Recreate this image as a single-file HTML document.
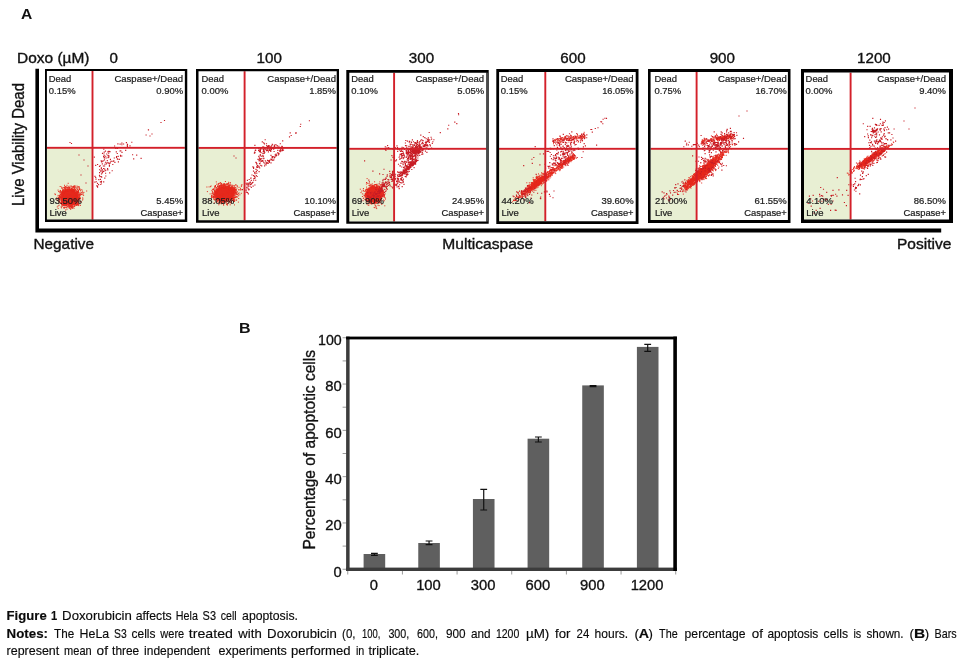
<!DOCTYPE html>
<html lang="en"><head><meta charset="utf-8"><title>Figure 1</title>
<style>html,body{margin:0;padding:0;background:#fff}body{width:960px;height:664px;position:relative;overflow:hidden}svg text{white-space:pre}</style></head>
<body>
<svg width="960" height="664" viewBox="0 0 960 664" style="position:absolute;left:0;top:0" shape-rendering="geometricPrecision">
<path d="M35.4 68.8H39.0V228.4H941.2V232.6H35.4Z" fill="#000"/>
<defs>
<clipPath id="c0"><rect x="46.90" y="71.00" width="137.95" height="148.60"/></clipPath>
<clipPath id="c1"><rect x="198.50" y="71.20" width="138.20" height="149.10"/></clipPath>
<clipPath id="c2"><rect x="349.30" y="72.70" width="137.10" height="148.80"/></clipPath>
<clipPath id="c3"><rect x="499.10" y="72.00" width="136.60" height="149.20"/></clipPath>
<clipPath id="c4"><rect x="650.60" y="72.00" width="137.30" height="148.00"/></clipPath>
<clipPath id="c5"><rect x="804.00" y="72.60" width="145.00" height="146.90"/></clipPath>
</defs>
<rect x="46.90" y="147.80" width="45.60" height="71.80" fill="#e8efd3"/>
<g clip-path="url(#c0)" fill="none" stroke-linecap="square" stroke-width="1">
<ellipse cx="69.8" cy="197.4" rx="8.0" ry="7.6" fill="#e6291d" stroke="none"/>
<path stroke="#e6291d" d="M62.6 200.9h0M62.5 190.3h0M67.0 204.4h0M61.1 196.1h0M63.5 200.8h0M75.3 189.1h0M61.6 187.1h0M76.7 199.9h0M63.1 202.7h0M61.3 194.8h0M73.4 190.0h0M64.2 204.0h0M75.8 193.2h0M75.2 192.2h0M78.4 198.7h0M77.7 186.9h0M80.2 198.9h0M58.1 195.4h0M73.5 203.5h0M62.5 196.0h0M74.5 186.4h0M74.5 191.5h0M81.6 192.7h0M63.2 191.2h0M65.4 191.4h0M76.1 193.6h0M73.1 203.9h0M66.0 203.8h0M61.3 203.2h0M76.2 193.2h0M74.7 203.5h0M59.9 195.8h0M61.8 200.8h0M76.2 204.0h0M61.7 193.0h0M61.4 201.8h0M77.5 197.6h0M62.7 194.9h0M63.1 194.8h0M59.7 198.7h0M67.0 189.4h0M60.2 193.8h0M71.7 188.9h0M78.1 190.2h0M71.8 207.3h0M77.9 196.9h0M81.3 202.1h0M72.5 186.8h0M77.0 199.2h0M61.4 201.6h0M75.5 204.8h0M78.9 201.7h0M64.7 191.9h0M77.1 201.5h0M77.6 200.7h0M60.5 194.3h0M61.6 197.6h0M65.1 186.6h0M65.3 203.9h0M76.2 200.3h0M76.9 201.4h0M68.9 207.8h0M70.2 208.0h0M67.9 189.2h0M77.7 199.5h0M69.0 189.9h0M61.6 197.2h0M72.5 190.2h0M62.0 193.0h0M76.3 202.2h0M71.9 190.9h0M69.1 186.2h0M79.8 196.1h0M74.6 187.7h0M72.4 207.0h0M70.9 206.1h0M66.5 204.6h0M77.0 197.5h0M76.3 202.0h0M67.6 206.8h0M62.3 204.7h0M75.7 192.4h0M63.3 190.8h0M72.2 206.0h0M81.8 189.7h0M61.7 193.8h0M77.8 195.1h0M62.2 203.3h0M73.7 190.2h0M76.2 195.0h0M65.4 191.8h0M77.1 199.2h0M70.9 206.6h0M64.9 189.3h0M71.1 204.2h0M66.8 207.1h0M64.5 188.8h0M72.5 208.2h0M77.0 192.3h0M68.2 183.3h0M73.8 206.2h0M64.8 203.4h0M63.1 204.0h0M63.1 201.4h0M69.6 188.6h0M77.0 197.6h0M80.1 194.7h0M73.1 191.1h0M72.1 203.9h0M64.3 207.6h0M79.3 189.3h0M69.7 189.5h0M74.9 204.4h0M59.1 205.2h0M61.9 198.6h0M74.9 189.7h0M69.3 204.5h0M66.0 206.9h0M79.3 187.0h0M79.1 197.7h0M62.7 200.9h0M62.4 202.1h0M63.8 190.4h0M60.1 196.2h0M73.6 187.3h0M80.8 193.5h0M62.9 201.9h0M68.4 188.8h0M70.4 190.3h0M69.0 190.3h0M78.7 186.7h0M68.9 189.9h0M74.0 208.3h0M59.0 197.9h0M72.2 188.2h0M60.1 197.3h0M75.1 205.6h0M65.9 189.5h0M73.5 203.7h0M62.0 193.3h0M80.5 205.3h0M65.1 202.8h0M61.9 188.3h0M60.7 196.7h0M76.5 204.6h0M75.0 192.2h0M76.3 194.8h0M69.9 206.3h0M76.8 200.0h0M78.4 200.0h0M78.1 197.7h0M66.1 203.3h0M67.0 189.9h0M69.4 187.5h0M70.4 206.3h0M63.7 187.6h0M61.7 198.9h0M67.1 189.7h0M63.4 199.9h0M78.1 201.6h0M77.5 203.3h0M64.6 203.1h0M73.6 189.6h0M77.7 200.7h0M78.7 192.4h0M74.3 191.3h0M64.5 191.7h0M63.0 200.1h0M70.7 186.1h0M62.1 197.8h0M65.1 203.7h0M69.1 207.2h0M76.4 200.9h0M67.3 190.6h0M63.3 203.3h0M62.7 196.0h0M74.4 203.9h0M66.1 191.7h0M67.4 189.8h0M76.7 196.4h0M78.6 203.7h0M77.4 196.7h0M63.7 201.7h0M64.0 201.2h0M63.4 194.3h0M68.3 189.1h0M65.3 189.0h0M58.2 198.1h0M73.8 203.5h0M63.2 195.7h0M61.0 202.7h0M64.1 201.7h0M78.7 205.6h0M71.3 204.6h0M74.9 202.6h0M71.5 207.8h0M73.1 190.5h0M76.7 197.5h0M77.4 193.9h0M77.4 200.1h0M76.0 193.4h0M75.0 203.4h0M80.4 198.1h0M70.6 204.5h0M76.1 193.3h0M74.3 204.9h0M64.0 192.9h0M65.3 189.8h0M71.7 189.8h0M62.9 196.1h0M61.6 200.6h0M61.5 195.4h0M78.0 197.7h0M65.6 190.6h0M65.7 188.7h0M63.9 207.5h0M65.3 204.3h0M62.5 196.3h0M58.1 197.0h0M65.5 191.4h0M64.8 192.0h0M76.5 199.0h0M65.7 191.3h0M71.3 188.4h0M73.1 190.9h0M63.5 190.0h0M61.3 192.1h0M77.9 204.8h0M77.2 201.8h0M76.9 199.6h0M67.9 189.5h0M60.1 199.7h0M69.5 208.0h0M74.1 204.4h0M74.5 203.2h0M64.1 202.1h0M76.9 195.0h0M80.6 201.5h0M67.5 190.0h0M77.8 196.3h0M61.7 201.1h0M62.5 192.2h0M73.4 189.6h0M77.7 199.4h0M73.1 189.8h0M74.4 191.4h0M66.0 189.1h0M62.5 195.0h0M72.0 203.9h0M69.6 204.2h0M76.4 201.3h0M61.8 193.2h0M82.6 200.0h0M76.7 195.1h0M74.4 187.8h0M61.7 194.5h0M59.7 200.0h0M77.7 204.5h0M63.0 189.5h0M82.8 194.7h0M77.4 192.3h0M62.2 187.9h0M70.1 187.7h0M63.7 193.6h0M79.4 199.5h0M71.6 206.8h0M75.8 191.0h0M77.9 202.8h0M75.1 203.9h0M65.9 205.5h0M78.8 204.9h0M78.4 200.4h0M61.1 206.9h0M79.6 197.3h0M72.9 203.8h0M74.5 190.5h0M73.0 204.5h0M73.3 189.9h0M64.5 202.0h0M77.9 200.5h0M69.8 205.0h0M62.6 193.0h0M74.5 188.8h0M61.7 203.4h0M58.7 202.0h0M73.0 188.9h0M73.1 190.1h0M79.5 194.9h0M77.1 196.1h0M73.0 189.5h0M60.4 195.0h0M67.0 209.2h0M67.7 204.2h0M63.3 199.9h0M76.6 195.7h0M63.6 192.1h0M58.8 197.5h0M71.6 189.3h0M71.7 189.6h0M74.3 190.9h0M61.3 201.4h0M76.3 194.0h0M54.9 193.9h0M63.6 205.4h0M61.9 193.6h0M62.0 196.0h0M77.8 196.4h0M75.4 186.1h0M61.5 207.8h0M63.4 201.2h0M55.4 194.6h0M61.9 196.3h0M63.9 192.6h0M77.3 202.6h0M78.3 200.3h0M60.3 192.2h0M77.5 194.0h0M66.2 205.5h0M61.1 191.2h0M59.3 197.7h0M66.6 205.2h0M62.2 198.1h0M75.5 202.8h0M62.1 200.1h0M62.0 204.6h0M72.6 207.1h0M68.9 204.4h0M73.5 204.6h0M76.0 193.6h0M76.1 191.9h0M76.9 203.4h0M73.6 191.3h0M75.6 202.1h0M72.2 206.2h0M69.7 189.7h0M69.2 189.7h0M67.5 190.3h0M67.1 205.5h0M65.8 203.9h0M62.9 195.3h0M70.6 189.7h0M77.0 197.1h0M62.8 190.5h0M77.1 198.6h0M75.4 189.7h0M73.5 203.7h0M73.2 191.5h0M64.3 203.1h0M78.4 191.9h0M59.1 201.2h0M74.4 190.6h0M65.8 190.8h0M79.1 195.8h0M77.5 189.1h0M64.8 204.5h0M76.3 202.7h0M61.8 200.4h0M76.7 197.0h0M76.3 202.0h0M77.4 193.3h0M73.3 203.3h0M65.8 203.2h0M66.4 190.5h0M69.0 187.5h0M62.4 195.2h0M77.2 203.5h0M75.7 202.1h0M66.9 190.5h0M61.1 197.3h0M73.1 204.3h0M71.7 205.9h0M57.6 200.4h0M59.2 195.6h0M62.9 194.8h0M75.0 192.3h0M72.3 189.4h0M67.4 204.0h0M64.1 208.4h0M78.5 197.8h0M58.7 191.5h0M65.2 202.9h0M62.0 201.0h0M62.9 192.5h0M68.7 186.9h0M73.0 189.6h0M66.5 203.4h0M68.0 190.6h0M71.5 186.2h0M59.7 196.0h0M69.1 188.2h0M65.6 205.3h0M75.2 201.6h0M62.8 202.1h0M61.7 202.3h0M65.7 210.0h0M74.5 204.2h0M69.9 189.8h0M60.8 198.2h0M62.0 193.3h0M72.0 205.6h0M65.0 202.9h0M79.0 187.4h0M78.7 204.6h0M79.3 197.9h0M73.9 202.8h0M64.7 205.2h0M67.9 189.1h0M70.5 204.6h0M82.9 199.0h0M66.2 205.1h0M74.0 202.8h0M72.2 207.9h0M75.0 192.9h0M65.3 186.6h0M59.7 202.8h0M62.1 191.5h0M74.0 191.4h0M65.2 207.4h0M76.9 197.4h0M58.1 190.1h0M68.9 206.3h0M63.0 198.5h0M73.5 204.1h0M74.1 189.7h0M63.8 202.7h0M58.2 205.9h0M62.2 198.4h0M64.2 191.3h0M75.7 193.4h0M60.9 198.8h0M61.8 196.8h0M66.4 191.5h0M70.7 190.4h0M76.8 200.9h0M77.7 197.3h0M82.7 197.9h0M75.0 191.9h0M68.7 204.6h0M60.2 200.1h0M61.5 200.3h0M72.1 187.6h0M69.4 206.3h0M77.7 199.4h0M73.5 186.5h0M82.5 191.1h0M61.3 198.2h0M68.6 206.0h0M60.6 191.2h0M64.0 205.6h0M73.1 203.9h0M62.6 195.1h0M74.8 206.0h0M65.7 204.3h0M70.4 205.7h0M60.8 197.3h0M80.1 198.3h0M62.2 197.9h0M70.7 204.2h0M63.6 193.4h0M64.1 207.2h0M77.4 197.3h0M71.5 188.6h0M74.1 191.5h0M74.6 188.9h0M75.7 193.6h0M73.6 191.0h0M73.2 191.0h0M77.2 196.0h0M69.7 205.2h0M60.4 197.8h0M63.9 201.9h0M77.3 194.7h0M65.1 191.0h0M73.7 191.2h0M64.8 203.7h0M65.7 191.1h0M77.5 199.4h0M71.3 205.9h0M62.8 191.9h0M74.5 206.2h0M62.3 199.5h0M62.7 204.0h0M59.6 200.9h0M62.1 205.9h0M77.4 200.1h0M63.0 199.6h0M75.2 193.2h0M78.5 194.9h0M64.2 201.7h0M61.7 204.6h0M62.6 193.9h0M80.6 195.2h0M72.5 206.0h0M62.0 199.8h0M64.9 192.0h0M63.6 204.4h0M63.6 205.1h0M63.1 201.3h0M62.9 188.9h0M76.4 194.9h0M73.2 205.0h0M65.3 189.7h0M61.4 197.3h0M68.6 205.2h0M71.8 189.8h0M77.2 192.2h0M69.4 189.8h0M64.6 190.6h0M63.4 192.8h0M64.6 187.5h0M62.5 194.9h0M77.6 199.3h0M71.3 204.5h0M71.9 205.0h0M77.1 198.8h0M71.1 205.6h0M77.6 197.2h0M76.8 196.3h0M79.0 194.5h0M78.4 198.1h0M64.1 204.3h0M74.0 203.3h0M56.9 199.6h0M76.3 193.6h0M61.9 198.5h0M79.1 198.6h0M67.2 187.8h0M72.9 190.1h0M73.5 191.1h0M63.5 191.4h0M75.7 204.4h0M70.7 209.4h0M71.7 190.0h0M65.1 192.4h0M77.5 196.3h0M70.4 206.9h0M72.8 204.3h0M75.8 201.8h0M77.2 191.6h0M78.2 197.5h0M62.3 194.8h0M63.4 193.3h0M73.6 190.8h0M68.8 189.5h0M60.4 190.4h0M64.1 190.1h0M69.0 190.1h0M76.8 193.3h0M66.3 190.2h0M61.8 200.9h0M74.2 206.3h0M76.4 194.5h0M77.0 186.1h0M77.1 191.3h0M66.3 203.6h0M71.2 188.9h0M76.2 202.1h0M60.0 195.1h0M61.8 202.4h0M65.6 187.4h0M67.6 206.1h0M67.0 185.3h0M69.6 190.5h0M68.7 204.3h0M74.6 191.6h0M78.2 198.1h0M77.4 205.1h0M74.7 202.9h0M69.9 204.7h0M65.6 190.7h0M77.4 189.8h0M74.6 203.2h0M76.5 195.1h0M72.4 203.8h0M61.0 192.5h0M80.2 198.2h0M59.4 196.7h0M56.5 198.0h0M71.4 207.7h0M74.0 203.9h0M77.7 204.6h0M62.2 202.0h0M65.3 190.5h0M78.8 200.3h0M78.3 195.7h0M74.3 191.4h0M72.7 189.1h0M78.0 201.4h0M76.1 200.4h0M66.2 190.9h0M77.1 195.5h0M60.6 203.1h0M66.0 191.4h0M62.3 205.1h0M70.7 189.7h0M66.7 187.1h0M72.2 204.0h0M74.9 190.6h0M77.4 203.7h0M69.2 204.6h0M72.1 190.3h0M72.3 190.6h0M63.0 196.0h0M76.6 198.7h0M62.8 191.6h0M70.9 189.8h0M67.5 187.3h0M77.8 193.9h0M68.1 190.6h0M78.8 193.2h0M79.2 196.3h0M76.3 200.3h0M79.0 203.3h0M73.2 203.6h0M77.0 191.8h0M59.2 199.1h0M63.1 198.8h0M73.6 207.1h0M76.0 202.1h0M73.1 203.4h0M62.8 201.1h0M77.1 197.9h0M62.6 191.9h0M74.4 191.2h0M71.1 206.3h0M75.3 192.9h0M70.1 206.6h0M74.2 185.6h0M68.8 190.6h0M74.4 190.8h0M76.4 194.8h0M78.1 199.9h0M65.8 203.5h0M71.5 189.3h0M73.3 187.8h0M75.5 193.5h0M66.5 205.1h0M62.9 193.4h0M62.1 201.6h0M76.5 203.8h0M61.9 196.3h0M79.8 188.8h0M67.3 188.2h0M76.5 205.4h0M70.3 189.2h0M63.5 204.5h0M60.6 197.3h0M78.5 191.4h0M59.8 196.8h0M64.5 192.0h0M68.3 190.7h0M62.4 192.1h0M68.5 190.7h0M68.6 205.1h0M60.2 186.5h0M66.0 203.4h0M59.1 201.5h0M59.5 198.3h0M66.4 187.2h0M74.7 204.1h0M68.8 187.4h0M74.3 191.6h0M64.3 205.7h0M76.0 193.0h0M63.8 204.0h0M63.6 204.3h0M65.9 204.0h0M77.0 200.1h0M78.6 192.1h0M60.6 194.5h0M78.1 202.4h0M69.7 189.3h0M74.8 192.5h0M60.1 191.0h0M64.5 187.8h0M62.1 206.2h0M83.6 195.3h0M65.6 202.8h0M62.7 200.1h0M77.8 194.6h0M77.5 197.6h0M77.5 197.7h0M63.5 194.6h0M60.6 203.0h0M79.3 194.8h0M76.1 193.3h0M71.7 190.0h0M66.8 203.7h0M74.4 204.2h0M76.3 194.5h0M74.1 203.0h0M61.4 193.4h0M63.2 204.1h0M83.9 192.4h0M72.4 190.9h0M61.5 199.6h0M61.2 203.2h0M69.8 204.9h0M77.0 201.6h0M64.3 205.3h0M77.1 196.1h0M77.6 202.7h0M62.0 199.1h0M79.3 195.2h0M62.9 195.1h0M81.6 194.5h0M63.0 205.0h0M66.3 207.7h0M70.2 208.4h0M65.9 188.8h0M61.8 201.9h0M63.0 193.3h0M73.3 204.4h0M77.8 203.1h0M68.8 205.8h0M75.7 187.3h0M75.3 201.7h0M83.0 193.6h0M64.0 204.2h0M63.2 193.5h0M65.9 190.6h0M59.7 196.7h0M64.5 185.3h0M79.4 196.9h0M77.0 194.4h0M59.4 192.1h0M63.8 194.1h0M68.3 201.5h0M73.4 202.2h0M72.1 195.8h0M80.8 192.1h0M76.2 190.1h0M80.7 194.4h0M71.3 195.0h0M67.9 201.4h0M74.1 194.4h0M67.9 203.0h0M77.2 192.3h0M79.2 188.4h0M76.0 190.5h0M79.7 189.8h0M78.5 190.3h0M76.1 196.1h0M67.8 199.0h0M69.1 200.1h0M68.8 197.0h0M72.9 198.4h0M66.9 199.3h0M70.1 195.7h0M68.1 198.1h0M71.6 192.0h0M72.3 192.5h0M75.4 199.6h0M67.2 198.9h0M72.4 198.2h0M67.7 194.0h0M64.1 201.7h0M75.2 196.5h0M70.4 198.7h0M68.4 201.8h0M71.3 194.5h0M75.6 198.0h0M66.4 196.4h0M65.6 197.1h0M72.7 196.3h0M71.9 196.5h0M78.5 190.6h0M62.9 195.9h0M73.0 193.4h0M71.7 197.2h0M73.0 191.0h0M67.5 199.1h0M73.2 198.1h0M67.2 193.6h0M76.7 188.2h0M67.8 199.8h0M69.9 203.9h0M74.4 195.6h0M72.9 201.1h0M74.5 192.2h0M77.1 187.8h0M69.7 198.2h0M72.0 193.3h0M82.8 192.4h0M67.9 199.6h0M68.6 197.0h0M77.9 192.1h0M72.0 196.1h0M67.7 202.0h0M70.1 200.6h0M69.5 196.4h0M80.7 190.4h0M68.4 196.9h0M78.1 196.7h0M75.3 192.5h0M65.6 198.4h0M72.2 196.4h0M70.6 200.2h0M66.5 197.7h0M75.8 194.5h0M71.6 198.7h0M67.0 203.6h0M86.7 191.0h0M75.6 198.6h0M74.4 197.7h0M71.7 196.6h0M73.1 190.4h0M73.5 199.4h0M57.3 206.9h0M77.9 192.7h0M75.3 197.3h0M71.9 190.8h0M67.1 198.4h0M72.7 194.2h0M74.0 198.9h0M58.2 208.4h0M78.3 193.2h0M72.7 195.6h0M74.8 194.6h0M69.6 199.6h0M68.0 198.5h0M69.1 194.7h0M75.7 193.2h0M66.2 199.6h0M66.9 203.2h0M77.7 197.2h0M70.3 198.9h0M66.3 197.5h0M72.5 196.6h0M77.1 191.6h0M79.6 193.2h0M67.6 198.4h0M69.7 201.9h0M70.6 199.1h0M77.1 191.7h0M70.3 197.9h0M66.8 196.0h0M67.8 199.6h0M75.7 198.0h0M63.4 203.1h0M67.8 201.8h0M76.4 193.2h0M79.9 189.4h0M68.4 195.5h0M69.1 198.1h0M77.7 195.4h0M70.2 195.2h0"/>
<path stroke-width="1.15" stroke="#c81c24" d="M106.3 163.8h0M101.5 181.4h0M101.4 167.8h0M101.4 182.9h0M101.3 168.8h0M99.5 175.3h0M101.2 160.9h0M104.6 157.8h0M103.8 166.0h0M108.8 157.1h0M103.3 166.0h0M99.6 169.7h0M109.3 151.6h0M94.9 182.1h0M109.4 166.1h0M108.9 151.4h0M104.5 159.9h0M103.7 181.9h0M105.7 156.2h0M106.7 154.0h0M103.7 171.3h0M99.5 166.3h0M108.0 155.6h0M105.8 176.0h0M96.8 185.9h0M98.6 184.6h0M104.9 164.2h0M101.2 176.5h0M104.8 178.1h0M104.0 154.0h0M103.8 149.1h0M101.7 177.1h0M108.7 153.2h0M95.7 177.5h0M100.8 184.5h0M102.3 163.9h0M108.9 155.8h0M105.1 170.7h0M104.1 157.4h0M108.0 151.7h0M99.9 176.6h0M95.0 176.4h0M103.2 160.9h0M100.5 179.3h0M105.5 151.1h0M104.7 169.1h0M97.4 186.0h0M102.5 153.4h0M101.5 174.0h0M107.3 160.6h0M101.7 161.9h0M100.4 181.8h0M104.2 152.1h0M106.2 158.0h0M98.8 179.6h0M103.6 156.3h0M97.5 183.3h0M105.8 170.2h0M99.6 172.6h0M101.0 170.6h0M97.6 187.1h0M104.3 155.7h0M100.3 165.7h0M96.3 181.7h0M104.3 157.9h0M110.4 159.3h0M105.5 162.2h0M102.0 161.4h0M107.9 151.9h0M102.6 172.1h0M103.6 168.5h0M108.0 155.4h0M102.2 172.9h0M104.6 166.0h0M96.0 179.1h0M110.3 162.9h0M111.4 161.2h0M120.0 151.0h0M109.7 172.9h0M113.8 160.8h0M113.0 161.3h0M112.2 170.7h0M116.6 156.6h0M118.4 161.9h0M107.0 162.7h0M114.3 158.0h0M117.5 159.1h0M119.4 159.2h0M105.6 173.2h0M95.7 165.4h0M107.6 168.6h0M103.1 171.3h0M110.8 161.2h0M112.8 164.5h0M109.4 165.0h0M97.6 164.5h0M107.8 169.9h0M102.5 169.8h0M117.3 158.7h0M94.3 157.1h0M100.9 171.3h0M117.2 148.2h0M108.2 162.9h0M122.0 152.3h0M108.1 157.6h0M118.2 156.3h0M116.3 151.8h0M109.2 163.4h0M115.7 148.5h0M114.9 162.3h0M117.9 143.8h0M120.1 144.1h0M127.3 145.2h0M127.5 144.4h0M130.0 145.8h0M121.9 144.7h0M126.4 142.6h0M114.6 146.0h0M123.6 144.0h0M121.9 143.1h0M117.5 148.5h0M132.6 154.7h0M119.1 159.4h0M121.8 156.0h0M120.8 150.8h0M125.7 150.3h0M110.1 151.7h0M133.7 158.8h0M141.1 158.4h0M136.7 155.1h0M120.6 156.1h0M116.5 157.3h0M120.5 155.2h0M117.3 153.5h0M148.4 129.7h0M127.4 146.3h0M148.5 129.8h0M146.1 135.0h0M131.8 142.2h0M164.5 120.5h0M161.0 122.5h0M152.0 134.0h0M150.0 136.0h0M70.0 142.5h0M71.5 143.5h0M79.0 155.0h0M84.0 160.0h0M88.0 166.0h0M86.0 183.0h0M81.0 175.0h0"/>
</g>
<rect x="46.90" y="146.85" width="137.95" height="1.9" fill="#d3202a"/>
<rect x="91.55" y="71.00" width="1.9" height="148.60" fill="#d3202a"/>
<path fill-rule="evenodd" fill="#000" d="M45.0 69.0H187.25V222.0H45.0ZM46.90 71.00V219.60H184.85V71.00Z"/>
<rect x="198.50" y="147.90" width="46.10" height="72.40" fill="#e8efd3"/>
<g clip-path="url(#c1)" fill="none" stroke-linecap="square" stroke-width="1">
<ellipse cx="224.5" cy="193.6" rx="9.0" ry="6.4" fill="#e6291d" stroke="none"/>
<path stroke="#e6291d" d="M225.4 186.6h0M229.5 186.0h0M220.4 201.1h0M230.2 198.0h0M231.5 191.2h0M234.1 199.3h0M226.9 200.7h0M231.4 189.5h0M219.8 187.1h0M238.4 202.1h0M215.0 196.2h0M218.2 197.2h0M241.1 189.7h0M236.3 190.7h0M217.3 189.8h0M224.2 202.5h0M209.1 186.9h0M232.7 191.7h0M213.0 197.3h0M215.6 192.9h0M233.2 190.5h0M231.1 197.4h0M216.4 192.5h0M220.8 202.7h0M237.4 186.1h0M235.4 195.0h0M215.7 192.1h0M217.6 187.0h0M218.5 189.8h0M234.7 192.4h0M231.3 198.3h0M214.5 194.3h0M219.2 187.7h0M232.1 195.1h0M235.0 197.5h0M217.7 198.1h0M236.3 194.3h0M230.0 189.5h0M224.4 184.1h0M214.0 194.6h0M217.9 200.3h0M231.4 197.7h0M215.6 192.1h0M223.1 187.7h0M218.6 199.6h0M223.8 200.7h0M221.0 199.5h0M232.6 191.2h0M221.5 185.6h0M221.4 186.3h0M220.0 183.3h0M218.2 197.5h0M225.5 188.1h0M225.5 188.1h0M233.7 199.5h0M227.7 198.7h0M221.8 185.9h0M212.4 193.7h0M221.6 187.8h0M220.3 185.7h0M218.9 197.7h0M221.3 199.7h0M217.6 198.6h0M217.5 198.8h0M211.9 190.4h0M232.9 196.3h0M217.6 196.3h0M216.4 193.9h0M232.2 192.7h0M216.1 193.0h0M232.9 187.1h0M232.9 194.3h0M231.9 196.2h0M216.8 194.6h0M232.5 194.3h0M234.3 190.9h0M220.1 187.7h0M232.2 197.3h0M222.5 187.1h0M221.6 183.6h0M230.8 190.1h0M215.6 192.3h0M218.3 198.3h0M229.8 185.8h0M226.7 200.4h0M218.1 184.4h0M233.1 189.0h0M216.7 184.2h0M232.4 200.5h0M216.8 202.0h0M227.8 200.3h0M216.8 191.3h0M223.7 183.9h0M214.2 194.1h0M233.2 189.4h0M220.0 199.4h0M232.9 188.1h0M231.9 189.3h0M237.1 191.5h0M223.8 186.8h0M216.7 192.8h0M218.0 197.8h0M211.1 186.0h0M234.6 201.0h0M218.7 199.6h0M217.2 191.1h0M230.5 188.8h0M224.1 199.9h0M216.6 192.4h0M232.6 192.1h0M236.7 194.2h0M220.8 201.3h0M225.9 187.5h0M220.0 199.1h0M220.0 200.3h0M221.0 186.9h0M232.4 197.7h0M232.8 185.4h0M223.3 201.0h0M217.7 200.9h0M231.9 198.6h0M218.7 184.9h0M230.6 202.1h0M220.4 198.5h0M217.7 201.7h0M220.8 201.6h0M225.9 201.2h0M236.8 193.4h0M233.0 191.2h0M224.5 200.2h0M224.7 187.1h0M232.0 191.1h0M220.7 182.8h0M228.2 201.5h0M226.9 186.2h0M232.2 196.9h0M211.5 195.4h0M218.6 186.1h0M218.6 190.0h0M227.8 187.0h0M234.2 194.2h0M219.6 189.0h0M227.2 200.9h0M225.5 200.7h0M232.2 194.8h0M215.0 194.7h0M222.6 184.9h0M216.4 192.7h0M217.6 186.1h0M220.1 201.9h0M228.3 187.9h0M217.2 190.9h0M228.9 188.8h0M227.7 188.7h0M218.8 199.3h0M217.0 197.5h0M227.8 187.0h0M238.6 193.7h0M219.9 203.4h0M234.2 197.5h0M229.4 188.9h0M232.7 193.1h0M233.1 198.7h0M233.7 195.3h0M230.5 189.1h0M214.0 192.6h0M218.3 197.9h0M222.5 188.3h0M226.8 200.2h0M220.4 199.0h0M220.4 187.4h0M215.9 195.9h0M214.2 190.3h0M230.6 187.7h0M236.6 200.0h0M230.2 189.5h0M217.5 190.7h0M213.7 194.1h0M233.2 196.1h0M221.6 186.0h0M225.0 199.7h0M219.4 189.2h0M219.7 186.6h0M215.4 185.5h0M236.0 192.9h0M229.9 200.5h0M221.7 202.5h0M215.2 195.2h0M226.6 184.3h0M231.3 198.2h0M213.6 194.1h0M231.6 189.1h0M232.3 191.5h0M217.2 189.6h0M233.6 198.7h0M210.1 193.9h0M222.9 188.0h0M222.3 202.0h0M223.5 202.2h0M229.5 201.6h0M223.6 186.1h0M217.5 200.3h0M230.8 198.6h0M226.8 204.7h0M232.7 194.8h0M211.8 197.6h0M230.5 199.4h0M216.1 189.7h0M233.5 191.5h0M215.2 195.2h0M222.4 199.6h0M226.7 183.8h0M232.5 194.3h0M219.1 189.6h0M225.9 202.9h0M214.7 190.6h0M220.7 188.6h0M206.9 187.0h0M231.9 188.8h0M222.0 187.7h0M236.4 196.4h0M226.2 187.7h0M225.7 187.9h0M216.1 193.5h0M233.9 185.8h0M231.1 190.5h0M218.7 198.4h0M227.1 201.7h0M221.9 200.2h0M226.0 201.3h0M215.5 195.2h0M215.9 194.0h0M225.1 199.4h0M234.3 195.9h0M227.5 203.9h0M218.2 199.8h0M223.8 201.9h0M218.8 198.8h0M228.9 187.7h0M237.0 197.2h0M226.5 202.2h0M237.0 188.0h0M224.7 187.5h0M216.7 196.0h0M217.8 190.3h0M216.6 191.8h0M215.3 191.7h0M219.8 203.7h0M235.2 191.2h0M215.0 196.7h0M216.0 194.8h0M229.4 198.8h0M231.5 190.7h0M232.9 192.7h0M234.7 190.6h0M227.7 186.9h0M222.1 199.7h0M223.8 188.0h0M222.6 187.7h0M214.8 199.6h0M218.9 188.5h0M209.6 200.1h0M231.9 185.1h0M228.2 186.6h0M233.1 189.2h0M222.9 188.0h0M235.0 194.1h0M228.4 183.5h0M222.6 188.2h0M215.9 199.2h0M231.6 189.5h0M231.7 186.1h0M220.7 188.7h0M224.1 199.3h0M215.0 192.6h0M214.3 202.8h0M217.7 196.8h0M213.7 196.4h0M229.0 201.0h0M238.7 198.5h0M229.2 186.3h0M234.6 193.8h0M225.5 186.2h0M233.1 190.1h0M230.8 197.8h0M232.8 192.9h0M231.6 202.9h0M216.3 181.9h0M223.9 203.2h0M214.2 189.0h0M233.4 190.4h0M227.1 198.7h0M224.3 188.2h0M219.1 188.6h0M232.9 190.2h0M234.0 200.5h0M224.1 185.4h0M220.3 185.5h0M222.4 199.1h0M224.5 187.1h0M223.6 199.1h0M232.1 191.5h0M213.5 197.0h0M222.5 187.2h0M224.6 185.2h0M220.1 188.2h0M217.6 197.3h0M229.0 198.6h0M215.9 193.8h0M228.3 198.4h0M237.2 186.1h0M217.8 190.8h0M227.4 188.4h0M218.2 199.0h0M219.3 187.9h0M225.6 201.5h0M217.7 188.9h0M233.9 187.8h0M227.0 200.1h0M219.2 186.5h0M231.8 189.0h0M234.4 201.4h0M227.2 199.5h0M216.4 201.6h0M227.6 186.5h0M221.8 199.8h0M221.7 184.0h0M231.2 197.9h0M211.4 196.5h0M216.6 199.0h0M221.9 187.2h0M217.7 190.7h0M239.9 194.8h0M223.0 188.2h0M230.8 188.6h0M226.7 187.2h0M230.9 198.8h0M226.3 188.2h0M233.1 192.4h0M231.8 188.8h0M229.8 188.2h0M231.2 189.4h0M233.7 193.9h0M233.6 191.9h0M225.3 187.9h0M233.6 190.0h0M229.6 198.9h0M230.0 184.6h0M223.8 200.7h0M222.1 200.1h0M224.9 200.8h0M224.5 185.2h0M227.3 200.8h0M227.6 199.9h0M223.4 199.3h0M230.7 185.2h0M214.5 191.3h0M219.4 202.6h0M225.5 186.5h0M225.2 200.2h0M212.6 192.1h0M231.8 187.5h0M216.9 191.3h0M222.2 201.5h0M217.3 196.7h0M217.7 197.1h0M216.9 190.1h0M217.5 186.5h0M229.4 199.1h0M225.8 186.4h0M215.4 186.5h0M228.7 187.8h0M226.2 188.0h0M223.5 184.9h0M234.7 191.1h0M232.2 187.7h0M226.5 186.4h0M226.6 188.1h0M233.5 197.0h0M223.6 199.6h0M218.7 200.4h0M234.3 197.3h0M232.1 187.6h0M220.3 199.6h0M229.6 188.5h0M232.2 188.8h0M232.4 198.7h0M225.2 188.1h0M229.5 187.7h0M235.0 188.7h0M228.4 188.2h0M235.1 192.6h0M215.1 191.7h0M231.9 198.4h0M216.5 199.8h0M233.5 192.0h0M219.3 198.9h0M219.3 202.7h0M216.5 191.8h0M217.3 188.9h0M224.0 184.7h0M216.0 195.5h0M222.5 185.2h0M228.3 188.4h0M221.1 198.8h0M231.9 191.8h0M230.1 199.6h0M232.3 197.7h0M220.3 182.8h0M216.1 192.7h0M221.6 199.4h0M224.0 186.6h0M216.1 193.0h0M226.2 187.2h0M215.4 196.0h0M227.9 199.5h0M218.8 204.8h0M214.7 199.9h0M233.3 194.6h0M234.3 189.8h0M218.8 188.8h0M223.9 187.6h0M230.3 189.5h0M214.9 187.3h0M241.3 193.3h0M213.7 196.3h0M214.0 198.9h0M232.2 199.3h0M234.9 191.0h0M225.8 184.6h0M229.8 202.1h0M215.4 193.6h0M227.4 199.2h0M237.5 194.7h0M230.6 198.8h0M229.6 187.4h0M229.2 187.5h0M234.0 193.0h0M216.6 192.6h0M215.4 190.8h0M229.1 188.8h0M215.2 191.0h0M218.7 198.0h0M232.2 196.6h0M222.4 187.7h0M219.6 198.1h0M235.6 189.5h0M215.8 197.4h0M222.1 200.2h0M227.6 183.8h0M238.6 195.8h0M227.4 199.7h0M228.5 187.4h0M235.2 192.3h0M223.6 184.3h0M231.5 190.2h0M215.4 193.3h0M231.1 200.9h0M225.8 201.0h0M231.2 198.3h0M214.5 186.9h0M227.7 199.7h0M221.6 185.0h0M233.8 198.8h0M234.0 188.8h0M232.3 186.5h0M227.5 205.0h0M222.7 188.0h0M234.3 197.8h0M213.2 189.6h0M237.2 192.2h0M218.1 189.8h0M218.9 186.7h0M225.0 185.0h0M218.5 197.2h0M233.4 195.9h0M225.4 181.5h0M215.2 200.0h0M232.6 191.9h0M226.3 199.0h0M220.8 184.6h0M219.7 187.4h0M213.9 197.6h0M230.9 187.3h0M213.4 189.3h0M221.3 200.0h0M223.6 201.0h0M219.1 189.0h0M214.1 188.9h0M222.5 198.8h0M234.7 189.2h0M221.1 199.1h0M220.1 199.3h0M229.3 189.3h0M224.5 200.9h0M218.5 198.7h0M220.6 199.2h0M220.3 199.5h0M220.0 189.0h0M221.5 187.6h0M212.8 189.4h0M232.3 194.3h0M231.7 200.3h0M236.0 193.0h0M222.2 203.3h0M211.6 197.3h0M222.4 187.9h0M233.8 191.6h0M216.5 198.2h0M227.3 199.4h0M220.3 199.4h0M212.3 191.9h0M210.5 186.7h0M211.9 193.8h0M216.7 197.4h0M214.6 197.8h0M223.7 205.0h0M235.3 197.0h0M217.2 191.7h0M219.4 199.3h0M218.8 187.6h0M224.7 187.8h0M220.2 200.5h0M223.7 185.7h0M221.3 200.6h0M228.6 182.3h0M216.6 193.7h0M219.3 198.8h0M231.1 197.7h0M223.6 201.4h0M232.2 190.0h0M229.1 188.2h0M231.6 189.3h0M230.9 188.4h0M224.4 201.2h0M215.3 185.6h0M234.2 189.1h0M223.1 200.0h0M232.6 196.1h0M234.3 191.1h0M232.7 189.8h0M219.6 200.4h0M223.1 187.0h0M230.5 197.4h0M220.4 198.6h0M227.0 185.2h0M232.7 198.7h0M219.5 188.4h0M225.1 188.1h0M233.8 198.1h0M231.2 201.7h0M226.0 187.8h0M219.5 200.9h0M232.8 188.1h0M230.0 189.7h0M214.3 193.0h0M217.7 186.1h0M230.9 200.0h0M220.1 186.6h0M233.4 192.4h0M228.8 199.0h0M223.8 201.0h0M227.6 199.2h0M219.9 198.2h0M223.8 201.4h0M217.3 199.0h0M220.3 199.5h0M216.4 193.2h0M217.9 189.7h0M219.5 185.7h0M219.4 198.1h0M231.6 197.4h0M215.9 193.5h0M219.1 183.4h0M221.4 200.4h0M216.9 197.6h0M233.9 198.9h0M224.4 200.0h0M223.5 187.0h0M228.9 198.3h0M235.9 197.6h0M222.4 186.8h0M233.4 197.5h0M226.5 187.6h0M223.4 186.6h0M223.5 204.8h0M230.1 189.8h0M215.8 192.8h0M221.5 185.8h0M228.6 184.8h0M213.6 199.0h0M216.6 191.8h0M216.8 188.1h0M216.1 192.8h0M235.2 190.1h0M236.0 185.2h0M217.9 198.3h0M228.5 188.0h0M219.8 186.9h0M221.5 188.5h0M229.9 188.4h0M215.5 198.1h0M213.1 197.1h0M223.4 199.7h0M228.9 186.7h0M223.1 199.8h0M228.9 188.3h0M223.0 202.1h0M233.1 191.5h0M229.6 188.7h0M233.8 200.8h0M234.3 188.7h0M230.9 197.0h0M216.7 196.8h0M221.8 199.6h0M232.4 189.7h0M219.0 198.4h0M218.4 183.6h0M218.4 202.1h0M229.2 185.8h0M228.8 198.3h0M231.7 190.3h0M233.9 189.0h0M207.4 191.6h0M229.3 188.8h0M232.0 189.9h0M235.5 187.7h0M233.7 190.6h0M222.6 185.7h0M215.8 189.0h0M231.8 190.3h0M232.5 190.5h0M223.8 199.8h0M215.9 192.4h0M219.9 201.1h0M221.6 187.6h0M225.8 200.4h0M224.9 201.3h0M231.6 186.9h0M213.4 196.1h0M215.3 193.8h0M223.4 187.6h0M219.5 187.6h0M231.4 196.2h0M218.2 197.3h0M221.9 188.1h0M223.5 199.2h0M230.4 187.9h0M223.3 201.0h0M233.2 193.5h0M214.4 195.9h0M231.8 189.6h0M222.8 188.0h0M233.2 189.9h0M233.6 194.7h0M216.4 192.8h0M228.4 185.6h0M217.4 190.7h0M220.1 185.8h0M226.4 199.4h0M221.9 201.9h0M215.7 191.7h0M237.8 194.3h0M233.8 201.2h0M225.5 188.1h0M227.5 184.8h0M220.8 199.0h0M230.2 197.7h0M233.6 190.2h0M221.6 184.0h0M218.4 188.0h0M220.1 200.6h0M227.0 188.0h0M228.0 188.0h0M226.4 199.6h0M224.0 187.7h0M224.7 186.2h0M230.1 198.2h0M223.7 186.0h0M233.1 193.4h0M232.4 192.6h0M228.8 188.0h0M231.5 188.6h0M231.9 199.8h0M234.7 185.8h0M217.6 189.6h0M217.0 195.5h0M237.2 196.8h0M221.6 203.8h0M225.0 200.8h0M223.8 187.4h0M216.3 195.8h0M216.5 189.9h0M219.2 197.8h0M232.8 195.1h0M234.6 191.9h0M235.0 197.7h0M214.8 196.0h0M214.6 191.9h0M232.5 196.5h0M229.5 189.4h0M222.0 199.4h0M216.2 187.9h0M215.8 197.0h0M225.1 187.6h0M228.5 187.7h0M232.0 190.9h0M215.4 195.8h0M226.4 187.5h0M236.2 200.2h0M230.4 198.2h0M226.9 199.3h0M222.1 201.1h0M233.0 195.8h0M229.9 186.4h0M221.7 198.8h0M213.4 196.4h0M222.4 188.3h0M232.6 195.9h0M213.1 196.9h0M213.8 197.0h0M229.9 183.0h0M224.9 188.0h0M231.1 197.2h0M227.9 188.0h0M230.5 202.8h0M217.7 189.3h0M229.1 185.1h0M231.3 189.1h0M217.2 196.9h0M232.8 191.8h0M227.1 203.9h0M216.6 196.7h0M224.6 188.0h0M217.2 195.9h0M223.3 187.0h0M217.0 190.6h0M224.5 183.9h0M216.2 187.5h0M234.6 193.2h0M225.8 186.1h0M214.8 197.3h0M221.9 198.9h0M234.5 204.9h0M215.3 186.3h0M226.7 204.1h0M215.0 195.4h0M216.9 189.5h0M234.7 195.3h0M213.1 194.0h0M221.3 186.8h0M217.1 189.2h0M215.2 191.3h0M216.0 194.6h0M216.5 197.5h0M228.4 198.5h0M233.5 191.7h0M217.6 199.1h0M232.9 197.5h0M212.7 191.9h0M219.0 189.2h0M229.3 188.5h0M214.9 193.5h0M225.5 185.9h0M232.6 193.9h0M217.2 191.4h0M218.6 197.8h0M233.1 191.3h0M234.1 187.3h0M233.5 190.7h0M224.1 185.7h0M217.0 190.7h0M218.2 199.9h0M235.0 196.5h0M222.1 188.4h0M218.8 189.3h0M227.4 188.1h0M233.3 195.5h0M230.5 182.8h0M221.5 200.2h0M222.9 199.8h0M224.0 199.8h0M232.2 190.6h0M233.9 190.3h0M217.5 198.5h0M234.8 199.9h0M232.8 193.0h0M229.9 185.2h0M215.3 196.9h0M233.1 192.9h0M235.7 193.1h0M228.6 186.4h0M222.4 200.4h0M217.8 199.0h0M213.3 189.2h0M227.8 183.9h0M223.8 199.2h0M232.4 190.5h0M224.7 200.0h0M215.7 193.1h0M217.0 196.2h0M235.0 189.3h0M235.6 192.9h0M219.3 189.5h0M233.5 200.7h0M233.9 194.9h0M232.1 191.9h0M230.2 204.8h0M228.9 202.9h0M232.4 193.1h0M224.2 187.5h0M225.1 184.1h0M219.7 186.0h0M230.6 187.6h0M221.0 188.8h0M231.5 191.1h0M219.8 199.7h0M230.2 190.1h0M231.3 192.9h0M218.9 199.4h0M226.3 194.1h0M234.2 189.5h0M227.7 191.4h0M231.6 191.4h0M232.6 189.4h0M226.9 194.2h0M222.8 194.7h0M230.0 188.9h0M226.6 191.5h0M227.4 190.5h0M235.3 191.3h0M232.7 191.7h0M221.1 197.3h0M235.5 190.0h0M231.0 193.7h0M228.8 192.5h0M234.3 193.0h0M238.9 189.6h0M236.5 189.3h0M220.3 193.4h0M225.5 194.6h0M219.6 198.8h0M233.7 191.3h0M234.5 190.4h0M234.5 187.1h0M218.6 195.6h0M228.3 186.9h0M231.6 187.3h0M225.0 193.6h0M220.2 200.9h0M222.5 194.0h0M215.9 198.3h0M231.9 189.6h0M220.1 198.0h0M218.7 195.2h0M231.5 189.9h0M224.5 191.6h0M227.2 189.5h0M233.1 187.6h0M222.6 199.0h0M232.9 188.5h0M212.6 195.9h0M222.6 197.3h0M220.5 194.7h0M227.9 195.8h0M230.1 192.5h0M222.6 194.9h0M236.0 190.8h0M218.7 197.0h0M231.8 191.4h0M239.0 187.3h0M242.0 184.8h0M230.0 190.0h0M230.1 191.5h0M226.2 190.7h0M232.0 192.0h0M230.9 195.5h0M225.5 188.8h0M236.1 192.5h0M220.4 194.8h0M217.8 192.5h0M225.4 188.0h0M217.7 198.5h0M241.4 186.4h0M220.9 196.1h0M222.5 191.9h0M234.3 191.1h0M227.8 194.1h0M220.4 197.0h0M224.3 191.0h0M216.6 199.6h0M221.5 196.5h0M219.2 194.2h0M224.2 187.1h0M226.0 193.5h0M227.1 191.8h0M233.1 190.7h0M224.4 193.7h0M222.2 191.0h0M244.4 187.3h0M234.2 188.7h0M240.6 189.9h0M232.1 190.0h0M244.7 183.2h0M239.0 192.9h0M229.7 187.8h0M216.6 196.8h0M225.5 192.9h0M221.8 196.2h0M241.4 185.2h0M223.6 197.0h0M233.0 191.5h0M230.4 192.4h0M229.3 191.4h0M223.2 195.9h0M227.9 193.2h0M216.5 194.8h0M221.6 197.6h0M238.9 190.0h0M224.2 194.0h0M230.6 190.7h0M246.2 183.5h0M232.9 189.3h0M228.1 193.0h0M216.3 196.7h0M230.9 194.3h0M220.6 195.3h0M224.4 196.8h0M227.6 198.8h0M231.7 190.0h0M224.7 195.9h0M222.0 194.2h0M227.1 193.3h0M240.5 188.3h0M229.4 194.3h0M232.8 192.7h0M235.8 184.7h0"/>
<path stroke-width="1.15" stroke="#c81c24" d="M263.5 156.0h0M264.2 153.5h0M262.1 161.2h0M253.7 180.1h0M256.6 167.0h0M250.3 182.4h0M252.0 175.0h0M259.5 163.6h0M248.1 185.5h0M250.1 184.5h0M255.9 162.3h0M260.8 160.0h0M248.4 193.8h0M251.1 178.0h0M259.4 160.0h0M247.0 183.0h0M251.1 184.4h0M257.4 165.6h0M248.3 188.8h0M259.1 166.8h0M258.8 156.4h0M258.7 166.0h0M252.9 166.9h0M256.3 171.6h0M248.8 190.0h0M246.7 187.9h0M257.2 170.4h0M260.4 158.8h0M265.3 160.7h0M248.3 184.6h0M246.5 190.0h0M250.0 184.0h0M246.7 192.1h0M263.2 161.1h0M244.3 188.7h0M247.6 192.6h0M250.7 178.2h0M256.8 163.5h0M248.4 186.7h0M247.0 187.8h0M242.4 189.6h0M248.5 183.2h0M254.6 172.8h0M254.9 172.4h0M254.5 176.3h0M262.2 160.5h0M262.5 160.6h0M253.6 168.4h0M263.9 162.6h0M263.2 151.8h0M256.3 175.5h0M259.3 157.7h0M253.5 171.1h0M261.4 156.2h0M250.0 186.1h0M254.9 185.0h0M259.1 171.6h0M258.0 159.3h0M250.7 184.1h0M260.2 155.7h0M260.3 163.0h0M263.9 158.4h0M253.6 175.6h0M259.7 158.6h0M255.2 173.7h0M251.3 180.4h0M255.7 180.2h0M256.9 167.2h0M261.0 161.4h0M259.2 160.9h0M246.5 184.7h0M256.8 173.2h0M253.6 167.4h0M257.7 167.3h0M261.8 158.6h0M246.3 192.2h0M260.6 165.2h0M261.7 165.8h0M247.4 180.4h0M251.8 183.4h0M249.1 189.3h0M261.2 152.7h0M246.0 190.2h0M262.5 155.7h0M253.1 186.1h0M252.5 182.6h0M253.0 182.2h0M256.0 169.4h0M247.0 187.0h0M253.5 171.1h0M253.9 178.5h0M251.3 187.3h0M259.7 168.0h0M256.8 164.1h0M247.7 184.1h0M260.3 154.6h0M250.2 182.1h0M254.8 178.4h0M260.2 159.9h0M246.9 187.3h0M249.3 183.0h0M249.2 179.5h0M255.1 177.1h0M263.7 158.7h0M257.1 176.5h0M259.0 160.0h0M263.1 156.7h0M257.0 166.7h0M256.4 162.8h0M262.9 153.6h0M263.7 142.9h0M263.3 151.9h0M280.3 143.7h0M266.5 143.7h0M260.4 151.9h0M259.1 150.2h0M266.7 150.0h0M265.4 147.9h0M264.3 148.8h0M269.6 150.3h0M281.3 147.2h0M274.1 151.5h0M268.6 146.6h0M255.0 152.6h0M279.4 147.7h0M264.3 151.2h0M270.5 150.6h0M268.3 150.1h0M271.5 149.7h0M275.4 147.9h0M278.9 146.2h0M263.4 147.0h0M278.4 147.8h0M267.5 150.5h0M258.6 150.5h0M254.7 152.0h0M267.6 148.9h0M254.4 153.1h0M270.8 151.4h0M282.7 140.9h0M274.6 145.8h0M265.8 149.6h0M277.8 147.2h0M273.8 147.0h0M273.4 148.7h0M281.9 146.4h0M271.0 155.3h0M260.4 150.6h0M282.3 149.4h0M260.1 149.3h0M260.4 150.4h0M260.6 147.7h0M274.0 148.1h0M261.2 148.8h0M259.4 151.6h0M255.6 150.0h0M274.2 147.4h0M254.9 145.3h0M272.5 148.1h0M262.9 146.9h0M263.8 150.0h0M255.7 150.5h0M260.4 150.2h0M264.2 151.1h0M260.2 151.0h0M269.2 147.1h0M275.9 144.6h0M277.2 145.5h0M255.3 150.3h0M274.6 146.0h0M266.1 164.9h0M268.2 163.4h0M280.5 150.2h0M280.9 150.8h0M282.2 150.6h0M267.5 160.3h0M272.4 156.6h0M273.8 159.8h0M282.2 148.9h0M278.2 153.3h0M264.6 165.8h0M281.1 147.9h0M282.8 148.4h0M269.3 162.3h0M267.5 162.7h0M271.0 162.9h0M271.0 159.6h0M274.2 157.9h0M280.9 148.6h0M271.3 159.6h0M283.5 150.1h0M276.6 155.3h0M273.8 156.5h0M281.3 148.3h0M279.6 150.9h0M272.5 157.6h0M271.8 157.0h0M274.9 157.2h0M282.4 146.8h0M271.0 159.0h0M280.3 149.8h0M268.3 161.1h0M280.2 151.7h0M278.5 153.6h0M266.8 163.5h0M275.9 155.5h0M265.0 163.9h0M275.2 154.9h0M268.9 160.6h0M271.1 159.9h0M272.8 160.5h0M277.8 152.6h0M269.4 160.8h0M278.4 155.0h0M265.9 162.0h0M269.5 161.7h0M272.0 159.3h0M279.1 153.9h0M266.5 162.9h0M271.9 159.6h0M275.9 156.1h0M274.3 157.3h0M282.4 150.4h0M276.1 154.1h0M269.6 160.2h0M268.1 146.6h0M262.3 141.9h0M267.2 146.4h0M274.9 147.9h0M269.7 149.4h0M264.5 143.9h0M266.6 150.7h0M271.9 145.6h0M263.2 149.3h0M272.3 144.3h0M274.3 145.1h0M270.9 146.5h0M266.7 145.5h0M270.7 148.5h0M271.1 146.3h0M264.7 152.3h0M274.7 146.5h0M263.5 150.7h0M268.5 147.1h0M271.3 147.9h0M268.4 151.9h0M260.6 148.6h0M264.2 147.2h0M267.3 147.7h0M258.6 148.7h0M277.1 146.0h0M271.5 148.6h0M269.2 145.8h0M270.5 147.7h0M273.7 149.1h0M265.2 139.7h0M273.9 148.2h0M268.7 145.5h0M277.8 150.3h0M268.4 146.1h0M270.3 150.4h0M270.0 149.4h0M269.0 147.9h0M263.0 147.3h0M268.2 146.8h0M296.0 132.6h0M291.2 135.5h0M295.9 133.4h0M300.7 124.2h0M300.3 126.5h0M309.4 120.7h0M289.5 136.9h0M290.2 132.8h0M234.0 156.0h0M236.0 158.0h0"/>
</g>
<rect x="198.50" y="146.95" width="138.20" height="1.9" fill="#d3202a"/>
<rect x="243.65" y="71.20" width="1.9" height="149.10" fill="#d3202a"/>
<path fill-rule="evenodd" fill="#000" d="M196.0 69.0H339.0V222.8H196.0ZM198.50 71.20V220.30H336.70V71.20Z"/>
<rect x="349.30" y="148.80" width="44.80" height="72.70" fill="#e8efd3"/>
<g clip-path="url(#c2)" fill="none" stroke-linecap="square" stroke-width="1">
<ellipse cx="374.2" cy="194.4" rx="7.2" ry="7.0" fill="#e6291d" stroke="none"/>
<path stroke="#e6291d" d="M369.9 188.3h0M362.4 193.9h0M366.2 189.5h0M371.8 187.3h0M378.0 202.0h0M367.8 189.6h0M378.4 199.7h0M373.0 187.7h0M374.8 207.7h0M366.6 197.8h0M375.3 201.3h0M367.5 192.6h0M370.7 203.1h0M369.0 185.5h0M368.3 189.1h0M366.6 200.7h0M379.0 198.6h0M380.6 200.7h0M369.1 198.5h0M369.1 199.1h0M384.3 196.8h0M375.9 200.9h0M368.2 198.7h0M381.1 193.8h0M368.8 197.8h0M366.8 196.4h0M365.8 193.9h0M374.4 187.6h0M383.5 193.7h0M372.6 188.1h0M381.0 188.7h0M368.1 191.9h0M367.3 189.5h0M366.3 192.2h0M368.8 205.3h0M367.4 196.8h0M380.6 184.7h0M381.2 198.8h0M379.3 190.3h0M382.1 190.8h0M380.6 191.8h0M370.9 200.5h0M366.0 195.6h0M380.4 196.5h0M373.2 187.8h0M380.7 188.8h0M365.9 190.8h0M367.8 193.6h0M368.6 188.9h0M361.8 191.1h0M376.2 207.8h0M380.5 193.5h0M382.3 193.2h0M380.7 198.7h0M363.5 190.9h0M374.8 202.2h0M375.5 202.2h0M370.7 200.4h0M372.2 185.8h0M371.2 200.9h0M370.1 203.7h0M380.9 198.4h0M376.8 200.1h0M369.4 198.5h0M384.0 196.4h0M380.1 185.8h0M381.4 195.1h0M378.3 188.2h0M367.7 193.9h0M381.4 190.0h0M381.2 185.3h0M373.5 186.9h0M380.0 191.0h0M380.0 188.4h0M367.7 192.8h0M365.2 197.7h0M367.3 190.7h0M378.0 201.7h0M373.2 203.4h0M379.3 186.5h0M363.4 188.5h0M384.2 197.3h0M378.1 199.3h0M381.6 191.5h0M365.3 196.5h0M366.4 192.3h0M366.9 189.5h0M376.0 206.3h0M367.8 191.5h0M374.2 207.4h0M375.8 202.0h0M363.3 190.2h0M379.0 190.2h0M374.8 187.9h0M373.8 200.6h0M377.5 189.0h0M378.2 188.7h0M374.9 200.7h0M381.0 188.7h0M386.1 190.4h0M383.7 191.0h0M377.4 186.4h0M367.2 192.8h0M379.1 201.8h0M369.9 189.7h0M370.0 199.5h0M379.7 186.8h0M377.1 187.9h0M372.0 201.6h0M376.2 188.0h0M378.6 189.9h0M379.7 198.1h0M381.2 197.4h0M371.8 204.1h0M369.8 185.5h0M380.1 197.0h0M373.2 186.2h0M378.0 205.2h0M366.5 182.5h0M380.1 191.1h0M385.5 199.0h0M365.5 190.8h0M367.5 189.8h0M365.5 194.4h0M367.9 195.7h0M379.1 201.9h0M365.2 199.8h0M366.6 187.1h0M377.5 187.7h0M379.3 188.2h0M380.3 191.1h0M368.0 193.4h0M369.0 183.5h0M374.6 181.8h0M370.3 187.7h0M367.7 191.2h0M367.0 193.9h0M371.9 201.4h0M366.6 194.7h0M380.9 197.6h0M367.9 194.8h0M382.1 191.7h0M381.0 189.1h0M375.5 188.0h0M375.5 187.3h0M363.6 198.1h0M371.7 186.3h0M369.7 189.8h0M381.1 200.0h0M380.5 194.7h0M368.9 201.8h0M374.2 188.2h0M376.7 188.3h0M380.6 196.0h0M381.9 194.7h0M371.9 200.8h0M382.4 191.6h0M378.6 188.4h0M372.0 201.6h0M382.3 195.9h0M370.8 200.5h0M377.4 199.9h0M377.1 185.6h0M369.2 199.3h0M366.2 195.7h0M377.4 188.8h0M381.1 194.9h0M380.4 199.2h0M368.1 200.0h0M375.8 200.9h0M376.3 201.2h0M368.4 190.8h0M382.6 193.8h0M380.6 197.4h0M380.6 193.7h0M368.5 189.2h0M372.3 185.4h0M372.5 201.8h0M384.2 194.4h0M368.2 199.5h0M380.2 192.3h0M378.1 200.0h0M366.0 194.6h0M366.9 188.9h0M381.0 193.0h0M380.7 195.7h0M375.7 201.4h0M372.8 188.0h0M381.9 191.3h0M384.0 195.6h0M365.9 189.8h0M368.9 199.7h0M377.7 187.4h0M378.2 188.2h0M368.1 195.6h0M382.0 191.7h0M376.7 203.3h0M380.8 194.1h0M381.5 190.0h0M380.2 196.1h0M368.9 198.0h0M371.6 201.3h0M380.4 193.3h0M381.3 194.1h0M369.1 201.4h0M373.6 202.2h0M367.8 196.4h0M372.3 183.9h0M381.1 196.3h0M372.0 188.5h0M381.5 197.9h0M381.6 197.9h0M373.5 203.6h0M372.5 186.4h0M369.9 198.9h0M368.1 205.0h0M382.1 195.7h0M383.6 200.0h0M383.4 193.8h0M367.2 195.6h0M376.6 200.3h0M375.9 184.6h0M364.0 195.7h0M366.2 197.8h0M380.0 201.1h0M380.3 187.7h0M380.4 197.8h0M380.6 197.1h0M379.2 189.3h0M367.4 183.2h0M382.0 192.5h0M379.8 197.1h0M379.5 199.5h0M368.9 189.7h0M379.9 198.4h0M380.6 196.1h0M367.2 202.2h0M383.0 193.7h0M370.6 185.2h0M382.7 195.6h0M378.3 199.6h0M379.9 191.4h0M370.4 189.0h0M372.8 187.4h0M367.1 191.5h0M367.0 194.9h0M376.9 200.5h0M366.7 193.3h0M374.2 201.3h0M366.9 198.3h0M370.9 186.4h0M381.5 191.7h0M376.0 201.9h0M378.7 189.9h0M376.8 188.1h0M373.2 186.8h0M366.3 192.5h0M377.2 188.3h0M368.3 196.8h0M380.3 190.0h0M381.1 198.5h0M374.6 188.2h0M368.8 198.2h0M370.9 184.3h0M381.9 187.3h0M370.7 200.3h0M380.4 194.0h0M380.2 200.6h0M367.2 189.0h0M376.3 184.7h0M380.1 197.2h0M371.5 188.5h0M379.9 189.9h0M366.6 194.5h0M382.0 192.8h0M368.7 189.1h0M380.2 198.5h0M381.2 195.2h0M371.3 203.4h0M366.7 195.8h0M382.7 195.0h0M381.8 191.0h0M365.8 199.2h0M376.5 186.6h0M380.0 192.0h0M380.8 191.9h0M376.9 184.8h0M371.8 187.8h0M371.5 186.9h0M378.3 200.7h0M364.7 191.3h0M380.2 200.0h0M370.2 202.1h0M367.5 194.6h0M381.8 195.7h0M376.7 202.1h0M366.4 199.5h0M369.8 200.4h0M368.9 190.7h0M378.7 189.4h0M368.7 198.4h0M374.7 200.9h0M366.4 184.0h0M374.9 187.0h0M370.1 199.7h0M371.3 188.1h0M376.8 201.6h0M366.8 194.2h0M377.8 186.3h0M369.0 187.7h0M368.7 191.3h0M367.4 195.6h0M379.1 199.9h0M374.3 202.6h0M368.0 196.6h0M380.9 198.3h0M367.2 192.0h0M380.5 191.8h0M368.4 192.0h0M378.6 189.6h0M385.2 197.9h0M380.9 195.1h0M365.4 196.0h0M380.3 192.3h0M367.3 190.8h0M369.5 189.1h0M379.1 205.6h0M375.3 201.9h0M380.4 199.0h0M375.3 200.8h0M372.2 187.2h0M373.7 200.9h0M374.8 187.3h0M378.7 199.3h0M376.7 208.6h0M381.9 197.7h0M375.3 188.2h0M371.2 187.5h0M377.0 202.6h0M367.0 195.7h0M376.0 201.5h0M366.2 191.7h0M381.6 187.3h0M374.6 187.2h0M367.9 192.6h0M380.3 199.7h0M369.5 202.8h0M376.4 185.8h0M368.6 200.1h0M384.2 194.6h0M373.1 185.5h0M371.4 200.3h0M368.3 196.8h0M374.2 188.1h0M370.2 199.3h0M381.7 191.7h0M384.8 205.8h0M363.3 198.5h0M370.2 200.1h0M377.9 188.7h0M368.7 200.4h0M372.1 187.8h0M367.4 196.8h0M374.6 186.8h0M376.6 200.5h0M367.2 190.7h0M365.0 199.5h0M379.1 187.9h0M377.4 188.3h0M378.7 199.6h0M370.2 187.4h0M377.1 188.8h0M377.0 200.9h0M382.1 194.4h0M370.6 200.6h0M378.9 188.5h0M378.2 186.2h0M381.2 190.6h0M370.4 202.1h0M379.5 189.8h0M383.1 196.4h0M368.0 194.9h0M377.0 200.6h0M379.3 190.6h0M373.3 187.7h0M366.7 193.4h0M364.9 195.8h0M372.0 186.1h0M373.7 188.1h0M375.1 205.1h0M380.5 197.5h0M370.9 203.0h0M372.1 187.5h0M380.3 189.9h0M374.8 201.0h0M376.1 187.0h0M377.0 188.6h0M380.2 196.2h0M367.7 200.4h0M371.9 188.5h0M379.4 189.6h0M366.0 194.1h0M369.1 200.1h0M377.0 184.2h0M383.9 195.0h0M368.2 197.9h0M375.8 188.2h0M374.2 203.2h0M367.5 198.2h0M381.1 199.6h0M365.4 194.2h0M368.0 198.8h0M381.1 198.4h0M379.6 190.2h0M365.9 193.4h0M383.7 193.7h0M371.3 188.6h0M374.7 203.0h0M378.6 202.9h0M381.5 195.8h0M369.4 185.1h0M379.2 200.9h0M367.4 190.4h0M369.5 189.5h0M381.6 193.5h0M369.7 188.2h0M373.9 201.6h0M374.2 186.3h0M374.4 202.8h0M367.5 196.1h0M375.2 202.3h0M370.1 202.9h0M380.6 194.2h0M379.9 190.9h0M380.1 188.9h0M377.2 188.9h0M369.3 189.2h0M372.6 203.4h0M374.0 187.8h0M374.1 187.7h0M379.3 190.5h0M379.0 187.1h0M367.9 200.4h0M378.5 199.9h0M381.7 195.2h0M367.9 191.8h0M379.8 186.6h0M380.9 189.9h0M381.8 204.2h0M362.4 196.5h0M366.7 195.0h0M378.5 199.4h0M381.7 203.9h0M374.4 184.7h0M381.0 193.7h0M382.6 190.5h0M375.6 184.6h0M365.2 195.8h0M380.1 188.6h0M370.5 188.4h0M366.7 194.3h0M370.0 200.8h0M365.9 197.9h0M383.6 191.9h0M377.4 200.5h0M365.8 193.5h0M374.1 187.4h0M382.6 196.5h0M370.8 200.8h0M360.3 189.2h0M382.2 194.7h0M368.1 201.5h0M373.5 187.6h0M373.2 203.4h0M379.8 187.0h0M380.0 191.6h0M366.8 198.8h0M380.7 191.3h0M370.6 187.4h0M374.0 201.7h0M373.1 200.7h0M384.3 200.8h0M374.8 186.1h0M379.3 201.9h0M378.7 187.0h0M373.2 186.8h0M383.5 190.9h0M368.8 190.9h0M371.7 201.4h0M376.7 201.3h0M368.6 191.2h0M375.8 202.7h0M369.2 188.8h0M380.6 189.6h0M374.4 186.0h0M378.3 188.7h0M381.0 193.5h0M376.8 188.3h0M367.7 200.4h0M369.9 200.5h0M374.1 201.6h0M382.2 186.7h0M381.5 184.3h0M368.3 197.7h0M375.2 203.1h0M382.2 192.9h0M369.0 189.6h0M368.7 190.3h0M377.8 189.0h0M379.8 202.8h0M367.0 204.2h0M375.8 187.4h0M383.4 192.3h0M369.0 202.2h0M381.9 187.0h0M367.3 196.7h0M370.4 201.7h0M368.5 199.4h0M380.2 191.1h0M380.0 202.7h0M381.9 186.1h0M367.8 192.5h0M380.3 197.5h0M380.4 194.7h0M371.5 188.4h0M371.1 200.0h0M369.9 199.5h0M380.5 196.9h0M378.7 199.4h0M371.9 203.7h0M368.1 191.3h0M367.5 196.1h0M366.1 196.2h0M367.4 195.5h0M384.4 195.6h0M364.1 194.1h0M378.2 202.3h0M381.8 192.1h0M381.0 197.7h0M366.4 200.0h0M370.4 201.5h0M380.0 198.0h0M381.9 192.2h0M373.0 185.8h0M381.8 191.3h0M361.0 192.6h0M379.7 202.5h0M380.1 188.2h0M364.7 195.4h0M372.1 187.6h0M366.4 194.1h0M371.9 201.9h0M370.5 188.5h0M369.1 198.5h0M376.2 188.0h0M373.3 201.9h0M380.0 197.0h0M368.4 197.6h0M383.1 192.4h0M382.3 189.6h0M371.2 185.0h0M383.2 192.4h0M367.1 178.6h0M372.9 187.0h0M375.8 201.4h0M370.7 188.2h0M381.0 195.5h0M381.7 196.6h0M379.6 189.0h0M367.8 197.0h0M378.3 200.0h0M370.3 188.3h0M374.1 185.2h0M370.0 186.3h0M369.5 198.6h0M375.6 205.8h0M375.6 200.8h0M370.1 200.8h0M372.9 201.7h0M367.3 194.8h0M381.3 195.9h0M365.7 194.1h0M379.8 181.9h0M376.0 203.2h0M375.3 184.6h0M381.6 197.4h0M370.1 200.5h0M376.7 185.7h0M369.5 189.0h0M378.7 186.0h0M368.4 198.3h0M377.6 201.6h0M366.4 194.0h0M371.9 203.4h0M369.5 198.9h0M366.3 198.8h0M385.2 193.9h0M373.4 202.7h0M380.1 197.9h0M378.0 201.1h0M374.7 203.9h0M370.7 199.6h0M379.9 191.8h0M376.6 187.7h0M373.6 201.3h0"/>
<path stroke-width="1.15" stroke="#c81c24" d="M368.1 198.4h0M370.4 192.6h0M375.6 193.6h0M373.9 193.1h0M380.9 188.3h0M371.9 192.2h0M382.2 186.5h0M386.0 185.8h0M378.5 196.3h0M372.3 198.9h0M369.0 196.2h0M380.6 191.9h0M379.3 192.6h0M384.4 184.9h0M374.0 196.9h0M367.8 196.3h0M392.6 187.9h0M380.1 191.6h0M375.1 191.8h0M370.9 193.9h0M369.8 197.3h0M378.5 189.8h0M376.4 190.0h0M378.8 191.2h0M376.8 193.6h0M384.8 189.3h0M373.4 195.4h0M379.9 192.8h0M382.2 188.1h0M370.8 198.0h0M371.0 197.5h0M394.1 186.8h0M367.6 196.1h0M379.0 191.2h0M381.3 191.3h0M379.5 193.1h0M369.2 200.2h0M367.9 195.8h0M363.0 200.7h0M379.0 191.0h0M367.8 192.6h0M379.1 189.0h0M375.2 194.7h0M377.1 194.0h0M387.4 189.2h0M371.1 196.2h0M374.8 192.1h0M380.4 190.2h0M379.1 193.5h0M388.6 185.2h0M383.5 194.9h0M386.6 188.6h0M372.9 195.7h0M373.0 194.2h0M366.7 198.0h0M366.4 201.3h0M379.7 190.6h0M377.4 193.2h0M375.9 194.4h0M376.5 194.5h0M372.4 195.7h0M386.0 186.1h0M373.4 197.4h0M379.1 192.3h0M377.7 191.6h0M374.5 195.7h0M378.8 193.7h0M382.1 196.0h0M379.1 195.5h0M380.4 196.9h0M382.0 188.4h0M385.7 186.9h0M382.2 188.3h0M379.3 192.2h0M383.1 184.3h0M366.9 201.1h0M380.9 189.6h0M375.8 189.3h0M374.2 193.0h0M382.5 190.7h0M377.4 195.8h0M374.1 196.6h0M376.2 194.7h0M376.9 196.7h0M376.7 198.4h0M380.9 188.9h0M375.9 197.1h0M384.4 186.0h0M378.7 193.7h0M391.8 186.7h0M382.2 182.8h0M387.3 186.5h0M393.2 178.6h0M381.6 189.7h0M391.6 174.6h0M395.2 179.3h0M381.4 187.1h0M394.1 180.4h0M387.7 183.1h0M386.8 184.4h0M385.5 179.3h0M387.3 174.9h0M386.0 177.8h0M381.2 188.7h0M379.5 187.6h0M392.5 174.0h0M383.4 185.1h0M391.4 179.2h0M393.9 176.8h0M391.7 178.7h0M391.5 176.8h0M389.9 176.1h0M388.3 182.7h0M391.9 174.2h0M392.8 172.8h0M385.1 183.1h0M387.1 184.1h0M385.9 181.9h0M382.9 180.8h0M380.8 188.9h0M386.3 187.4h0M391.2 179.3h0M391.8 175.7h0M393.7 171.2h0M382.2 190.5h0M392.8 180.5h0M385.5 182.2h0M383.3 182.8h0M384.5 183.7h0M391.4 177.5h0M379.2 183.8h0M390.1 173.6h0M393.9 176.4h0M384.6 192.4h0M383.7 185.6h0M397.8 174.7h0M382.3 184.9h0M391.2 177.0h0M382.6 190.9h0M382.5 186.0h0M392.1 174.8h0M389.7 171.4h0M384.1 179.3h0M389.5 182.3h0M382.8 184.3h0M390.2 175.2h0M393.4 174.5h0M388.0 179.5h0M388.9 183.2h0M381.6 190.2h0M391.2 177.5h0M394.4 175.4h0M383.6 184.2h0M387.1 176.4h0M382.9 189.2h0M390.2 185.9h0M384.7 184.1h0M391.0 177.2h0M393.6 177.4h0M390.3 177.3h0M395.6 174.2h0M392.6 171.4h0M386.1 178.3h0M382.6 185.8h0M382.9 180.1h0M388.8 179.8h0M386.7 184.4h0M383.3 186.7h0M388.2 185.5h0M386.3 182.6h0M393.0 175.5h0M385.7 191.5h0M391.9 181.3h0M383.4 184.8h0M384.5 186.6h0M392.5 172.1h0M389.7 184.4h0M393.3 178.2h0M392.4 179.5h0M388.0 181.3h0M418.9 153.4h0M404.7 173.9h0M408.2 161.7h0M407.2 168.5h0M409.9 167.1h0M401.5 177.0h0M400.6 175.0h0M405.2 173.3h0M412.0 161.0h0M402.2 186.6h0M401.6 174.8h0M399.2 172.7h0M401.3 175.2h0M412.3 154.9h0M418.7 153.6h0M403.3 179.1h0M411.0 166.7h0M414.1 152.4h0M402.6 173.0h0M406.3 174.4h0M407.5 166.6h0M411.1 164.5h0M397.8 181.9h0M412.5 161.1h0M398.1 179.7h0M411.8 169.5h0M405.0 167.9h0M416.0 158.8h0M404.6 173.2h0M412.9 160.8h0M407.9 169.2h0M411.5 159.2h0M403.7 171.1h0M406.1 176.4h0M398.1 176.4h0M397.7 183.3h0M417.0 148.5h0M399.3 182.1h0M398.9 180.8h0M408.9 166.2h0M411.5 162.7h0M412.9 155.4h0M414.3 159.2h0M400.4 178.9h0M415.9 153.8h0M400.0 176.5h0M397.3 179.0h0M416.0 150.0h0M414.7 154.8h0M408.7 168.5h0M405.1 171.2h0M414.4 153.0h0M404.7 161.3h0M406.9 175.4h0M418.0 160.4h0M417.6 148.9h0M406.3 170.0h0M398.1 172.3h0M409.2 171.4h0M400.5 173.5h0M415.2 158.4h0M410.2 165.7h0M405.2 176.5h0M409.9 163.4h0M411.3 161.8h0M396.8 184.8h0M409.5 166.8h0M407.3 167.8h0M403.6 171.8h0M406.3 166.2h0M406.7 171.4h0M421.9 154.4h0M418.1 150.3h0M412.2 160.5h0M415.6 152.0h0M415.8 157.1h0M405.4 163.7h0M405.6 165.5h0M411.3 153.5h0M394.0 184.8h0M408.6 169.5h0M410.2 159.5h0M408.5 166.9h0M401.4 175.3h0M403.1 182.5h0M395.3 176.1h0M401.9 175.5h0M415.0 161.7h0M402.2 177.3h0M404.8 166.2h0M403.2 172.1h0M396.1 184.6h0M417.7 149.9h0M420.5 151.1h0M406.1 176.9h0M407.0 172.8h0M410.2 161.8h0M401.3 178.6h0M410.3 155.6h0M411.7 158.5h0M408.1 164.4h0M398.1 178.4h0M406.3 170.4h0M412.4 156.3h0M414.8 155.3h0M397.1 180.6h0M414.5 156.1h0M409.5 164.7h0M413.3 161.2h0M406.2 161.9h0M405.2 173.7h0M405.1 168.8h0M394.7 180.0h0M405.9 165.9h0M407.0 174.1h0M396.9 185.0h0M410.0 155.8h0M407.9 159.7h0M412.3 157.2h0M414.1 167.6h0M405.0 163.7h0M413.0 164.4h0M405.4 163.6h0M416.2 147.8h0M401.5 179.8h0M405.0 169.6h0M413.4 159.3h0M400.5 173.4h0M405.5 164.9h0M402.5 175.1h0M397.1 186.8h0M416.1 151.6h0M411.1 163.5h0M404.9 172.7h0M402.7 180.6h0M409.1 169.3h0M395.4 178.2h0M414.7 154.8h0M405.6 170.0h0M409.7 164.6h0M409.3 167.5h0M396.2 184.0h0M407.2 166.0h0M400.1 174.8h0M401.1 180.1h0M399.2 174.3h0M403.6 172.7h0M415.4 155.5h0M412.6 157.1h0M419.2 152.8h0M399.9 175.3h0M397.7 171.7h0M411.3 155.4h0M404.0 184.3h0M398.5 179.1h0M404.1 167.9h0M416.4 154.8h0M411.1 164.0h0M399.2 176.4h0M410.7 162.8h0M414.4 164.2h0M418.6 152.1h0M402.6 175.2h0M414.8 151.5h0M417.3 150.3h0M401.1 171.8h0M403.2 181.6h0M408.6 157.6h0M416.6 151.7h0M407.3 168.8h0M415.5 146.8h0M408.3 160.5h0M403.3 169.7h0M404.5 171.6h0M420.7 152.2h0M410.5 158.9h0M399.9 172.1h0M393.1 180.8h0M418.7 150.1h0M396.1 185.5h0M404.6 171.0h0M416.0 150.1h0M415.8 159.2h0M403.0 180.0h0M415.8 162.1h0M404.6 173.9h0M413.8 162.0h0M405.4 172.4h0M393.4 177.2h0M398.6 186.4h0M415.9 149.0h0M417.8 158.0h0M404.7 161.7h0M401.8 167.0h0M412.5 154.9h0M419.1 149.3h0M401.8 183.0h0M398.2 178.8h0M419.7 155.3h0M419.0 151.0h0M416.3 159.7h0M410.9 157.9h0M418.6 153.7h0M398.3 179.0h0M407.9 174.4h0M408.2 172.0h0M420.3 151.1h0M411.0 164.7h0M403.5 172.0h0M394.1 183.8h0M414.4 151.9h0M413.4 156.6h0M396.6 181.6h0M418.0 155.8h0M406.1 162.4h0M418.1 152.0h0M405.0 172.8h0M400.7 182.6h0M399.6 176.1h0M397.3 178.1h0M399.2 188.6h0M409.5 162.0h0M402.7 161.6h0M419.6 149.9h0M415.8 149.7h0M414.7 150.1h0M397.7 175.6h0M402.9 174.1h0M404.9 161.4h0M403.6 167.3h0M404.6 170.8h0M395.7 184.9h0M398.9 187.0h0M410.1 156.0h0M400.3 175.8h0M407.1 165.5h0M407.1 166.2h0M416.2 151.1h0M410.1 164.8h0M412.4 159.1h0M416.2 156.8h0M402.8 173.9h0M416.1 152.8h0M408.5 162.9h0M402.5 175.2h0M411.4 158.6h0M405.5 171.8h0M415.6 157.3h0M418.3 151.4h0M416.1 153.3h0M409.6 162.5h0M412.6 159.7h0M408.4 166.5h0M399.6 184.7h0M419.7 152.4h0M415.9 147.4h0M393.9 175.9h0M417.2 152.9h0M412.3 163.6h0M409.9 166.6h0M410.0 166.1h0M406.9 169.8h0M406.0 170.5h0M405.0 170.6h0M416.8 160.3h0M408.0 168.3h0M409.8 165.3h0M414.8 160.1h0M402.3 173.4h0M410.8 164.9h0M414.8 162.9h0M416.4 161.4h0M407.6 167.3h0M406.8 167.8h0M403.6 172.0h0M415.8 160.9h0M408.9 166.7h0M409.9 166.2h0M408.5 167.4h0M406.1 169.4h0M410.2 166.3h0M401.6 172.3h0M415.5 160.1h0M417.2 160.7h0M414.3 161.9h0M409.9 167.0h0M410.0 167.3h0M415.2 162.7h0M404.2 170.5h0M404.7 170.1h0M415.5 162.6h0M403.8 173.3h0M415.2 161.4h0M412.8 165.4h0M412.2 164.5h0M408.2 167.1h0M410.8 165.4h0M406.8 168.1h0M411.9 165.7h0M408.4 168.5h0M412.2 164.2h0M412.6 164.3h0M406.9 169.3h0M416.3 160.8h0M409.7 166.8h0M410.5 166.1h0M409.2 168.4h0M409.8 166.9h0M410.7 165.7h0M411.4 165.1h0M401.5 172.9h0M415.0 161.8h0M410.1 166.6h0M414.5 162.7h0M405.0 169.9h0M406.3 169.1h0M407.1 168.1h0M406.7 168.6h0M408.2 169.6h0M412.2 161.9h0M412.8 162.5h0M412.7 165.1h0M416.8 160.2h0M409.7 166.6h0M412.0 163.3h0M406.3 172.3h0M412.6 165.9h0M406.5 166.9h0M413.3 164.1h0M404.5 172.2h0M413.5 162.8h0M416.6 160.3h0M410.1 167.6h0M409.9 164.5h0M408.3 167.3h0M404.2 170.4h0M402.1 173.6h0M411.5 162.5h0M410.2 166.6h0M405.8 169.3h0M414.3 163.5h0M409.5 165.9h0M410.8 164.7h0M403.4 173.0h0M411.0 165.8h0M412.1 163.5h0M412.8 163.5h0M408.4 167.1h0M411.1 165.5h0M403.5 172.0h0M405.0 171.0h0M409.7 165.9h0M406.3 169.2h0M405.6 169.2h0M410.8 167.3h0M409.3 165.5h0M413.5 164.7h0M410.9 164.7h0M414.1 163.7h0M406.4 170.5h0M409.9 167.2h0M410.0 166.8h0M415.6 164.1h0M411.1 164.9h0M413.9 162.3h0M406.8 169.5h0M411.9 164.1h0M405.2 170.5h0M412.8 164.8h0M409.6 166.3h0M415.4 161.4h0M409.3 165.3h0M414.2 162.4h0M414.3 162.7h0M413.2 165.5h0M409.7 168.1h0M409.1 167.6h0M414.2 162.8h0M412.0 163.3h0M407.1 168.4h0M414.1 163.1h0M405.9 169.9h0M413.2 162.7h0M403.2 170.7h0M408.0 167.9h0M410.5 165.9h0M403.6 170.3h0M403.4 172.3h0M416.0 160.8h0M402.9 171.7h0M410.7 162.4h0M409.8 168.0h0M411.0 165.0h0M408.4 168.3h0M404.9 170.1h0M412.9 163.7h0M414.7 161.7h0M402.4 172.3h0M412.1 162.0h0M404.7 172.8h0M411.5 165.5h0M407.5 167.8h0M407.3 171.5h0M408.1 168.2h0M415.5 163.6h0M409.4 166.9h0M414.3 162.1h0M409.3 167.7h0M408.0 167.8h0M402.7 173.4h0M419.8 146.7h0M421.8 150.8h0M412.5 147.2h0M421.2 146.8h0M426.0 141.2h0M419.9 144.7h0M414.1 147.8h0M412.1 147.8h0M415.4 148.4h0M418.5 149.6h0M412.7 150.0h0M414.0 152.1h0M412.4 149.5h0M414.8 152.4h0M410.0 148.4h0M414.9 148.1h0M414.2 152.9h0M411.9 144.5h0M414.6 145.4h0M413.4 148.4h0M412.4 149.3h0M416.1 150.3h0M428.3 139.7h0M416.4 151.7h0M426.2 145.3h0M418.4 153.0h0M419.1 150.4h0M413.1 146.4h0M422.4 142.4h0M412.4 150.9h0M413.6 151.8h0M417.3 147.2h0M416.3 152.7h0M425.1 146.9h0M413.0 155.1h0M419.8 151.5h0M418.8 145.0h0M408.5 150.6h0M422.3 143.7h0M423.3 140.7h0M420.1 146.0h0M411.1 152.4h0M414.9 148.3h0M406.1 151.0h0M413.9 149.2h0M415.8 154.7h0M415.5 149.4h0M417.2 151.7h0M421.1 148.7h0M410.1 152.2h0M417.3 149.7h0M414.2 149.9h0M412.1 149.6h0M418.2 145.8h0M413.0 149.8h0M419.2 148.0h0M411.0 150.0h0M410.4 148.6h0M429.9 144.6h0M420.1 145.4h0M423.1 149.3h0M423.9 146.4h0M415.5 156.0h0M421.8 147.9h0M419.2 147.9h0M413.1 145.0h0M428.8 149.3h0M420.2 148.2h0M418.0 149.7h0M416.3 148.1h0M417.9 142.4h0M423.2 143.4h0M420.4 147.9h0M426.8 147.7h0M409.7 149.1h0M415.8 143.7h0M419.9 146.1h0M414.4 151.9h0M411.7 148.7h0M418.1 150.0h0M415.7 147.7h0M417.5 146.6h0M409.4 154.9h0M420.7 149.3h0M418.2 148.7h0M407.4 149.1h0M409.4 155.7h0M415.4 152.9h0M418.5 145.8h0M415.5 146.4h0M415.3 149.9h0M419.6 145.1h0M410.9 154.7h0M412.6 152.5h0M408.6 149.9h0M408.3 154.7h0M422.9 154.0h0M426.0 143.5h0M406.9 152.8h0M418.6 148.2h0M416.4 145.3h0M417.8 153.2h0M413.8 148.6h0M410.4 149.7h0M423.1 145.8h0M414.0 148.5h0M420.0 144.6h0M412.7 149.4h0M406.2 157.3h0M414.0 151.9h0M418.1 150.4h0M417.4 155.1h0M419.2 146.1h0M415.7 142.5h0M408.9 146.3h0M418.3 153.8h0M416.6 143.8h0M409.9 153.0h0M419.6 146.0h0M424.1 144.9h0M427.5 144.8h0M423.3 136.6h0M421.4 147.9h0M424.7 145.6h0M419.1 147.8h0M418.5 148.9h0M422.5 140.2h0M412.9 145.9h0M414.4 150.3h0M418.2 148.5h0M420.9 147.2h0M415.1 148.7h0M411.2 149.8h0M416.8 149.2h0M410.7 154.8h0M414.5 144.7h0M416.8 149.8h0M416.7 146.9h0M412.8 150.9h0M417.9 148.4h0M416.5 151.9h0M408.1 152.8h0M406.6 147.9h0M418.7 149.6h0M416.0 149.9h0M417.4 151.2h0M414.6 150.9h0M416.3 143.6h0M421.6 143.7h0M410.5 149.6h0M409.3 141.3h0M412.5 157.8h0M410.9 147.8h0M404.5 149.3h0M407.1 155.9h0M416.4 145.2h0M407.2 159.9h0M409.7 157.0h0M410.9 153.1h0M408.4 156.9h0M402.5 148.6h0M414.6 142.8h0M403.1 164.6h0M401.0 163.0h0M398.5 164.2h0M391.1 160.0h0M401.8 161.3h0M417.4 144.6h0M395.8 160.8h0M404.1 162.4h0M401.8 156.1h0M405.4 143.0h0M408.2 148.2h0M400.0 165.8h0M410.3 150.8h0M402.1 147.3h0M408.4 158.3h0M401.0 163.3h0M403.2 158.6h0M407.4 141.1h0M410.2 144.1h0M391.9 155.6h0M406.7 145.8h0M396.5 159.8h0M410.8 156.9h0M409.6 141.3h0M413.9 149.5h0M413.0 146.6h0M405.5 145.6h0M404.5 156.1h0M401.3 154.8h0M410.8 153.7h0M403.0 163.2h0M411.7 155.0h0M402.4 151.3h0M413.5 141.7h0M399.7 156.0h0M407.0 150.7h0M401.9 157.3h0M404.0 157.6h0M400.5 151.3h0M394.6 160.9h0M403.4 157.7h0M416.6 147.0h0M411.5 142.6h0M397.5 147.6h0M411.8 153.5h0M406.7 162.0h0M407.4 152.6h0M408.7 159.0h0M405.8 140.5h0M401.2 158.4h0M402.9 151.2h0M404.1 155.1h0M400.3 165.9h0M411.6 151.2h0M406.9 151.4h0M399.9 158.9h0M414.3 144.7h0M408.6 153.4h0M426.9 146.0h0M424.8 137.6h0M420.8 135.1h0M421.1 147.8h0M425.4 142.5h0M417.3 141.3h0M432.3 143.4h0M419.6 142.7h0M431.6 139.1h0M428.7 140.8h0M428.7 141.1h0M417.3 142.2h0M417.1 143.0h0M421.3 139.7h0M428.3 137.8h0M429.4 142.5h0M427.9 139.6h0M427.7 139.3h0M429.7 139.8h0M424.9 137.5h0M425.4 151.1h0M421.8 143.7h0M427.9 140.8h0M420.7 140.7h0M424.7 145.8h0M427.9 145.8h0M433.9 139.7h0M431.6 148.1h0M426.7 142.4h0M425.8 142.6h0M419.1 143.7h0M431.1 137.2h0M430.4 145.8h0M429.1 142.1h0M419.8 141.5h0M432.9 141.7h0M425.2 145.1h0M429.2 132.5h0M427.5 141.5h0M428.2 139.4h0M458.5 113.5h0M447.8 128.8h0M458.6 114.7h0M454.8 122.1h0M440.3 132.6h0M448.7 125.2h0M456.8 123.6h0M369.4 181.9h0M383.0 174.5h0M376.0 187.5h0M384.0 169.2h0M364.6 160.9h0M368.8 180.1h0M379.6 173.9h0M372.9 171.1h0M409.4 149.5h0M412.4 151.9h0M411.3 142.1h0M422.7 149.4h0M419.0 147.1h0M420.0 148.7h0M421.1 149.6h0M413.5 153.5h0M399.5 149.9h0M412.4 139.9h0M407.6 158.4h0M417.9 151.1h0M403.5 155.2h0M411.0 146.5h0M406.3 157.1h0M417.8 151.0h0M401.2 149.8h0M423.2 149.1h0M410.2 151.5h0M427.0 145.5h0M408.3 162.4h0M410.9 148.3h0M409.0 152.5h0M412.6 147.5h0M418.7 150.7h0M417.0 153.1h0M403.3 152.9h0M418.1 156.0h0M406.4 153.4h0M401.3 153.6h0M407.5 152.3h0M412.5 149.6h0M418.8 153.0h0M419.7 145.0h0M415.7 150.6h0M401.3 151.1h0M399.1 157.2h0M422.3 152.6h0M418.3 148.6h0M410.8 150.5h0M416.1 151.4h0M403.7 154.0h0M426.9 152.4h0M406.5 152.3h0M413.4 148.4h0M417.0 148.1h0M407.1 154.4h0M410.2 158.2h0M402.0 153.6h0M413.0 152.2h0M399.9 159.3h0M422.9 149.6h0M416.4 148.7h0M415.1 142.9h0M392.9 148.9h0M412.5 150.5h0M416.5 147.9h0M426.1 144.1h0M420.3 151.4h0M403.6 147.9h0M422.7 148.5h0M415.9 146.2h0M406.2 150.2h0M400.1 154.3h0M408.6 151.7h0M408.4 154.8h0M415.5 146.3h0M420.2 151.8h0M417.5 140.6h0M426.2 138.7h0M415.4 151.4h0M403.2 153.3h0M412.9 158.7h0M402.8 155.6h0M411.7 151.7h0M419.8 149.3h0M419.4 152.2h0M419.5 150.5h0M409.4 155.7h0M397.9 149.4h0M406.2 152.9h0M423.3 146.6h0M413.4 153.2h0M410.4 144.9h0M410.9 149.4h0M415.9 156.9h0M411.0 148.0h0M414.3 153.2h0M415.2 155.9h0M412.4 154.0h0M422.9 150.6h0M417.8 149.6h0M409.3 142.1h0M413.9 153.5h0M418.5 150.8h0M397.7 151.3h0M409.1 146.5h0M411.9 156.3h0M411.7 151.4h0M416.6 143.7h0M413.9 151.0h0M407.4 153.1h0M416.1 149.4h0M412.4 154.7h0M414.7 153.5h0M393.0 157.4h0M420.4 149.3h0M416.2 151.5h0M425.1 144.6h0M401.8 155.0h0M385.3 149.3h0M387.0 147.2h0M395.2 147.5h0M388.7 147.5h0M385.9 150.4h0M387.6 145.5h0M397.0 145.9h0M385.3 146.8h0"/>
</g>
<rect x="349.30" y="147.85" width="137.10" height="1.9" fill="#d3202a"/>
<rect x="393.15" y="72.70" width="1.9" height="148.80" fill="#d3202a"/>
<path fill-rule="evenodd" fill="#000" d="M346.3 70.0H488.7V223.8H346.3ZM349.30 72.70V221.50H486.40V72.70Z"/>
<rect x="499.10" y="148.80" width="46.20" height="72.40" fill="#e8efd3"/>
<g clip-path="url(#c3)" fill="none" stroke-linecap="square" stroke-width="1">
<path stroke="#e6291d" d="M553.3 170.2h0M531.2 187.0h0M541.7 177.9h0M552.6 169.6h0M530.4 188.1h0M531.8 184.7h0M528.7 192.9h0M545.5 176.7h0M536.9 185.1h0M535.6 186.5h0M515.7 200.3h0M536.7 182.0h0M536.2 183.4h0M527.3 188.6h0M537.4 183.4h0M524.3 190.0h0M544.9 172.4h0M546.1 177.1h0M538.2 181.2h0M519.9 197.3h0M538.3 182.0h0M521.4 192.3h0M532.4 188.2h0M527.5 189.4h0M539.2 180.0h0M550.0 174.7h0M529.9 188.9h0M560.2 167.8h0M537.8 180.5h0M544.4 180.3h0M539.7 182.4h0M536.1 181.2h0M541.6 180.8h0M548.1 176.1h0M536.6 183.3h0M539.6 182.2h0M526.0 192.3h0M527.4 189.9h0M535.9 185.4h0M532.0 184.8h0M522.5 192.6h0M540.4 181.0h0M521.4 196.2h0M530.9 186.7h0M543.5 176.3h0M529.4 190.0h0M525.4 191.7h0M550.9 173.6h0M520.7 196.7h0M541.5 181.0h0M529.4 189.1h0M537.9 182.5h0M533.5 184.8h0M544.2 178.9h0M544.2 177.9h0M532.2 185.6h0M546.5 174.7h0M528.4 189.3h0M544.7 179.5h0M531.8 186.6h0M546.1 178.2h0M544.5 180.1h0M533.2 189.4h0M536.5 183.8h0M538.0 182.2h0M548.8 179.8h0M536.4 183.5h0M535.7 182.2h0M515.1 200.4h0M537.3 184.3h0M541.3 179.8h0M538.8 184.8h0M532.4 186.2h0M546.2 173.4h0M538.1 182.7h0M557.0 168.2h0M523.1 191.2h0M532.7 190.0h0M538.0 181.4h0M535.6 182.5h0M546.7 176.4h0M528.3 185.7h0M553.6 172.6h0M540.6 183.3h0M531.2 185.6h0M536.1 186.5h0M541.9 179.3h0M539.2 182.4h0M534.0 182.8h0M537.8 181.0h0M533.7 185.6h0M529.4 188.3h0M529.1 192.4h0M532.7 187.0h0M553.0 170.0h0M539.0 182.5h0M540.8 181.7h0M536.4 181.7h0M545.4 179.3h0M530.6 192.0h0M531.8 188.1h0M531.9 189.3h0M537.5 179.6h0M555.7 173.6h0M538.9 181.3h0M548.4 174.6h0M526.6 191.4h0M521.0 197.3h0M548.5 178.0h0M533.6 183.8h0M530.6 189.8h0M542.1 179.1h0M542.5 180.4h0M533.7 186.8h0M550.3 170.0h0M533.0 187.9h0M550.8 170.0h0M544.1 176.9h0M530.8 187.3h0M538.9 181.2h0M535.4 185.5h0M532.0 186.2h0M541.7 175.9h0M539.4 182.9h0M538.8 179.9h0M534.1 186.9h0M527.9 188.7h0M524.4 191.2h0M542.7 179.3h0M541.2 182.7h0M534.0 187.9h0M546.3 174.9h0M540.9 180.8h0M528.5 188.3h0M522.2 193.6h0M532.5 188.7h0M545.2 176.0h0M531.9 189.1h0M532.4 187.8h0M536.7 185.8h0M514.8 200.2h0M540.3 179.4h0M536.9 182.6h0M534.3 186.0h0M537.4 184.2h0M541.2 180.7h0M525.7 192.8h0M547.9 179.7h0M534.7 186.7h0M547.4 178.6h0M544.1 176.9h0M547.5 177.2h0M531.1 187.4h0M538.0 181.2h0M524.8 192.0h0M532.4 185.9h0M542.0 180.0h0M539.7 181.8h0M553.5 172.7h0M527.0 189.9h0M543.2 179.5h0M534.8 188.0h0M549.3 173.6h0M556.8 168.5h0M539.0 180.3h0M551.9 173.8h0M526.1 189.5h0M533.2 183.7h0M552.3 171.4h0M537.8 181.2h0M531.0 186.0h0M554.2 169.6h0M528.3 190.7h0M534.5 187.1h0M557.7 170.2h0M545.0 177.2h0M541.2 182.8h0M531.3 186.9h0M540.9 179.8h0M522.0 194.1h0M537.6 181.5h0M544.1 177.1h0M549.1 173.1h0M536.6 182.6h0M534.2 184.1h0M513.7 200.5h0M540.7 179.4h0M533.7 187.2h0M543.0 179.9h0M547.2 174.5h0M536.7 185.3h0M530.5 188.8h0M521.5 194.6h0M541.8 179.2h0M545.8 176.7h0M531.7 187.2h0M538.1 183.7h0M516.5 196.4h0M529.2 187.6h0M539.2 181.6h0M536.3 184.0h0M545.0 176.1h0M546.5 177.3h0M543.3 179.7h0M533.5 186.0h0M538.1 187.0h0M534.1 190.4h0M522.4 196.0h0M534.7 185.3h0M531.3 187.9h0M532.2 188.7h0M524.2 191.5h0M521.8 193.0h0M550.7 175.3h0M530.1 187.9h0M529.3 186.7h0M542.9 177.1h0M530.5 188.3h0M535.6 181.1h0M538.4 183.2h0M536.4 185.1h0M536.0 185.8h0M535.0 185.5h0M525.3 191.4h0M534.7 187.4h0M550.9 175.3h0M541.2 182.5h0M531.1 185.2h0M530.1 188.7h0M529.7 189.8h0M540.4 179.9h0M531.1 186.4h0M542.9 177.5h0M547.2 177.7h0M532.2 187.2h0M531.4 190.1h0M525.6 191.9h0M536.4 182.5h0M539.7 182.4h0M536.7 184.4h0M526.5 189.7h0M530.3 192.1h0M552.1 173.9h0M533.7 188.2h0M532.9 185.5h0M538.3 182.8h0M535.2 183.3h0M539.6 181.1h0M528.5 191.2h0M540.0 183.4h0M539.1 184.1h0M532.0 189.1h0M532.2 184.7h0M532.9 187.8h0M536.1 181.8h0M539.2 183.8h0M526.9 188.0h0M556.8 168.2h0M533.2 184.6h0M534.2 183.4h0M543.6 179.9h0M525.5 193.8h0M533.3 187.8h0M543.8 179.4h0M531.0 188.4h0M535.0 183.8h0M531.5 186.2h0M532.2 185.7h0M536.7 187.0h0M526.8 189.7h0M535.1 183.6h0M535.7 187.2h0M528.9 189.9h0M538.9 181.0h0M531.3 188.2h0M541.2 183.5h0M540.3 181.3h0M538.5 182.1h0M538.2 183.0h0M519.6 191.2h0M531.9 189.0h0M531.5 188.9h0M549.9 178.1h0M537.1 183.8h0M524.7 194.6h0M547.3 176.6h0M515.5 197.6h0M540.1 182.3h0M529.1 187.7h0M523.7 193.6h0M547.4 177.4h0M513.5 200.6h0M543.2 177.7h0M538.5 184.7h0M536.1 183.8h0M527.7 191.2h0M543.4 180.3h0M544.9 178.8h0M539.7 183.2h0M540.4 183.0h0M530.1 189.0h0M539.0 181.4h0M532.6 186.1h0M536.1 186.8h0M545.8 175.6h0M541.7 182.5h0M539.0 179.2h0M532.2 188.2h0M540.7 180.4h0M536.1 182.0h0M538.9 179.1h0M535.2 182.7h0M539.3 182.3h0M543.9 178.4h0M544.4 176.7h0M528.2 190.1h0M551.1 175.1h0M548.5 175.7h0M532.6 187.4h0M546.8 178.1h0M536.9 180.3h0M537.4 184.0h0M550.0 175.6h0M540.1 179.5h0M539.2 180.1h0M536.5 182.9h0M524.7 194.1h0M535.8 183.4h0M548.5 176.3h0M524.6 195.6h0M524.5 192.1h0M535.1 183.8h0M519.7 197.5h0M531.9 188.5h0M543.3 179.5h0M542.5 180.6h0M552.3 175.2h0M531.1 184.5h0M527.5 191.8h0M530.9 186.7h0M541.5 181.1h0M550.2 172.8h0M544.6 179.2h0M528.4 192.0h0M539.7 183.0h0M541.7 179.9h0M549.9 172.0h0M532.2 187.0h0M516.5 196.0h0M543.7 180.8h0M554.1 172.9h0M541.5 179.3h0M539.1 182.9h0M542.8 180.3h0M545.7 179.8h0M536.1 185.3h0M529.6 188.9h0M537.5 181.3h0M532.2 186.2h0M529.2 188.5h0M548.6 176.3h0M531.0 187.7h0M532.4 183.1h0M536.4 186.7h0M538.0 181.9h0M535.9 181.0h0M517.8 196.8h0M539.0 181.2h0M536.6 186.0h0M533.8 185.0h0M536.5 183.6h0M536.7 184.8h0M543.1 178.2h0M545.1 177.1h0M534.8 187.2h0M531.5 186.9h0M536.0 185.6h0M533.7 185.8h0M548.6 173.5h0M538.1 185.3h0M547.2 177.5h0M514.8 198.8h0M528.1 190.4h0M532.8 183.0h0M539.4 178.5h0M532.4 186.9h0M529.2 189.4h0M535.4 184.4h0M534.9 185.2h0M538.0 183.4h0M545.2 175.3h0M542.1 180.8h0M533.2 189.5h0M545.4 181.6h0M534.1 187.2h0M531.7 190.3h0M548.5 176.4h0M533.8 185.8h0M538.0 181.5h0M539.1 180.8h0M542.7 179.6h0M528.3 190.9h0M545.6 176.3h0M535.6 182.9h0M537.3 182.9h0M555.1 172.0h0M536.7 184.9h0M531.1 189.0h0M528.1 189.3h0M544.3 180.7h0M527.7 193.7h0M527.8 190.0h0M537.6 181.9h0M525.3 191.2h0M541.3 179.7h0M521.9 195.3h0M541.7 179.1h0M542.2 179.5h0M533.6 184.2h0M549.8 175.6h0M542.1 184.2h0M531.5 186.5h0M521.2 193.6h0M530.9 189.7h0M538.2 183.1h0M534.3 181.5h0M533.5 184.2h0M542.9 180.5h0M546.6 180.4h0M523.3 194.5h0M537.2 181.2h0M539.1 184.1h0M528.7 188.4h0M532.6 185.5h0M527.1 190.5h0M535.3 183.4h0M540.2 179.2h0M541.9 180.2h0M526.2 191.8h0M545.2 176.8h0M533.9 183.6h0M529.8 187.0h0M526.1 191.3h0M532.1 186.3h0M541.0 177.9h0M521.8 192.4h0M547.8 176.7h0M534.9 181.2h0M531.2 187.1h0M518.8 198.0h0M534.9 185.8h0M533.6 184.7h0M533.9 186.7h0M540.4 180.0h0M524.0 193.7h0M543.7 180.6h0M535.0 187.7h0M512.4 201.8h0M538.5 183.6h0M521.5 193.4h0M550.0 173.2h0M528.3 188.6h0M521.1 192.8h0M535.4 184.6h0M540.6 183.5h0M543.4 181.7h0M535.7 185.5h0M530.3 191.2h0M546.7 173.9h0M532.9 186.0h0M530.9 189.8h0M531.0 186.4h0M529.2 185.2h0M527.4 190.9h0M540.8 179.6h0M521.9 191.5h0M536.2 182.7h0M534.6 184.5h0M542.6 178.5h0M540.3 182.2h0M531.8 187.4h0M539.7 180.6h0M536.1 183.1h0M537.2 182.2h0M536.8 183.6h0M558.3 169.6h0M539.6 182.7h0M523.4 194.2h0M540.5 178.1h0M531.5 189.2h0M530.9 188.0h0M536.2 180.7h0M528.4 189.5h0M549.1 174.4h0M535.7 184.9h0M545.3 177.3h0M539.7 180.7h0M530.1 184.2h0M518.0 198.5h0M538.1 184.1h0M542.0 180.2h0M521.7 193.9h0M541.9 177.6h0M534.8 188.3h0M545.2 178.2h0M523.8 194.9h0M542.7 181.6h0M551.2 173.2h0M538.6 180.1h0M533.9 182.9h0M540.0 179.4h0M533.1 187.0h0M531.6 186.6h0M535.6 184.6h0M529.3 186.5h0M531.0 188.4h0M536.7 181.1h0M536.0 184.5h0M544.4 180.2h0M532.2 187.9h0M546.3 176.3h0M539.7 184.4h0M537.5 184.1h0M534.4 184.8h0M522.7 196.1h0M554.4 170.9h0M534.4 185.4h0M549.3 173.5h0M540.6 184.2h0M540.3 182.6h0M532.5 186.4h0M524.0 194.2h0M534.6 182.7h0M539.2 185.2h0M529.0 189.5h0M524.5 189.9h0M556.2 168.9h0M513.8 199.9h0M544.5 176.0h0M539.1 183.2h0M529.3 188.7h0M527.2 193.2h0M526.0 189.3h0M560.7 167.8h0M523.7 192.3h0M527.9 190.4h0M538.3 180.8h0M545.9 177.9h0M529.7 187.9h0M526.6 194.1h0M526.3 194.0h0M536.4 182.7h0M556.4 170.6h0M540.4 183.1h0M539.0 182.5h0M536.6 182.7h0M535.3 188.1h0M537.5 184.0h0M528.1 191.2h0M527.1 191.1h0M534.4 187.7h0M538.8 181.3h0M546.5 176.2h0M525.3 190.7h0M555.2 168.5h0M542.0 179.1h0M534.6 182.7h0M533.5 187.1h0M545.7 172.9h0M542.1 179.0h0M539.1 183.0h0M533.9 188.0h0M532.2 185.6h0M544.7 178.7h0M519.9 196.8h0M542.2 181.2h0M541.6 179.7h0M541.6 177.4h0M517.4 198.3h0M545.0 175.4h0M540.7 180.0h0M540.2 179.9h0M552.2 167.8h0M537.2 184.2h0M537.0 184.0h0M533.6 184.8h0M534.0 186.8h0M544.0 179.7h0M528.7 190.6h0M538.0 185.6h0M534.5 183.6h0M534.9 184.6h0M538.3 182.7h0M551.3 170.5h0M549.7 176.5h0M532.4 186.2h0M545.2 178.1h0M540.1 180.7h0M538.5 183.4h0M527.3 188.9h0M544.8 176.1h0M537.5 181.5h0M541.8 179.1h0M542.0 176.2h0M540.2 182.2h0M518.1 193.0h0M541.6 183.0h0M541.8 179.5h0M534.7 185.8h0M529.5 188.3h0M533.5 184.3h0M525.5 190.8h0M542.6 180.2h0M518.6 198.2h0M535.4 183.0h0M534.3 184.2h0M546.5 178.1h0M522.2 191.5h0M547.7 176.4h0M536.2 185.7h0M557.6 169.2h0M541.3 183.3h0M536.0 184.6h0M544.9 178.8h0M535.9 184.3h0M527.8 186.3h0M544.7 176.6h0M530.2 191.9h0M532.8 188.4h0M533.0 187.3h0M541.5 180.6h0M543.0 180.3h0M546.4 176.4h0M534.9 186.1h0M519.6 191.2h0M535.0 185.1h0M537.7 183.5h0M539.3 181.8h0M525.2 194.3h0M546.8 175.5h0M525.1 191.8h0M545.4 179.4h0M535.4 186.2h0M538.0 180.1h0M530.4 187.0h0M534.3 184.4h0M525.7 189.1h0M515.0 200.7h0M531.9 187.1h0M530.0 188.1h0M538.5 182.4h0M530.7 189.1h0M526.5 192.2h0M524.8 193.4h0M549.0 175.2h0M527.7 190.4h0M529.5 190.5h0M542.4 180.8h0M541.0 183.4h0M528.4 189.6h0M528.1 191.1h0M545.5 179.6h0M543.6 178.6h0M532.1 186.0h0M544.5 175.7h0M546.0 179.5h0M538.9 181.2h0M531.2 188.4h0M538.7 183.1h0M543.9 178.3h0M536.9 183.0h0M539.3 184.7h0M538.0 181.4h0M532.0 186.5h0M543.5 176.3h0M541.9 180.8h0M545.2 175.0h0M523.8 194.1h0M522.4 193.5h0M535.5 186.3h0M527.9 188.6h0M531.5 188.0h0M538.9 183.5h0M529.3 185.9h0M546.2 174.9h0M535.9 182.4h0M540.8 178.4h0M528.5 192.3h0M539.2 180.7h0M517.1 197.3h0M540.2 182.3h0M536.0 186.2h0M520.1 195.5h0M528.0 187.6h0M535.1 184.3h0M548.2 177.4h0M534.1 183.9h0M530.5 188.0h0M553.3 172.9h0M539.4 177.7h0M529.8 190.9h0M552.7 169.9h0M538.2 180.7h0M544.4 179.7h0M534.3 185.0h0M536.3 177.5h0M545.3 177.7h0M542.2 174.1h0M532.1 186.3h0M545.9 179.2h0M541.7 178.2h0M539.7 182.5h0M544.6 176.0h0M540.0 182.7h0M533.4 181.9h0M532.9 182.6h0M543.9 173.4h0M545.8 174.7h0M539.5 179.7h0M541.9 179.4h0M536.4 178.3h0M543.2 177.1h0M541.1 180.1h0M545.9 175.5h0M551.9 172.5h0M554.0 168.6h0M534.4 180.8h0M545.4 179.2h0M552.4 173.4h0M544.4 171.2h0M540.1 181.3h0M540.7 177.4h0M538.3 181.3h0M545.4 176.3h0M533.9 187.1h0M546.9 174.9h0M540.1 179.6h0M544.9 174.2h0M541.8 181.8h0M550.3 175.0h0M545.1 177.1h0M534.2 183.1h0M535.6 182.6h0M541.3 185.7h0M538.6 185.2h0M535.9 179.2h0M543.2 179.7h0M527.0 187.2h0M540.7 180.4h0M544.5 176.3h0M537.2 181.4h0M538.9 181.2h0M533.2 179.7h0M543.8 177.1h0M536.3 181.4h0M535.8 185.2h0M538.5 178.7h0M533.5 180.8h0M537.8 177.3h0M544.4 175.1h0M537.3 183.1h0M547.6 172.7h0M536.1 177.1h0M544.7 174.4h0M542.2 177.7h0M536.7 178.5h0M551.3 173.0h0M540.1 178.7h0M545.0 179.6h0M541.6 178.3h0M538.9 180.2h0M531.9 184.7h0M533.2 177.8h0M524.4 193.9h0M537.8 184.4h0M540.8 179.5h0M532.3 182.6h0M533.0 183.4h0M541.7 178.7h0M532.0 183.4h0M537.4 178.1h0M538.7 183.1h0M529.3 182.8h0M536.5 183.2h0M532.3 191.2h0M546.9 172.7h0M541.4 178.9h0M536.0 182.3h0M537.5 179.6h0M530.4 186.7h0M532.9 185.7h0M534.2 180.7h0M540.6 178.3h0M555.1 172.1h0M538.0 184.0h0M540.4 179.2h0M532.4 185.0h0M533.2 186.6h0M530.1 190.6h0M537.7 181.6h0M528.7 188.4h0M555.6 170.8h0M546.5 180.4h0M545.7 175.6h0M536.9 180.0h0M548.2 174.2h0M543.2 176.5h0M544.5 174.5h0M539.2 179.0h0M553.8 171.5h0M541.6 179.7h0M545.8 173.6h0M536.1 186.0h0M538.2 182.5h0M541.4 177.9h0M538.6 181.3h0M530.6 186.9h0M556.6 170.2h0M539.8 182.1h0M544.7 175.2h0M551.8 173.5h0M543.0 173.3h0M545.5 174.7h0M543.2 180.6h0M539.7 178.1h0M544.1 176.6h0M533.8 183.3h0M540.9 182.3h0M539.9 179.1h0M535.6 184.4h0M540.0 181.6h0M543.1 178.1h0M544.7 180.3h0M553.4 167.4h0M552.6 173.1h0M536.5 183.4h0M529.0 185.8h0M533.6 183.9h0M537.3 179.4h0M535.7 186.9h0M531.2 182.6h0M540.3 179.4h0M545.4 178.1h0M546.5 174.5h0M543.6 176.4h0M530.1 193.1h0M551.3 169.6h0M543.7 174.5h0M529.7 190.9h0M529.0 185.2h0M536.2 186.4h0M543.1 183.5h0M544.4 175.8h0M550.8 176.9h0M544.2 177.2h0M541.4 177.7h0M547.6 172.3h0M537.1 181.8h0M540.7 180.0h0M543.4 179.2h0M537.9 179.3h0M534.9 188.1h0M545.7 177.3h0M530.8 187.8h0M539.3 176.4h0M527.4 189.4h0M538.5 180.4h0M538.0 182.4h0M545.4 175.1h0M534.7 183.7h0M549.1 171.6h0M545.8 177.7h0M542.5 178.1h0M537.8 179.3h0M538.8 179.7h0M534.3 180.1h0M541.8 180.1h0M536.7 178.5h0M540.5 181.1h0M540.7 180.1h0M547.0 176.7h0M537.8 176.9h0M546.5 181.1h0M537.6 182.9h0M540.0 176.8h0M538.2 183.7h0M546.5 178.1h0M535.9 180.6h0M539.3 175.3h0M528.2 186.6h0M536.5 181.4h0M531.9 183.8h0M538.1 185.4h0M545.6 175.4h0M541.4 177.6h0M543.0 177.6h0M539.7 182.2h0M534.9 187.6h0M544.3 173.5h0M544.3 176.3h0M542.4 176.3h0M548.9 177.5h0M536.8 177.6h0M539.8 180.2h0M536.8 188.0h0M544.0 178.1h0M542.1 176.8h0M547.4 171.8h0M544.2 179.6h0M548.5 173.3h0M531.9 186.7h0M540.0 182.1h0M529.2 185.3h0M543.3 182.6h0M539.3 181.3h0M539.4 180.3h0M537.7 186.9h0M544.3 180.7h0M531.6 182.7h0M539.6 183.8h0M544.4 175.6h0M551.7 172.9h0M541.8 178.3h0M546.9 173.8h0M544.6 174.9h0M539.9 179.5h0M538.0 177.9h0M543.0 177.2h0M536.9 176.2h0M537.4 180.4h0M544.6 179.1h0M530.4 188.3h0M533.8 185.0h0M542.4 177.1h0M537.1 181.3h0M535.4 179.6h0M542.2 176.8h0M533.4 179.8h0M533.4 185.2h0M534.0 185.7h0M540.7 179.7h0M540.5 177.8h0M535.9 190.3h0M541.6 172.8h0M544.0 178.5h0M550.3 176.4h0M535.9 181.9h0M553.2 168.8h0M544.3 174.4h0M541.4 181.3h0M536.4 184.8h0M543.1 177.7h0M529.2 192.5h0M543.8 177.3h0M536.8 176.4h0M534.3 179.6h0M529.6 187.2h0M536.6 184.5h0M535.5 185.6h0M546.8 180.8h0M544.3 182.6h0M541.9 179.2h0M541.1 177.3h0M532.1 183.5h0M537.9 179.3h0M545.7 178.8h0M537.2 184.6h0M534.1 183.6h0M540.7 175.2h0M540.7 182.2h0M540.3 178.7h0M537.5 185.5h0M538.6 181.1h0M536.7 183.8h0M536.2 184.9h0M545.4 177.1h0M547.3 177.0h0M537.4 183.2h0M548.2 171.6h0M546.8 175.6h0M535.7 183.5h0M542.6 177.4h0M538.5 182.0h0M540.4 182.7h0M531.7 186.5h0M521.7 190.5h0M546.5 175.0h0M537.9 177.5h0M537.1 181.3h0M544.9 177.0h0M541.1 179.6h0M542.9 180.2h0M538.7 176.5h0M541.3 183.0h0M551.6 173.1h0M535.9 186.0h0M545.4 177.5h0M539.3 178.4h0M538.1 184.9h0M535.0 181.6h0M527.8 186.2h0M539.7 179.4h0M538.0 182.0h0M542.8 178.5h0M532.9 187.8h0M551.8 172.3h0M542.1 176.0h0M545.6 168.4h0M527.6 188.9h0M529.1 187.3h0M526.8 182.8h0M537.4 181.7h0M531.6 183.8h0M534.3 181.8h0M548.3 175.8h0M533.7 187.4h0M538.5 173.9h0M548.4 173.0h0M545.0 176.9h0M539.8 178.4h0M544.6 175.8h0M541.9 183.8h0M537.1 183.6h0M545.7 175.5h0M537.3 182.2h0M542.1 173.9h0M537.8 182.5h0M535.3 184.8h0M540.0 179.1h0M541.4 177.7h0M563.7 167.0h0M555.9 165.5h0M575.7 157.1h0M568.9 163.0h0M572.9 159.0h0M562.0 166.3h0M571.6 160.5h0M574.8 156.3h0M553.5 169.2h0M574.6 157.8h0M550.4 170.4h0M550.9 167.7h0M567.2 158.6h0M563.4 161.7h0M570.5 157.3h0M562.5 165.9h0M561.1 163.8h0M574.2 154.9h0M549.4 171.5h0M560.7 165.8h0M552.1 173.6h0M559.0 164.1h0M559.3 169.2h0M567.4 158.4h0M569.1 158.2h0M572.5 158.3h0M551.5 173.2h0M565.3 163.9h0M572.9 157.6h0M559.4 165.1h0M570.2 159.8h0M560.9 161.3h0M554.2 170.4h0M551.8 174.6h0M567.5 158.5h0M569.7 158.3h0M554.8 169.5h0M568.6 161.8h0M561.1 167.4h0M573.3 156.9h0M552.2 169.6h0M563.4 163.2h0M561.8 164.3h0M552.9 169.4h0M574.5 158.9h0M551.9 170.3h0M574.5 157.9h0M572.5 157.6h0M568.3 159.0h0M567.9 162.6h0M563.0 164.4h0M555.2 170.5h0M550.9 174.1h0M557.6 166.0h0M562.9 163.8h0M571.4 156.0h0M567.2 161.4h0M573.4 159.4h0M574.0 158.9h0M573.6 158.1h0M560.3 169.9h0M558.4 166.3h0M567.5 164.3h0M553.3 169.8h0M572.0 160.2h0M564.8 161.7h0M570.6 157.1h0M564.8 161.3h0M563.8 162.3h0M556.1 164.8h0M562.5 167.2h0M554.2 168.8h0M568.1 161.1h0M555.0 168.9h0M559.3 164.2h0M565.8 164.7h0M555.0 169.1h0M558.9 168.6h0M573.8 158.6h0M551.5 171.8h0M563.7 164.4h0M572.0 159.9h0M561.5 168.1h0M561.6 161.0h0M572.2 154.6h0M572.4 152.8h0M568.4 157.5h0M563.7 161.9h0M553.4 169.6h0M561.4 165.0h0M573.4 156.8h0M556.4 170.9h0M556.2 168.1h0M561.0 167.5h0M558.5 168.5h0M550.3 173.2h0M573.9 158.4h0M556.0 169.8h0M557.7 165.6h0M558.9 164.9h0M565.2 162.2h0M569.7 160.9h0M563.9 161.9h0M551.7 167.5h0M554.5 169.4h0M552.6 172.7h0M559.4 166.5h0M561.5 160.3h0M565.9 165.7h0M572.0 157.8h0M564.2 164.6h0M549.9 172.6h0M567.0 159.3h0M563.2 164.5h0M572.9 155.8h0M573.4 154.3h0M550.8 173.9h0M562.5 161.1h0M569.4 161.2h0M567.8 160.9h0M558.5 167.0h0M566.0 163.3h0M569.0 158.7h0M568.8 156.6h0M568.8 160.1h0M566.8 161.6h0M570.5 158.0h0M550.5 171.0h0M562.7 163.1h0M570.8 157.9h0M569.9 161.4h0M562.1 161.8h0M573.9 155.3h0M550.4 169.2h0M551.7 173.4h0M569.1 158.8h0M569.5 160.4h0M567.0 160.7h0M567.1 157.6h0M575.0 156.0h0M551.8 171.1h0M565.8 161.0h0M573.6 158.1h0M553.9 165.6h0M568.2 163.1h0M565.5 163.3h0M561.8 168.3h0M573.3 155.3h0M561.2 166.7h0M572.7 157.0h0M549.6 170.4h0M553.1 169.1h0M559.9 168.9h0M558.7 166.6h0M570.4 158.9h0M559.7 170.7h0M564.2 162.0h0M564.8 162.5h0M574.5 155.1h0M563.6 160.5h0M564.1 162.0h0M569.8 157.3h0M554.2 169.8h0M556.8 166.9h0M564.2 164.3h0M564.7 161.5h0M568.2 162.2h0M575.1 155.7h0M567.7 161.3h0M569.5 159.3h0M551.0 170.4h0M559.4 167.1h0M566.0 160.5h0M558.9 167.0h0M565.0 162.3h0M557.0 167.7h0M559.3 164.0h0M573.3 153.8h0M566.3 162.4h0M555.9 164.6h0M573.4 154.0h0M559.7 164.0h0M551.7 169.7h0M555.0 165.7h0M559.9 164.2h0M568.6 156.5h0M572.4 155.6h0M558.0 166.9h0M570.0 159.4h0M563.2 164.4h0M561.0 164.7h0M571.3 158.8h0M573.0 159.4h0M569.8 159.8h0M560.4 167.9h0M562.7 168.1h0M564.9 164.7h0M571.4 157.6h0M558.6 166.3h0M553.4 169.6h0M571.0 161.7h0M550.5 172.7h0M550.2 172.3h0M573.8 158.7h0M570.9 159.9h0M551.7 172.7h0M570.3 157.1h0M568.3 157.3h0M560.8 165.9h0M551.2 169.8h0M551.0 170.7h0M562.0 164.6h0M566.3 163.7h0M556.7 168.0h0M568.1 160.8h0M570.9 160.7h0M559.7 166.1h0M558.2 165.3h0M551.1 170.4h0M562.1 166.1h0M564.9 161.7h0M576.2 158.4h0M560.0 169.4h0M562.5 163.6h0M561.9 166.3h0M566.0 161.0h0M567.9 160.1h0M562.3 166.2h0M573.8 157.3h0M568.4 161.6h0M561.2 164.1h0M560.9 165.5h0M561.5 166.7h0M568.3 159.7h0M571.5 157.4h0M569.4 159.5h0M561.4 163.9h0M569.8 158.6h0M568.0 159.0h0M568.8 162.1h0M562.3 164.7h0M567.4 159.8h0M570.1 159.5h0M561.4 164.3h0M564.4 163.5h0M568.5 160.7h0M566.8 159.0h0M566.2 160.6h0M568.1 159.0h0M562.9 165.1h0M568.5 158.7h0M565.2 160.8h0M567.6 159.4h0M560.4 164.1h0M570.5 158.0h0M561.8 166.0h0M570.5 156.0h0M563.2 163.0h0M569.8 159.2h0M568.7 159.6h0M563.8 164.5h0M570.4 160.2h0M565.4 162.5h0M570.4 157.6h0M569.2 158.9h0M568.9 159.8h0M561.7 164.4h0M564.2 161.1h0M570.8 157.4h0M564.9 160.4h0M571.3 157.1h0M570.6 157.0h0M561.2 164.5h0M562.1 164.4h0M567.8 161.2h0M560.2 163.1h0M570.5 157.8h0M570.6 158.6h0M565.5 160.5h0M561.4 165.6h0M560.1 165.2h0M570.4 158.1h0M561.9 162.6h0M560.5 164.5h0M566.3 160.7h0M567.8 158.6h0M571.2 159.1h0M572.4 158.0h0M569.1 159.4h0M564.1 162.5h0M565.7 160.9h0M571.8 156.8h0M566.8 161.0h0M561.0 162.5h0M571.5 157.1h0M568.2 159.3h0M567.3 159.3h0M566.0 160.4h0M565.9 161.9h0M560.1 165.3h0M563.4 161.6h0M568.7 159.2h0M566.0 160.0h0M562.1 166.0h0M563.6 163.5h0M568.0 158.3h0M570.9 158.8h0M561.1 165.4h0M561.6 165.3h0M559.9 165.2h0M571.2 157.8h0M570.7 159.4h0M568.8 159.5h0M561.4 165.3h0M569.2 159.1h0M561.9 165.2h0M566.2 162.5h0M566.6 161.3h0M564.8 162.4h0M565.4 159.9h0M576.6 139.2h0M576.0 136.6h0M571.7 136.9h0M560.4 141.7h0M572.4 137.2h0M576.5 137.3h0M554.2 140.3h0M561.9 138.4h0M561.6 139.7h0M577.2 138.2h0M568.1 139.8h0M556.7 142.0h0M581.5 134.4h0M561.8 137.9h0M579.8 136.7h0M565.6 136.3h0M566.6 135.7h0M555.4 140.7h0M573.5 136.6h0M584.9 136.8h0M555.7 140.5h0M582.6 135.6h0M569.6 139.8h0M561.2 139.0h0M577.7 136.6h0M582.1 138.7h0M560.2 136.4h0M563.9 139.0h0M569.6 139.0h0M558.0 141.3h0M560.4 139.4h0M559.3 140.0h0M562.5 137.7h0M570.6 135.1h0M556.6 139.2h0M570.5 138.5h0M583.3 137.4h0M578.1 137.5h0M559.4 143.7h0M558.5 140.2h0M582.2 140.8h0M576.2 136.7h0M574.3 141.6h0M558.0 142.3h0M580.6 135.8h0M553.5 142.7h0M580.8 136.2h0M571.3 140.2h0M567.7 139.2h0M582.4 136.2h0M565.7 138.6h0M584.7 135.7h0M561.0 138.2h0M582.9 137.5h0M568.2 140.3h0M572.4 139.8h0M571.3 135.9h0M578.7 137.1h0M556.1 139.4h0M582.3 136.3h0M570.3 137.3h0M566.5 138.8h0M576.6 138.3h0M561.7 141.6h0M563.6 140.5h0M580.9 136.9h0M583.8 136.7h0M568.5 138.3h0M568.9 142.1h0M564.9 136.9h0M553.1 141.6h0M583.5 133.9h0M579.0 137.7h0M574.2 140.6h0M564.1 139.9h0M569.7 138.8h0M557.3 140.0h0M560.3 142.6h0M570.9 138.3h0M578.2 142.1h0M560.3 138.3h0M585.2 137.9h0M553.1 141.4h0M575.5 137.8h0M569.3 139.3h0M582.3 138.4h0M580.2 138.0h0M571.0 142.1h0M555.8 139.3h0M560.6 140.0h0M568.8 137.7h0M573.3 139.5h0M581.1 137.6h0M584.7 135.3h0M557.7 140.7h0M554.6 139.8h0M565.7 136.7h0M573.1 139.5h0M570.1 138.5h0M570.6 138.6h0M578.3 138.3h0M569.5 140.2h0M564.8 138.8h0M576.0 138.1h0M584.1 133.8h0M574.9 136.1h0M583.4 136.6h0M570.0 138.5h0M570.1 138.5h0M569.1 139.7h0M572.1 137.2h0M574.6 138.2h0M568.4 136.1h0M559.5 140.9h0M553.5 143.8h0M573.4 138.5h0M573.6 136.8h0M559.8 143.0h0M582.9 135.7h0M562.2 142.6h0M581.3 137.3h0M580.4 137.8h0M565.5 138.9h0M584.2 132.3h0M564.9 136.9h0M558.2 139.5h0M577.4 134.5h0M578.5 141.4h0M575.3 137.4h0M563.4 139.0h0M566.2 139.3h0M564.1 137.6h0M555.7 143.7h0M566.1 138.2h0M575.1 139.0h0M572.0 140.6h0M577.3 135.3h0M582.1 138.8h0M560.6 139.3h0M560.0 138.5h0M559.1 138.6h0M584.9 135.8h0M561.7 139.9h0M573.4 137.6h0M571.3 140.8h0M583.8 136.6h0M562.0 140.0h0M579.1 135.7h0M580.4 138.1h0M584.4 137.6h0"/>
<path stroke-width="1.15" stroke="#c81c24" d="M569.5 133.7h0M566.8 138.2h0M566.7 139.9h0M553.0 138.8h0M553.6 141.9h0M570.5 136.0h0M581.6 139.1h0M581.5 134.2h0M584.3 138.6h0M584.5 135.8h0M558.6 142.6h0M583.4 134.4h0M580.8 136.5h0M581.2 135.9h0M565.5 142.7h0M580.5 142.1h0M560.9 138.0h0M554.6 142.2h0M577.7 140.4h0M569.7 140.4h0M569.2 136.9h0M568.5 140.5h0M567.3 136.0h0M565.3 142.2h0M553.8 140.6h0M582.5 140.7h0M564.4 139.2h0M574.2 139.0h0M564.0 140.6h0M560.0 136.1h0M571.8 138.2h0M566.9 140.5h0M557.9 138.6h0M580.3 135.7h0M574.8 137.8h0M555.2 142.1h0M570.9 135.8h0M576.8 133.5h0M563.3 134.4h0M559.8 140.9h0M571.8 131.8h0M557.5 138.9h0M567.4 138.4h0M581.8 137.0h0M575.0 144.8h0M572.6 139.4h0M582.0 138.9h0M574.6 141.7h0M581.9 134.1h0M562.9 139.6h0M557.2 142.2h0M575.3 136.3h0M562.6 140.9h0M560.9 137.7h0M584.4 138.4h0M570.6 143.0h0M570.9 137.7h0M570.1 140.5h0M563.4 142.3h0M552.9 140.8h0M566.7 142.9h0M569.0 155.9h0M580.4 140.1h0M568.1 146.6h0M561.1 144.4h0M571.1 149.1h0M571.7 153.2h0M579.5 137.8h0M550.2 148.4h0M557.4 147.3h0M567.8 145.3h0M567.4 154.1h0M563.2 151.4h0M585.4 145.8h0M565.0 157.6h0M550.9 149.1h0M566.1 156.6h0M564.3 138.7h0M559.3 145.3h0M548.7 151.4h0M553.7 157.8h0M564.9 156.3h0M565.4 149.1h0M584.2 143.6h0M557.9 148.4h0M567.0 149.5h0M550.1 152.5h0M560.6 155.1h0M573.8 142.8h0M570.0 154.1h0M556.9 144.8h0M574.3 149.2h0M582.8 148.6h0M574.2 143.3h0M562.7 165.0h0M559.2 148.7h0M561.6 151.4h0M582.2 140.5h0M571.6 142.5h0M566.0 152.4h0M570.7 144.1h0M574.5 155.4h0M570.9 149.8h0M562.4 149.4h0M551.4 154.5h0M547.5 151.3h0M573.1 150.7h0M550.6 148.3h0M568.7 145.9h0M564.1 154.3h0M573.4 139.6h0M559.4 159.2h0M574.8 150.3h0M569.7 151.1h0M565.3 144.3h0M555.1 160.0h0M553.4 155.7h0M560.9 147.4h0M564.2 147.6h0M562.1 158.3h0M558.0 153.8h0M543.5 153.8h0M584.0 134.5h0M556.8 150.0h0M557.3 162.6h0M570.9 145.2h0M559.7 145.8h0M567.2 152.9h0M568.0 165.4h0M571.8 149.2h0M561.2 149.1h0M563.0 153.1h0M558.3 152.3h0M580.1 148.5h0M556.4 158.4h0M571.3 139.8h0M583.2 151.7h0M554.3 145.6h0M553.2 148.8h0M578.1 148.0h0M565.4 150.3h0M555.9 160.8h0M571.4 146.8h0M561.7 158.5h0M565.5 150.2h0M555.6 154.6h0M573.3 150.0h0M546.0 151.3h0M583.4 146.9h0M572.4 148.5h0M553.2 159.6h0M586.7 137.7h0M553.9 162.7h0M563.1 146.1h0M559.1 143.3h0M581.9 157.5h0M563.0 146.6h0M557.9 143.2h0M568.0 152.3h0M578.6 149.5h0M565.3 137.5h0M564.2 153.1h0M556.6 153.5h0M576.1 144.5h0M596.6 145.1h0M566.5 147.8h0M576.5 141.0h0M563.8 163.1h0M567.3 146.4h0M574.3 142.4h0M555.2 163.8h0M554.4 170.6h0M555.7 158.4h0M572.8 156.7h0M567.7 155.4h0M568.8 151.5h0M563.0 154.3h0M555.1 155.7h0M566.1 158.7h0M561.1 162.1h0M565.3 164.9h0M551.5 158.6h0M556.2 164.8h0M558.4 159.0h0M557.2 153.9h0M560.7 151.8h0M577.2 157.5h0M567.7 152.5h0M555.7 160.6h0M557.7 167.1h0M562.5 154.1h0M565.5 160.9h0M553.6 163.8h0M571.2 149.9h0M564.7 162.6h0M571.7 151.8h0M559.6 144.2h0M564.0 157.9h0M557.7 163.0h0M557.9 163.6h0M572.6 156.0h0M561.3 158.4h0M554.8 158.1h0M565.6 159.4h0M567.7 159.7h0M560.2 167.1h0M563.4 152.7h0M555.8 155.7h0M570.5 148.3h0M563.1 156.1h0M567.0 163.4h0M556.7 157.1h0M555.7 158.6h0M563.9 162.5h0M566.4 145.8h0M568.7 162.2h0M548.9 168.1h0M566.9 149.3h0M558.7 163.3h0M568.9 157.5h0M550.3 156.2h0M569.8 147.2h0M564.2 160.3h0M549.8 162.6h0M552.3 163.8h0M548.1 166.4h0M564.6 154.5h0M563.2 155.9h0M566.1 150.1h0M568.6 150.8h0M567.7 149.8h0M559.4 158.2h0M558.5 164.3h0M560.3 160.8h0M558.5 157.2h0M552.4 167.9h0M559.6 163.8h0M555.3 163.0h0M548.8 166.6h0M551.9 169.6h0M554.3 163.6h0M565.3 153.7h0M561.0 160.3h0M569.2 149.1h0M567.1 153.3h0M549.9 166.1h0M569.2 160.4h0M559.4 157.8h0M560.6 159.6h0M560.6 163.0h0M592.3 132.1h0M590.9 129.5h0M598.0 127.7h0M600.8 121.7h0M595.3 128.5h0M586.8 134.8h0M601.6 121.9h0M602.8 123.7h0M603.1 119.2h0M591.7 129.5h0M606.5 118.3h0M604.9 118.2h0M537.6 193.2h0M544.4 191.8h0M529.5 202.6h0M540.4 198.3h0M533.8 192.2h0M525.4 190.5h0M546.9 191.0h0M534.6 188.9h0M530.0 192.0h0M550.2 196.2h0M547.0 191.8h0M554.0 191.0h0M527.8 195.7h0M527.7 194.9h0M549.4 194.4h0M531.0 198.0h0M527.0 192.3h0M531.8 195.0h0M529.6 194.4h0M523.1 193.6h0M553.0 197.7h0M518.7 197.1h0M540.7 197.0h0M540.7 198.6h0M525.8 195.6h0M525.5 188.1h0M530.8 188.0h0M521.9 191.0h0M541.7 193.2h0M525.0 190.9h0M545.0 164.2h0M533.8 157.5h0M532.3 163.3h0M536.2 174.4h0M552.4 164.8h0M535.2 146.6h0M539.9 164.9h0M523.7 165.6h0M540.1 154.0h0M531.9 159.2h0M522.1 198.0h0M528.3 188.5h0M521.4 191.3h0M518.0 192.8h0M518.1 192.3h0M519.4 196.0h0M519.4 195.6h0M516.4 195.0h0M518.4 197.4h0M516.7 196.0h0M514.0 196.6h0M530.2 191.0h0M518.4 198.4h0M524.1 193.8h0M516.3 200.1h0M525.1 196.6h0M525.2 193.8h0M523.8 190.8h0M529.2 187.9h0M525.9 197.1h0M516.3 199.9h0M516.7 191.9h0M525.1 193.9h0M526.0 189.3h0M524.3 200.0h0M527.2 190.1h0M518.1 200.9h0M526.3 188.7h0M517.9 192.5h0M522.3 194.6h0M513.1 196.0h0M521.7 198.6h0M527.5 185.6h0M522.4 197.6h0M523.0 196.5h0M525.6 197.4h0M518.7 194.2h0M523.6 191.6h0M521.4 191.9h0M527.5 191.7h0"/>
</g>
<rect x="499.10" y="147.85" width="136.60" height="1.9" fill="#d3202a"/>
<rect x="544.35" y="72.00" width="1.9" height="149.20" fill="#d3202a"/>
<path fill-rule="evenodd" fill="#000" d="M496.3 69.0H638.5V224.0H496.3ZM499.10 72.00V221.20H635.70V72.00Z"/>
<rect x="650.60" y="148.80" width="46.00" height="71.20" fill="#e8efd3"/>
<g clip-path="url(#c4)" fill="none" stroke-linecap="square" stroke-width="1">
<path stroke="#e6291d" d="M711.8 161.3h0M715.8 160.0h0M705.7 169.0h0M730.9 144.6h0M701.1 174.0h0M709.8 169.2h0M705.5 165.9h0M706.2 166.2h0M724.0 152.5h0M701.1 174.3h0M715.2 161.5h0M701.0 175.1h0M707.4 163.3h0M714.2 162.0h0M717.9 155.1h0M711.4 162.4h0M705.6 167.6h0M709.1 165.2h0M705.3 166.3h0M698.5 176.8h0M703.5 167.8h0M704.7 170.1h0M706.0 172.1h0M705.8 166.2h0M700.9 173.1h0M702.6 172.8h0M713.0 159.8h0M731.5 148.8h0M690.4 179.8h0M692.1 182.2h0M696.2 174.6h0M719.8 160.9h0M707.2 172.1h0M701.4 172.6h0M703.7 174.4h0M701.7 171.3h0M708.9 165.6h0M707.2 166.7h0M693.2 184.2h0M706.6 171.3h0M689.8 183.2h0M701.2 172.6h0M698.5 174.9h0M711.7 159.6h0M700.2 176.5h0M719.1 159.4h0M701.8 174.3h0M718.6 158.5h0M711.9 166.4h0M706.0 170.5h0M696.4 181.0h0M705.2 169.2h0M712.0 166.2h0M715.5 160.4h0M711.7 163.9h0M696.5 177.9h0M708.8 165.7h0M715.2 158.2h0M719.1 157.1h0M706.8 170.6h0M706.5 170.4h0M687.3 182.3h0M725.3 148.0h0M702.2 170.9h0M686.6 186.2h0M700.6 175.2h0M710.4 159.7h0M727.2 148.2h0M709.3 166.6h0M712.3 162.9h0M704.2 170.4h0M726.2 155.3h0M715.0 157.6h0M715.9 159.6h0M705.8 171.0h0M704.1 172.7h0M713.0 165.3h0M700.5 174.5h0M696.9 176.8h0M709.4 167.2h0M726.9 145.5h0M715.6 163.9h0M711.1 162.8h0M703.6 172.3h0M692.2 179.5h0M712.4 162.8h0M717.9 160.9h0M694.3 178.3h0M705.2 171.5h0M706.5 166.2h0M702.2 173.1h0M699.5 175.7h0M703.9 169.4h0M696.1 178.6h0M702.8 173.0h0M687.7 181.0h0M700.9 171.9h0M693.4 178.1h0M722.4 154.3h0M718.6 159.5h0M706.3 170.2h0M728.1 152.1h0M719.8 158.0h0M715.5 156.8h0M696.9 177.9h0M702.2 171.0h0M718.5 159.9h0M693.8 182.8h0M702.8 172.7h0M697.4 178.2h0M705.8 170.6h0M699.2 170.0h0M696.5 177.5h0M683.8 190.1h0M692.5 185.4h0M703.0 171.9h0M706.1 174.5h0M696.0 177.1h0M706.5 166.2h0M708.4 168.0h0M718.7 154.9h0M697.6 178.3h0M705.7 172.3h0M696.3 177.3h0M732.6 144.8h0M706.3 172.1h0M710.6 165.8h0M707.1 172.0h0M709.1 162.7h0M694.5 182.6h0M708.5 165.1h0M711.5 169.0h0M693.8 177.2h0M691.1 183.5h0M694.2 180.5h0M705.7 171.5h0M698.7 174.8h0M718.4 161.0h0M696.7 177.0h0M689.6 181.2h0M719.2 156.0h0M702.9 172.5h0M708.9 165.0h0M707.2 166.8h0M703.7 171.6h0M686.4 187.4h0M697.7 175.6h0M696.4 176.6h0M709.5 166.6h0M695.7 178.9h0M713.4 163.2h0M719.6 162.6h0M677.4 193.1h0M705.8 170.9h0M690.5 186.2h0M712.7 160.2h0M700.0 178.9h0M717.1 155.9h0M704.1 171.2h0M712.4 161.7h0M700.3 171.8h0M693.6 184.5h0M700.8 169.3h0M704.0 166.4h0M722.5 152.6h0M712.4 166.6h0M698.6 177.1h0M712.4 163.1h0M710.5 170.9h0M709.7 164.5h0M699.9 169.4h0M707.8 168.5h0M710.8 161.9h0M707.1 170.7h0M704.6 169.3h0M703.1 172.6h0M725.4 151.6h0M706.7 168.6h0M680.0 191.4h0M711.3 161.1h0M704.0 167.9h0M715.4 160.7h0M703.3 168.8h0M712.1 164.0h0M703.4 173.7h0M705.0 172.2h0M711.8 166.0h0M710.2 167.6h0M705.4 166.4h0M715.3 163.5h0M698.5 176.6h0M700.5 176.4h0M721.9 155.7h0M695.6 178.5h0M702.9 173.1h0M698.7 174.5h0M708.6 170.2h0M692.7 184.3h0M711.5 164.7h0M712.9 156.5h0M696.5 176.3h0M705.2 166.6h0M713.3 168.6h0M706.8 168.9h0M692.4 180.7h0M712.9 158.5h0M722.3 155.5h0M723.2 154.8h0M702.4 177.5h0M698.2 172.7h0M687.6 184.1h0M705.5 167.8h0M713.5 165.5h0M700.9 172.9h0M699.6 171.1h0M719.4 158.0h0M706.6 167.2h0M708.9 160.1h0M702.0 173.3h0M689.1 181.2h0M704.3 165.5h0M702.8 172.6h0M698.1 178.2h0M706.2 161.2h0M715.5 160.8h0M707.8 166.4h0M703.1 169.8h0M701.3 172.8h0M695.4 178.2h0M719.8 155.4h0M714.1 162.2h0M701.5 174.2h0M696.4 179.1h0M701.4 173.7h0M711.5 164.4h0M709.4 161.4h0M701.1 175.3h0M715.7 163.2h0M701.4 177.0h0M698.0 178.6h0M706.7 170.2h0M699.1 177.0h0M695.8 180.0h0M708.3 169.0h0M713.8 163.3h0M697.3 181.9h0M709.4 171.7h0M705.5 167.9h0M696.9 175.9h0M710.6 162.4h0M713.9 164.0h0M706.1 171.6h0M685.7 183.5h0M688.0 181.3h0M692.6 183.2h0M712.0 163.3h0M683.9 190.0h0M717.4 156.7h0M704.9 166.8h0M707.2 171.5h0M711.9 160.3h0M698.7 175.6h0M703.6 163.0h0M697.0 175.4h0M701.8 172.5h0M703.8 172.0h0M709.7 168.2h0M724.0 149.4h0M697.6 175.7h0M707.1 166.5h0M699.0 175.6h0M710.7 168.4h0M695.3 177.4h0M713.9 168.8h0M700.9 171.0h0M703.4 173.0h0M692.2 177.4h0M728.0 151.2h0M704.5 175.6h0M706.2 175.6h0M702.8 170.2h0M722.2 155.2h0M711.1 164.4h0M712.5 160.7h0M721.9 154.5h0M704.5 171.1h0M700.5 174.4h0M700.1 178.0h0M701.0 171.9h0M700.6 174.6h0M703.2 173.2h0M693.3 178.2h0M712.4 166.4h0M705.9 166.5h0M707.4 168.8h0M716.9 157.5h0M707.6 167.8h0M713.5 166.5h0M708.6 168.4h0M718.5 157.0h0M709.1 167.1h0M720.0 154.9h0M719.5 162.6h0M715.3 156.0h0M710.8 165.9h0M728.5 149.3h0M721.7 158.0h0M699.3 179.3h0M718.4 158.8h0M690.8 182.1h0M702.9 171.1h0M714.1 162.3h0M723.7 154.6h0M711.3 165.0h0M711.1 165.0h0M705.8 173.7h0M709.9 164.8h0M714.1 163.6h0M718.0 160.5h0M712.1 163.5h0M704.5 169.1h0M709.8 170.3h0M710.4 166.8h0M706.9 169.1h0M702.7 168.1h0M708.0 160.8h0M692.3 176.3h0M714.2 161.5h0M716.5 162.4h0M703.1 167.5h0M696.4 182.0h0M691.5 184.6h0M708.0 169.6h0M702.1 172.8h0M713.7 164.0h0M694.3 178.2h0M709.6 165.6h0M712.4 162.4h0M703.9 167.4h0M702.5 172.1h0M693.3 180.6h0M700.0 175.3h0M698.6 173.6h0M718.4 161.8h0M717.3 160.5h0M690.7 181.9h0M711.3 165.0h0M711.3 162.9h0M698.2 171.9h0M700.5 177.3h0M693.7 178.0h0M721.2 159.1h0M702.5 175.0h0M711.3 163.8h0M705.1 168.5h0M721.0 149.6h0M710.2 167.1h0M695.9 176.5h0M703.7 170.3h0M699.5 171.9h0M702.3 171.0h0M693.6 185.2h0M696.3 178.6h0M698.9 171.5h0M710.7 164.8h0M705.2 168.7h0M703.8 172.6h0M706.5 168.8h0M710.5 161.3h0M713.5 160.2h0M698.4 173.8h0M711.4 161.0h0M720.6 152.4h0M713.9 159.2h0M700.0 170.5h0M694.4 175.6h0M707.4 166.9h0M719.9 156.8h0M715.3 164.5h0M698.7 174.2h0M698.2 174.1h0M702.2 173.2h0M719.4 157.4h0M706.6 167.2h0M696.7 175.4h0M718.5 160.7h0M697.2 180.1h0M714.2 155.7h0M700.1 176.3h0M712.1 165.5h0M708.2 164.3h0M706.8 165.8h0M720.2 159.5h0M697.9 171.7h0M708.5 164.0h0M696.6 177.4h0M717.7 158.1h0M699.2 172.0h0M696.6 173.7h0M701.9 178.6h0M697.5 181.4h0M699.4 177.2h0M718.3 157.4h0M692.6 178.6h0M707.4 165.8h0M713.2 164.1h0M719.4 150.9h0M689.0 177.5h0M704.1 172.0h0M702.4 168.6h0M704.1 173.1h0M700.3 174.3h0M697.3 175.2h0M712.5 161.5h0M701.3 173.6h0M708.8 169.2h0M723.3 154.9h0M697.5 174.1h0M707.4 165.9h0M704.4 173.8h0M711.1 169.4h0M700.8 172.7h0M700.9 170.9h0M713.0 166.5h0M704.1 170.1h0M694.7 179.1h0M702.6 178.6h0M702.1 171.3h0M696.8 177.6h0M704.5 170.6h0M719.4 158.0h0M697.5 174.7h0M685.9 188.0h0M695.1 180.5h0M685.6 185.5h0M706.7 167.1h0M713.5 162.6h0M704.6 169.1h0M701.8 174.0h0M711.8 159.8h0M712.7 162.8h0M721.5 157.5h0M707.9 166.7h0M709.2 163.7h0M703.8 170.5h0M713.4 162.9h0M695.3 177.0h0M692.7 183.0h0M688.2 183.7h0M693.1 177.2h0M726.5 151.7h0M708.8 168.7h0M713.8 166.8h0M689.4 181.4h0M684.9 188.3h0M716.9 157.5h0M716.6 160.7h0M701.1 172.3h0M706.0 170.8h0M711.3 163.6h0M705.6 169.7h0M704.4 170.8h0M695.9 175.0h0M720.7 158.8h0M708.9 169.0h0M718.7 157.4h0M699.1 175.7h0M700.6 174.8h0M707.7 162.2h0M716.8 158.8h0M713.3 157.4h0M701.6 173.7h0M715.9 164.1h0M723.7 153.0h0M692.9 178.6h0M714.9 159.5h0M712.4 163.0h0M702.9 173.2h0M709.9 167.1h0M704.2 168.2h0M708.1 163.1h0M707.9 166.7h0M687.8 187.3h0M729.4 145.5h0M692.6 179.4h0M719.2 162.5h0M706.2 166.0h0M713.7 158.8h0M700.6 173.4h0M721.5 156.6h0M722.3 148.5h0M709.4 166.7h0M707.5 170.6h0M711.4 167.0h0M712.4 164.1h0M706.9 164.1h0M690.1 183.1h0M699.2 169.0h0M701.0 175.3h0M728.0 151.8h0M690.3 181.1h0M700.7 174.9h0M711.6 169.2h0M713.6 162.0h0M696.5 179.7h0M696.4 177.4h0M703.6 173.2h0M701.8 171.0h0M710.7 161.0h0M708.3 166.6h0M717.4 156.9h0M707.0 168.7h0M699.9 172.7h0M702.0 173.0h0M697.2 175.4h0M695.8 175.6h0M696.1 173.8h0M710.8 165.0h0M704.4 173.4h0M710.5 165.3h0M689.3 183.4h0M695.3 175.3h0M705.0 173.2h0M715.5 163.7h0M706.1 166.0h0M710.6 167.4h0M691.6 179.5h0M698.1 174.4h0M692.8 180.8h0M717.6 161.9h0M723.6 150.0h0M711.3 166.4h0M698.2 175.3h0M705.9 166.6h0M705.2 165.9h0M699.5 172.8h0M705.2 172.9h0M695.0 180.5h0M723.8 152.0h0M706.0 166.1h0M698.1 172.9h0M695.6 176.0h0M725.2 152.4h0M706.6 168.5h0M699.6 173.3h0M701.8 171.4h0M712.2 162.1h0M703.6 168.8h0M694.9 178.6h0M732.5 144.6h0M707.4 170.5h0M700.8 169.5h0M699.3 177.0h0M694.7 184.6h0M696.1 181.4h0M703.4 170.3h0M712.3 160.9h0M692.6 180.3h0M702.5 171.7h0M715.3 160.8h0M691.7 180.4h0M681.4 189.1h0M690.4 182.2h0M722.3 157.3h0M693.9 178.4h0M725.9 148.5h0M712.9 160.8h0M714.5 163.3h0M696.4 181.8h0M696.4 182.9h0M715.8 162.0h0M703.7 172.4h0M691.1 181.4h0M701.8 174.8h0M699.0 174.7h0M707.1 170.4h0M726.8 148.6h0M728.3 150.3h0M718.5 154.1h0M712.4 166.9h0M704.9 167.8h0M706.0 168.1h0M700.9 173.4h0M709.0 165.5h0M704.6 176.3h0M689.8 184.6h0M728.6 152.8h0M706.6 168.7h0M687.5 184.4h0M702.3 174.3h0M689.7 182.2h0M712.5 161.5h0M721.7 158.9h0M713.2 159.7h0M704.7 167.8h0M708.2 165.2h0M715.0 162.6h0M709.0 163.5h0M703.7 174.1h0M707.1 165.7h0M709.0 169.1h0M709.9 166.9h0M701.8 174.5h0M705.8 166.0h0M708.3 162.7h0M710.3 162.4h0M691.0 188.1h0M703.8 171.3h0M711.1 163.4h0M683.9 191.6h0M692.2 181.5h0M715.0 157.6h0M695.9 174.9h0M697.4 177.7h0M715.4 159.4h0M707.2 169.6h0M716.9 156.4h0M710.9 169.8h0M695.7 174.8h0M701.9 174.7h0M678.4 191.5h0M700.4 177.9h0M715.2 163.0h0M708.7 168.4h0M722.5 151.8h0M697.2 178.9h0M706.7 169.8h0M702.6 170.5h0M711.3 165.2h0M709.4 166.0h0M694.1 178.7h0M720.8 152.1h0M709.8 165.9h0M706.4 168.4h0M709.1 168.1h0M699.7 178.1h0M716.5 159.3h0M720.9 152.1h0M695.1 182.3h0M717.3 160.7h0M727.9 149.5h0M703.8 170.8h0M725.9 148.6h0M700.6 173.1h0M701.1 170.6h0M704.9 170.3h0M704.6 168.5h0M696.7 174.7h0M712.8 163.0h0M698.3 174.0h0M696.1 180.6h0M710.5 162.3h0M700.0 175.2h0M714.4 160.0h0M720.5 156.5h0M710.1 165.3h0M719.2 158.3h0M706.1 167.8h0M712.7 165.2h0M691.5 179.6h0M700.4 174.9h0M716.9 164.5h0M697.8 171.9h0M697.5 172.6h0M702.9 177.2h0M710.4 169.0h0M700.1 176.0h0M694.6 180.5h0M710.0 162.6h0M713.2 162.4h0M705.0 167.9h0M696.0 175.8h0M714.2 158.4h0M695.3 176.3h0M682.4 191.7h0M688.7 188.7h0M710.1 164.9h0M725.9 152.6h0M712.8 162.1h0M704.0 168.5h0M686.3 187.8h0M711.5 164.6h0M712.4 162.7h0M703.0 168.3h0M693.1 179.6h0M719.3 157.1h0M720.0 155.7h0M710.3 166.9h0M709.5 164.2h0M683.3 194.1h0M710.1 168.1h0M721.0 153.5h0M708.0 169.7h0M689.7 181.4h0M709.6 165.0h0M699.4 181.1h0M695.5 174.3h0M696.1 180.0h0M711.7 161.8h0M710.2 163.0h0M722.1 155.0h0M711.5 168.0h0M708.7 172.4h0M709.5 164.4h0M699.0 171.0h0M718.9 159.6h0M713.0 159.5h0M707.9 168.6h0M698.7 174.1h0M703.2 170.5h0M707.0 170.7h0M713.6 161.9h0M695.1 182.7h0M709.3 168.6h0M691.4 186.5h0M712.2 167.7h0M707.1 167.0h0M705.8 168.1h0M711.7 163.8h0M694.9 176.4h0M710.3 165.3h0M704.9 168.9h0M720.3 154.6h0M708.0 170.5h0M714.2 161.1h0M702.9 166.7h0M726.1 144.9h0M711.0 165.3h0M705.7 170.4h0M726.3 152.4h0M705.5 166.3h0M716.8 158.4h0M707.8 164.8h0M699.6 173.9h0M705.4 168.9h0M697.1 180.0h0M717.5 155.2h0M711.6 166.0h0M707.7 164.3h0M700.8 175.2h0M697.0 174.0h0M696.8 179.4h0M706.9 168.0h0M704.6 171.9h0M693.8 178.0h0M713.2 163.7h0M697.0 173.6h0M710.3 163.7h0M717.1 162.9h0M695.1 181.6h0M699.3 173.7h0M708.8 167.0h0M703.6 170.6h0M692.8 180.8h0M705.7 171.8h0M713.1 162.6h0M713.6 164.1h0M700.5 174.7h0M711.2 164.3h0M713.9 161.7h0M700.9 170.8h0M695.5 176.4h0M696.6 180.7h0M706.8 167.2h0M715.9 159.0h0M694.0 176.9h0M701.2 177.3h0M700.1 172.1h0M696.4 178.5h0M707.1 166.4h0M698.9 174.6h0M712.5 163.1h0M716.4 161.4h0M710.7 164.0h0M712.5 170.0h0M689.3 178.2h0M689.6 182.3h0M689.6 182.5h0M723.6 153.7h0M698.4 176.8h0M713.7 158.8h0M704.2 168.9h0M705.1 164.9h0M693.6 183.1h0M699.5 176.3h0M685.6 190.9h0M707.4 167.5h0M706.1 174.9h0M709.0 168.2h0M702.9 174.5h0M704.9 169.3h0M697.0 181.4h0M720.4 153.2h0M702.5 174.2h0M706.5 167.5h0M681.9 188.2h0M689.1 185.9h0M692.3 179.3h0M714.7 163.2h0M720.2 154.1h0M722.2 154.6h0M710.5 167.3h0M713.2 157.0h0M684.1 185.6h0M721.6 155.8h0M706.4 167.6h0M695.6 178.8h0M715.8 156.2h0M706.7 166.2h0M708.7 163.6h0M699.6 173.4h0M713.7 162.2h0M695.0 177.6h0M705.7 169.1h0M722.2 157.2h0M697.0 175.2h0M718.0 160.7h0M678.7 194.5h0M706.1 168.3h0M705.3 167.2h0M704.0 172.3h0M703.5 165.6h0M703.1 171.6h0M713.0 158.6h0M690.7 179.3h0M694.3 178.4h0M712.7 165.5h0M696.2 180.8h0M719.1 161.3h0M713.8 160.0h0M686.4 185.0h0M710.1 165.9h0M703.5 169.0h0M706.0 170.4h0M710.3 166.5h0M706.5 170.9h0M701.7 172.3h0M698.1 179.8h0M708.1 167.8h0M709.2 169.6h0M722.0 153.5h0M716.6 158.0h0M712.9 163.2h0M706.5 169.1h0M698.5 176.7h0M705.6 172.4h0M691.4 183.9h0M697.7 180.6h0M711.8 164.5h0M699.1 175.3h0M703.0 171.6h0M706.4 170.9h0M715.0 165.1h0M694.0 179.7h0M703.2 173.2h0M702.1 170.6h0M695.3 176.9h0M713.5 162.4h0M701.3 178.4h0M693.3 179.6h0M718.1 160.3h0M698.1 179.5h0M711.2 167.0h0M720.9 157.6h0M715.1 159.9h0M721.4 159.5h0M701.1 171.4h0M714.2 160.5h0M697.9 173.1h0M706.5 171.2h0M718.1 159.9h0M719.8 159.8h0M700.6 176.5h0M695.6 175.8h0M712.4 165.1h0M687.8 181.9h0M703.1 171.2h0M710.6 163.5h0M704.1 170.4h0M708.5 165.4h0M701.9 173.2h0M705.3 166.0h0M721.3 152.3h0M707.9 165.6h0M709.1 169.0h0M692.2 178.7h0M714.6 163.6h0M694.4 179.7h0M707.5 169.8h0M709.5 169.2h0M702.0 174.1h0M715.2 157.2h0M694.5 179.3h0M690.6 182.6h0M713.2 163.9h0M710.9 163.4h0M715.4 162.4h0M718.9 158.6h0M693.2 178.8h0M708.5 167.3h0M700.3 174.7h0M714.5 162.5h0M694.2 179.9h0M711.3 169.0h0M690.0 187.4h0M693.2 175.5h0M702.3 172.5h0M707.5 165.0h0M698.6 176.1h0M694.1 179.3h0M724.4 151.6h0M698.5 176.9h0M716.5 157.7h0M708.8 161.4h0M704.7 168.8h0M703.6 172.2h0M697.2 178.1h0M708.5 166.7h0M707.6 169.7h0M701.3 177.3h0M712.0 163.9h0M701.7 171.4h0M716.5 156.5h0M705.5 169.2h0M705.1 176.4h0M711.2 162.3h0M713.4 161.1h0M707.0 169.5h0M700.2 175.2h0M692.0 179.6h0M709.6 167.7h0M698.8 180.0h0M702.9 170.0h0M722.5 156.8h0M690.3 181.2h0M713.3 162.5h0M722.5 157.4h0M717.2 159.2h0M707.3 166.1h0M700.5 169.3h0M696.1 182.1h0M695.5 172.9h0M705.8 168.4h0M717.9 159.0h0M724.1 149.4h0M690.2 185.7h0M714.5 167.8h0M714.6 161.7h0M701.1 176.3h0M710.9 164.2h0M702.7 174.2h0M719.4 155.4h0M712.7 164.0h0M713.1 160.9h0M706.3 167.8h0M694.0 178.7h0M693.2 181.0h0M704.2 173.9h0M691.6 180.1h0M710.5 169.3h0M717.9 162.4h0M698.1 174.9h0M708.6 171.2h0M702.5 173.6h0M707.9 169.1h0M699.5 174.0h0M709.7 168.0h0M711.0 168.7h0M699.2 173.0h0M711.0 165.6h0M698.8 172.9h0M717.1 155.5h0M697.5 176.4h0M715.3 158.1h0M709.5 165.7h0M724.0 155.4h0M713.6 161.5h0M707.9 163.5h0M688.8 182.5h0M696.8 176.3h0M713.4 164.8h0M720.1 155.2h0M699.0 173.1h0M697.6 181.1h0M706.1 168.4h0M701.7 172.5h0M725.4 148.9h0M713.8 158.8h0M705.5 174.6h0M705.1 166.3h0M709.9 163.5h0M700.7 173.7h0M705.9 168.9h0M707.4 165.3h0M706.6 168.6h0M718.3 157.9h0M707.0 171.7h0M707.2 168.4h0M718.3 157.4h0M705.2 171.2h0M703.8 169.4h0M696.9 177.2h0M690.4 182.0h0M695.5 179.3h0M708.8 165.4h0M698.1 172.9h0M706.4 169.9h0M702.0 176.3h0M702.4 176.1h0M706.9 174.1h0M714.6 163.6h0M714.4 159.9h0M711.0 167.8h0M702.8 176.0h0M705.8 171.7h0M713.7 161.2h0M696.5 180.7h0M723.5 155.0h0M722.8 152.2h0M714.0 162.9h0M713.5 162.1h0M725.9 150.6h0M709.1 169.5h0M695.5 175.6h0M701.2 174.4h0M706.5 170.0h0M722.2 153.6h0M696.0 181.9h0M727.0 150.2h0M722.5 154.0h0M704.6 167.1h0M707.4 165.3h0M703.0 177.5h0M713.1 167.4h0M695.5 179.4h0M689.0 182.3h0M706.9 167.3h0M708.0 168.1h0M698.3 175.8h0M716.2 157.8h0M694.1 183.2h0M694.2 174.5h0M695.0 174.8h0M684.7 187.1h0M702.8 166.1h0M706.2 168.2h0M694.1 178.8h0M705.1 171.8h0M702.9 170.1h0M710.5 165.7h0M704.4 167.8h0M704.5 171.9h0M705.8 169.2h0M702.1 171.7h0M694.4 175.5h0M700.6 172.6h0M720.7 156.3h0M715.5 158.0h0M701.0 168.8h0M702.3 171.1h0M704.9 171.7h0M711.9 160.8h0M699.4 178.6h0M718.0 160.4h0M700.4 173.6h0M711.8 163.6h0M706.7 173.0h0M724.0 148.2h0M709.4 168.6h0M703.5 171.5h0M699.4 169.9h0M708.6 169.6h0M689.9 180.4h0M694.6 175.6h0M721.0 154.5h0M702.7 170.6h0M705.9 169.6h0M706.4 167.5h0M704.8 169.3h0M717.7 165.3h0M698.7 179.2h0M717.2 154.8h0M708.6 164.6h0M704.6 167.3h0M712.3 162.6h0M685.6 185.7h0M728.5 149.0h0M704.6 168.7h0M706.2 167.7h0M710.1 171.8h0M694.6 179.6h0M708.3 162.7h0M707.7 166.2h0M719.0 157.3h0M696.0 171.9h0M712.9 164.4h0M713.9 160.9h0M707.1 170.2h0M702.8 167.2h0M694.5 183.9h0M700.8 166.3h0M699.1 176.2h0M705.4 177.9h0M705.6 167.0h0M710.4 167.0h0M708.1 159.4h0M702.0 172.4h0M718.5 160.5h0M715.4 162.1h0M717.9 159.0h0M702.6 175.8h0M692.7 182.1h0M699.4 176.8h0M707.0 165.8h0M704.5 173.0h0M713.9 164.0h0M707.9 169.4h0M703.8 172.8h0M709.8 167.5h0M698.7 174.1h0M700.2 173.3h0M716.4 163.8h0M710.0 171.9h0M706.5 168.8h0M716.4 158.8h0M693.6 176.7h0M706.7 168.9h0M705.5 172.2h0M700.8 169.7h0M705.7 167.8h0M700.6 170.4h0M708.6 161.5h0M704.2 169.7h0M693.4 176.8h0M702.2 177.0h0M696.4 172.9h0M712.2 160.8h0M713.4 167.3h0M714.8 166.2h0M704.9 164.3h0M705.0 171.5h0M701.2 178.6h0M697.8 176.0h0M709.6 163.2h0M692.6 179.5h0M708.4 176.1h0M697.4 178.6h0M709.6 165.6h0M691.0 182.2h0M705.7 169.3h0M707.2 170.1h0M701.6 174.5h0M711.4 160.4h0M709.2 167.5h0M701.9 166.5h0M701.6 168.7h0M712.5 161.6h0M709.3 166.4h0M696.2 168.9h0M692.5 182.5h0M699.9 181.7h0M701.7 172.8h0M702.2 169.7h0M699.7 177.2h0M704.1 172.6h0M703.1 174.9h0M694.5 180.2h0M708.2 172.7h0M707.4 171.4h0M714.0 168.9h0M707.2 174.9h0M700.3 175.7h0M712.0 174.3h0M701.6 170.9h0M712.0 167.5h0M701.0 171.2h0M709.8 167.6h0M701.6 170.1h0M700.5 173.2h0M704.9 166.4h0M709.6 171.2h0M709.4 163.4h0M704.3 169.1h0M712.6 165.4h0M712.0 163.4h0M705.5 170.5h0M708.0 170.5h0M708.4 170.2h0M711.2 165.0h0M710.2 166.2h0M704.2 171.8h0M708.1 168.0h0M705.7 166.6h0M713.6 164.9h0M703.9 169.5h0M702.4 168.9h0M705.6 170.6h0M710.2 166.1h0M705.1 172.1h0M713.5 166.8h0M709.2 168.9h0M703.9 170.7h0M711.0 163.7h0M713.3 167.7h0M705.7 161.7h0M709.5 168.2h0M703.1 174.3h0M706.9 170.0h0M700.4 175.5h0M705.2 167.5h0M712.5 167.5h0M706.0 173.7h0M690.1 182.7h0M708.4 170.7h0M706.4 170.8h0M710.8 163.0h0M710.5 161.3h0M700.9 172.7h0M699.8 175.0h0M701.3 170.3h0M703.6 166.1h0M707.2 168.1h0M700.4 168.4h0M706.2 172.7h0M703.9 174.9h0M704.0 174.9h0M695.4 180.2h0M709.8 160.6h0M705.8 172.4h0M704.2 172.6h0M707.2 173.7h0M706.5 171.0h0M707.1 164.4h0M704.4 171.2h0M709.7 170.6h0M700.8 179.1h0M695.5 182.6h0M704.0 179.6h0M707.7 165.5h0M712.6 166.2h0M708.5 165.9h0M701.0 177.4h0M704.2 163.3h0M712.6 169.1h0M701.7 183.0h0M705.1 170.6h0M699.4 167.7h0M704.2 167.6h0M707.4 166.1h0M718.8 157.4h0M708.2 168.5h0M698.9 179.2h0M696.3 175.1h0M711.3 160.8h0M702.6 171.5h0M712.7 170.2h0M704.8 170.3h0M699.8 176.1h0M710.0 170.4h0M707.5 164.7h0M702.3 174.7h0M698.0 174.2h0M705.0 170.2h0M707.8 173.8h0M696.1 173.6h0M702.9 175.9h0M704.7 173.4h0M701.7 169.9h0M702.8 179.0h0M710.2 167.8h0M707.0 169.1h0M715.6 166.4h0M704.7 175.1h0M707.0 169.0h0M701.6 171.0h0M699.3 173.8h0M700.1 173.9h0M704.0 173.3h0M702.9 166.0h0M713.6 165.9h0M704.0 170.7h0M718.9 167.0h0M701.4 170.8h0M706.4 171.7h0M701.5 174.2h0M707.8 168.3h0M700.6 162.8h0M710.2 162.9h0M703.7 172.1h0M701.2 175.1h0M714.3 165.0h0M708.6 175.5h0M708.6 170.3h0M699.9 175.2h0M705.1 168.6h0M704.2 170.7h0M709.8 172.5h0M702.6 172.7h0M698.8 177.7h0M697.0 174.5h0M712.8 165.3h0M701.3 169.0h0M706.8 169.2h0M701.9 170.0h0M697.0 175.5h0M707.6 168.7h0M698.5 177.0h0M713.6 166.1h0M708.4 168.3h0M701.0 174.6h0M706.7 159.2h0M715.9 164.6h0M697.3 176.2h0M699.2 174.4h0M712.2 163.9h0M708.8 169.0h0M704.0 177.2h0M704.9 173.8h0M712.0 166.3h0M703.2 177.0h0M701.9 171.3h0M707.1 172.8h0M711.0 169.7h0M699.7 171.2h0M705.7 174.4h0M697.5 175.3h0M707.7 175.2h0M707.6 165.7h0M697.5 172.7h0M700.6 177.0h0M711.1 165.9h0M691.4 178.8h0M694.8 174.9h0M696.6 174.7h0M686.9 180.4h0M710.3 161.1h0M705.9 170.9h0M697.2 174.6h0M706.2 167.8h0M714.6 165.5h0M711.0 166.5h0M706.5 165.9h0M702.3 175.0h0M707.2 168.9h0M696.4 177.5h0M699.1 173.6h0M701.0 171.9h0M709.9 171.4h0M718.0 162.9h0M709.4 169.3h0M721.8 164.6h0M701.5 173.7h0M708.8 162.0h0M697.3 176.4h0M698.3 174.0h0M703.2 175.4h0M692.4 179.9h0M700.0 168.7h0M708.3 171.7h0M701.1 173.6h0M704.3 175.9h0M695.1 183.4h0M706.0 167.3h0M706.1 170.7h0M705.0 174.3h0M700.2 175.1h0M702.9 165.7h0M707.8 168.0h0M715.6 170.6h0M701.8 176.7h0M697.0 179.2h0M706.0 178.1h0M703.5 172.6h0M705.5 177.7h0M706.3 170.2h0M708.8 171.6h0M709.6 166.5h0M703.9 172.1h0M702.4 175.9h0M698.6 170.6h0M695.5 176.8h0M704.8 176.1h0M709.7 169.7h0M702.0 171.9h0M701.0 173.6h0M698.7 177.3h0M700.3 173.1h0M704.7 170.3h0M704.4 171.8h0M707.6 169.4h0M699.4 174.9h0M707.2 172.3h0M718.0 161.4h0M712.9 163.5h0M699.1 173.7h0M700.5 177.0h0M703.4 170.4h0M710.5 165.4h0M698.2 171.0h0M708.1 168.6h0M707.6 171.2h0M705.6 161.1h0M710.0 170.8h0M707.7 170.8h0M707.7 169.4h0M708.0 160.2h0M703.5 172.6h0M712.2 162.9h0M698.2 177.6h0M701.1 175.4h0M713.0 174.3h0M708.2 170.4h0M709.2 164.7h0M704.2 173.9h0M704.5 176.1h0M697.0 173.9h0M703.5 177.7h0M708.9 168.2h0M707.5 173.0h0M703.8 175.0h0M704.1 169.2h0M705.5 168.1h0M708.6 165.0h0M710.5 170.9h0M704.4 168.2h0M700.7 173.4h0M687.3 182.5h0M701.3 170.1h0M697.5 180.0h0M701.7 177.6h0M707.9 169.6h0M707.8 169.8h0M705.3 166.6h0M701.8 176.0h0M703.1 179.1h0M705.3 167.3h0M706.9 171.2h0M706.3 176.7h0M713.3 170.9h0M703.5 175.2h0M703.8 167.3h0M697.4 174.2h0M700.2 176.9h0M690.6 179.7h0M700.8 170.6h0M704.3 170.2h0M706.6 178.6h0M703.8 165.0h0M705.6 171.4h0M703.1 175.1h0M698.8 172.3h0M702.4 166.9h0M711.2 166.1h0M710.0 163.4h0M708.9 173.1h0M709.3 167.1h0M700.7 170.4h0M704.8 170.2h0M704.5 176.7h0M705.2 178.6h0M715.5 155.3h0M702.8 171.6h0M698.9 175.6h0M706.5 172.2h0M700.1 180.2h0M708.4 167.7h0M703.2 176.2h0M697.2 175.8h0M710.9 165.3h0M695.3 181.4h0M696.8 169.9h0M701.8 174.1h0M704.4 177.3h0M715.7 163.3h0M707.8 173.6h0M708.1 171.2h0M707.3 171.5h0M701.5 170.9h0M706.8 169.5h0M703.3 171.5h0M710.0 175.0h0M703.6 175.2h0M703.7 178.2h0M702.5 175.2h0M709.0 165.2h0M702.7 168.6h0M701.3 178.9h0M708.6 168.0h0M695.0 182.7h0M699.4 180.5h0M708.9 165.1h0M701.7 175.4h0M712.1 169.1h0M704.3 161.3h0M702.4 172.9h0M712.0 169.0h0M712.4 158.0h0M711.7 172.6h0M707.6 170.6h0M699.1 176.5h0M713.5 165.7h0M699.6 165.8h0M704.4 171.5h0M705.4 173.5h0M708.9 166.7h0M706.3 164.1h0M699.7 170.9h0M698.5 178.1h0M710.7 170.5h0M709.8 169.0h0M702.9 171.0h0M712.7 167.4h0M715.0 162.5h0M718.4 168.3h0M716.2 157.5h0M706.8 165.3h0M708.4 167.0h0M710.7 164.1h0M700.8 168.6h0M708.6 163.6h0M712.0 169.9h0M706.7 172.7h0M709.3 171.1h0M702.5 172.7h0M712.6 160.4h0M707.1 169.3h0M710.9 168.8h0M707.8 164.6h0M706.3 166.1h0M709.8 165.9h0M706.6 166.3h0M706.6 174.3h0M704.7 167.7h0M708.7 171.5h0M715.6 163.3h0M705.2 172.9h0M694.4 183.3h0M714.1 161.8h0M697.5 175.1h0M699.7 172.1h0M712.3 166.5h0M702.7 175.4h0M709.9 165.4h0M702.0 174.8h0M705.2 169.4h0M710.5 161.1h0M694.7 181.1h0M706.6 167.0h0M698.3 176.9h0M704.0 167.5h0M693.5 179.3h0M689.1 181.3h0M696.5 176.4h0M685.0 183.5h0M687.3 186.0h0M698.4 176.7h0M688.8 184.1h0M697.9 173.6h0M700.1 173.7h0M688.2 180.0h0M702.6 170.6h0M691.2 181.1h0M695.0 179.0h0M699.4 177.5h0M698.0 178.7h0M696.2 176.7h0M700.3 174.8h0M699.1 174.1h0M685.6 183.8h0M700.7 171.5h0M683.1 183.5h0M701.9 172.4h0M699.2 175.6h0M697.8 178.3h0M694.5 179.8h0M703.0 171.7h0M703.9 171.6h0M687.9 185.4h0M694.0 179.0h0M693.8 174.4h0M688.0 181.7h0M689.5 182.4h0M698.2 175.6h0M697.5 175.3h0M691.4 183.1h0M694.0 179.0h0M688.2 185.0h0M700.4 175.5h0M693.0 180.1h0M692.1 179.2h0M685.5 189.1h0M705.2 172.9h0M697.4 176.7h0M694.4 180.3h0M690.0 187.6h0M686.9 189.5h0M685.1 186.3h0M699.2 173.8h0M688.9 187.4h0M700.3 171.6h0M695.4 179.5h0M684.2 185.5h0M686.5 186.6h0M694.6 175.1h0M689.3 184.4h0M694.9 177.9h0M687.8 186.4h0M693.5 181.1h0M700.4 175.3h0M700.9 177.0h0M691.7 179.4h0M687.2 188.7h0M703.9 172.5h0M699.5 172.2h0M701.3 176.8h0M697.3 177.8h0M696.6 176.2h0M697.6 172.5h0M697.7 176.1h0M688.3 182.7h0M695.4 175.4h0M690.8 184.9h0M699.4 175.9h0M701.0 177.3h0M693.0 178.6h0M688.4 180.0h0M689.8 182.5h0M690.4 187.1h0M696.9 173.7h0M704.1 172.0h0M696.2 174.9h0M695.8 179.4h0M699.1 174.0h0M697.9 175.9h0M686.1 186.9h0M701.0 172.3h0M693.0 176.4h0M689.9 181.3h0M689.8 184.4h0M690.3 181.8h0M687.6 186.0h0M702.3 172.9h0M689.3 183.4h0M692.6 177.3h0M695.0 180.5h0M689.1 181.0h0M695.7 176.2h0M687.5 187.6h0M688.0 184.7h0M692.1 182.5h0M703.1 172.8h0M689.7 186.8h0M688.0 182.8h0M703.3 173.8h0M704.2 171.8h0M691.4 183.7h0M696.2 175.5h0M703.1 172.5h0M696.9 175.6h0M690.4 179.9h0M688.3 181.9h0M689.6 184.3h0M704.3 171.8h0M701.2 174.1h0M686.8 186.9h0M697.1 177.2h0M688.4 181.9h0M689.9 183.5h0M686.7 188.9h0M701.6 173.3h0M701.4 171.0h0M701.6 172.5h0M695.4 178.3h0M691.0 183.1h0M698.5 173.0h0M688.9 184.1h0M692.3 182.8h0M692.1 175.7h0M697.8 177.9h0M696.3 176.9h0M686.8 189.6h0M696.8 178.4h0M701.3 173.2h0M689.2 182.7h0M692.6 182.8h0M701.6 171.0h0M686.3 187.1h0M699.3 168.1h0M688.7 183.9h0M688.7 179.9h0M700.0 172.9h0M701.9 175.2h0M695.0 180.0h0M699.4 176.2h0M699.1 177.3h0M683.5 186.5h0M702.6 172.9h0M703.8 171.1h0M700.1 171.3h0M699.5 177.3h0M686.2 187.9h0M688.2 185.1h0M684.2 183.1h0M698.0 176.0h0M694.6 173.5h0M696.6 173.0h0M684.2 184.5h0M690.8 178.8h0M705.4 175.0h0M691.1 183.6h0M690.7 185.2h0M702.8 170.7h0M689.4 180.1h0M693.4 177.1h0M693.6 178.4h0M692.8 181.4h0M700.0 176.0h0M695.7 174.9h0M685.7 183.7h0M700.5 172.6h0M704.1 172.5h0M691.3 181.8h0M701.6 178.7h0M693.4 179.6h0M689.8 182.6h0M695.3 179.6h0M700.7 168.9h0M702.4 174.5h0M695.3 175.9h0M685.6 184.7h0M690.3 179.3h0M687.5 186.8h0M703.7 175.8h0M690.9 184.1h0M694.0 182.9h0M690.5 183.8h0M696.4 176.9h0M704.5 173.0h0M687.0 187.6h0M697.8 179.0h0M696.5 178.8h0M699.0 174.4h0M702.4 173.2h0M696.4 176.3h0M701.5 170.9h0M695.1 178.9h0M699.8 177.2h0M692.8 179.0h0M690.3 183.7h0M690.6 180.7h0M697.4 179.6h0M684.6 187.9h0M698.5 175.9h0M690.6 184.6h0M696.1 175.2h0M698.4 172.8h0M698.8 173.6h0M684.9 185.7h0M687.6 181.4h0M693.6 183.5h0M687.2 181.8h0M692.7 177.9h0M688.6 184.7h0M692.5 182.1h0M700.6 172.6h0M705.5 174.0h0M690.8 184.8h0M682.8 181.3h0M696.8 178.7h0M688.3 181.6h0M687.0 184.1h0M702.2 171.3h0M697.4 177.1h0M693.8 178.8h0M687.1 190.3h0M689.5 182.6h0M684.6 187.1h0M699.8 175.6h0M692.7 182.0h0M692.4 180.2h0M699.5 175.0h0M683.7 186.6h0M687.8 182.7h0M691.1 185.4h0M689.0 182.4h0M686.7 186.2h0M687.4 184.3h0M696.5 174.4h0M685.6 185.5h0M692.8 184.3h0M691.4 181.7h0M691.4 183.3h0M697.0 178.0h0M689.3 183.2h0M683.6 186.8h0M687.0 189.2h0M701.0 174.2h0M695.5 178.8h0M686.2 183.7h0M688.0 182.9h0M701.6 175.2h0M699.1 171.9h0M691.8 184.2h0M695.2 177.3h0M697.0 173.8h0M698.2 176.0h0M701.1 177.9h0M700.6 173.6h0M692.2 183.5h0M699.3 171.9h0M701.2 173.0h0M690.4 180.3h0M690.4 182.5h0M694.0 178.9h0M695.5 177.9h0M691.9 182.6h0M702.5 175.5h0M698.2 176.7h0M691.9 180.4h0M690.5 185.8h0M688.0 186.4h0M699.6 172.4h0M701.1 173.4h0M691.9 184.1h0M696.2 175.3h0M699.3 172.9h0M698.0 176.1h0M687.8 185.0h0M701.9 171.7h0M702.6 171.7h0M698.9 177.4h0M701.9 170.4h0M694.6 179.4h0M687.6 187.3h0M697.4 174.2h0M701.4 174.6h0M698.7 176.9h0M686.7 183.5h0M689.9 182.4h0M685.6 186.1h0M698.9 175.0h0M702.4 174.5h0M697.3 179.3h0M695.9 177.5h0M703.7 172.9h0M700.1 175.6h0M692.2 182.2h0M694.7 182.5h0M699.9 178.0h0M690.0 182.1h0M689.6 184.4h0M690.4 185.0h0M685.0 185.7h0M701.9 172.6h0M699.4 175.6h0M699.2 175.5h0M701.5 172.1h0M685.5 182.5h0M695.9 173.2h0M691.3 180.5h0M696.1 175.7h0M697.4 180.1h0M691.2 180.4h0M698.8 174.8h0M697.1 175.4h0M696.3 179.1h0M696.3 180.2h0M695.3 180.0h0M700.4 171.0h0M689.2 186.8h0M683.0 186.0h0M693.5 181.5h0M702.1 171.4h0M687.0 188.5h0M693.5 174.3h0M693.3 178.2h0M690.3 182.4h0M697.5 174.2h0M686.4 188.1h0M704.7 172.1h0M698.9 175.1h0M695.2 178.8h0M699.9 173.1h0M692.5 178.6h0M684.2 186.1h0M694.4 179.1h0M692.3 179.9h0M695.5 179.6h0M691.3 185.8h0M693.1 179.3h0M699.8 174.1h0M685.6 189.2h0M698.9 178.7h0M699.8 177.4h0M698.9 173.2h0M690.1 186.4h0M691.2 180.9h0M700.0 174.6h0M700.1 178.5h0M688.5 187.1h0M692.2 178.8h0M697.7 171.8h0M685.6 187.7h0M685.5 186.1h0M693.2 178.0h0M689.1 180.8h0M690.6 176.7h0M698.6 173.6h0M695.3 180.0h0M700.6 173.6h0M699.9 175.2h0M702.6 174.2h0M687.5 184.6h0M686.0 186.7h0M692.1 184.3h0M692.5 180.2h0M690.4 180.5h0M687.8 185.4h0M694.4 178.9h0M695.4 180.4h0M696.8 176.2h0M694.9 179.8h0M701.7 170.4h0M697.2 180.8h0M688.1 188.5h0M684.3 185.9h0M697.8 178.8h0M685.0 185.1h0M696.9 174.8h0M695.8 177.7h0M705.1 141.7h0M705.1 138.9h0M719.4 138.8h0M723.8 137.0h0M721.1 139.0h0M729.0 136.0h0M732.2 136.7h0M704.6 140.4h0M715.5 137.9h0M731.5 136.9h0M732.7 138.9h0M730.0 139.3h0M703.7 141.3h0M712.2 141.0h0M717.0 139.7h0M715.5 142.5h0M724.7 135.1h0M718.8 139.0h0M702.4 141.3h0M730.6 133.2h0M723.9 137.0h0M719.2 136.5h0M733.5 137.6h0M719.0 138.7h0M711.4 141.7h0M729.2 135.6h0M714.9 141.1h0M703.9 143.5h0M725.5 136.1h0M712.2 141.6h0M714.4 138.9h0M702.5 140.8h0M722.5 135.7h0M705.0 139.5h0M702.0 142.4h0M701.9 141.1h0M724.1 137.5h0M708.7 141.0h0M713.2 138.3h0M713.0 139.4h0M730.4 134.2h0M711.9 140.9h0M729.6 135.9h0M729.1 136.3h0M703.7 140.3h0M711.4 135.9h0M709.4 141.7h0M724.0 137.0h0M734.6 135.9h0M709.1 141.1h0M702.6 142.3h0M722.2 140.6h0M708.2 140.8h0M711.2 140.5h0M727.5 136.2h0M734.4 136.2h0M706.6 139.7h0M729.8 137.9h0M722.1 138.7h0M728.6 135.1h0M711.5 139.0h0M724.8 137.0h0M715.5 136.3h0M726.9 136.3h0M721.7 138.6h0M703.3 144.8h0M713.8 144.0h0M733.4 137.2h0M731.0 135.9h0M732.6 136.5h0M716.4 137.8h0M723.9 136.7h0M715.7 135.7h0M726.1 140.2h0M711.5 141.1h0M725.7 138.9h0M717.3 139.0h0M716.6 134.2h0M729.6 135.9h0M714.0 140.5h0M728.8 137.1h0M724.8 134.8h0M707.9 140.2h0M716.9 137.5h0M717.2 139.2h0M704.8 139.2h0M719.3 137.5h0M728.0 138.2h0M716.0 137.2h0M713.1 137.7h0M703.8 144.6h0M705.7 140.3h0M723.3 138.4h0M733.6 134.9h0M718.2 136.8h0M713.6 137.0h0M712.2 139.8h0M708.1 140.8h0M720.3 138.7h0M724.3 138.4h0M717.3 140.8h0M706.0 142.9h0M732.7 138.0h0M710.7 138.7h0M718.8 137.7h0M711.8 139.0h0M709.7 140.2h0M706.3 138.8h0M720.4 138.0h0M711.4 138.9h0M732.4 134.7h0M713.2 140.8h0M711.7 141.3h0M729.0 136.3h0M716.6 135.0h0M726.9 136.6h0M703.8 140.9h0M731.7 137.6h0M703.0 141.1h0M708.2 141.3h0M725.6 135.9h0M724.9 137.3h0M707.4 141.4h0M709.9 140.4h0M724.8 139.3h0M718.4 138.3h0M702.4 145.2h0M727.8 134.4h0M701.3 143.2h0M702.4 143.5h0M717.8 138.3h0M702.8 142.7h0M732.5 134.9h0M704.2 139.3h0M732.4 138.4h0M731.5 138.8h0M729.8 137.5h0M730.7 136.1h0M717.9 137.8h0M706.3 143.1h0M722.6 138.2h0M731.3 139.0h0M718.2 140.1h0M726.2 136.8h0M726.0 139.0h0M712.6 141.1h0M724.3 137.9h0M703.9 143.4h0M719.4 138.4h0M704.1 141.6h0M714.3 137.4h0M727.2 137.8h0M731.1 137.1h0M707.5 143.6h0M734.5 134.6h0M728.4 135.9h0M728.1 136.1h0M728.0 139.4h0M702.9 140.7h0M729.6 136.2h0M702.3 139.7h0M708.5 140.9h0M716.3 139.2h0M701.9 141.7h0M733.2 135.3h0M726.8 135.0h0M706.6 142.1h0M733.6 134.7h0M704.1 140.7h0M710.0 140.3h0M721.9 139.6h0M720.5 137.4h0M731.0 137.3h0M728.6 138.4h0M717.7 140.6h0M716.5 139.0h0M718.0 137.9h0M731.1 136.7h0M728.1 136.5h0M718.2 138.0h0M722.9 138.0h0M717.2 139.0h0M730.3 135.8h0M716.4 138.7h0M724.5 139.5h0M718.0 139.4h0M724.6 137.4h0M724.2 137.2h0M719.7 138.6h0M723.4 136.2h0M726.7 136.7h0M716.9 139.5h0M722.1 136.9h0M731.3 136.5h0M719.8 137.6h0M718.2 139.0h0M729.6 135.4h0M716.1 138.8h0M716.7 138.4h0M722.2 138.8h0M730.3 136.4h0M725.4 137.6h0M729.8 135.9h0M723.3 138.4h0M726.3 138.7h0M723.0 138.1h0M719.3 140.0h0M728.5 138.0h0M723.8 139.1h0M725.9 138.2h0M725.2 137.0h0M726.1 139.2h0M731.1 134.8h0M730.1 136.0h0M717.5 138.1h0M722.0 138.5h0M723.5 138.6h0M722.1 139.0h0M726.4 137.9h0M726.2 138.1h0M722.1 137.2h0M726.2 138.5h0M722.5 137.8h0M730.9 136.7h0M721.7 137.3h0M718.5 138.4h0M721.9 136.5h0M729.0 137.6h0M727.9 136.9h0M719.3 139.8h0M717.8 138.8h0M720.3 137.8h0M724.1 140.6h0M717.4 139.2h0M726.0 139.1h0M719.3 138.1h0M728.4 138.3h0M718.7 139.3h0M722.8 137.5h0M722.2 138.6h0M724.3 137.2h0M723.1 136.7h0M729.8 136.6h0M723.2 138.1h0M721.8 137.5h0M718.7 138.3h0M720.0 139.9h0M721.5 139.1h0M722.2 138.8h0M720.2 139.0h0"/>
<path stroke-width="1.15" stroke="#c81c24" d="M726.1 137.2h0M721.2 139.1h0M733.8 135.0h0M727.4 135.3h0M713.3 142.0h0M732.7 134.9h0M710.8 139.5h0M712.4 136.6h0M729.7 136.6h0M711.4 141.0h0M721.0 134.2h0M725.2 140.5h0M721.1 134.5h0M703.3 142.4h0M702.2 142.4h0M706.7 138.7h0M719.5 140.2h0M718.9 137.5h0M726.9 134.7h0M730.6 138.6h0M716.6 142.5h0M729.7 134.9h0M722.2 138.5h0M714.4 141.0h0M725.3 137.1h0M724.1 139.4h0M704.3 138.2h0M726.8 136.3h0M733.4 135.7h0M704.2 143.7h0M731.4 137.9h0M724.7 138.4h0M714.9 136.2h0M706.0 143.0h0M720.4 136.6h0M709.4 140.3h0M707.0 145.2h0M715.7 137.0h0M717.4 135.9h0M708.9 146.2h0M726.9 134.2h0M731.0 137.1h0M708.8 140.3h0M713.8 142.7h0M724.5 139.2h0M721.7 140.3h0M722.0 135.4h0M726.8 137.9h0M701.1 135.5h0M721.5 139.6h0M729.6 141.2h0M727.3 138.4h0M706.9 141.3h0M735.1 138.6h0M724.6 133.5h0M721.1 138.2h0M731.7 133.2h0M724.3 136.0h0M721.6 139.3h0M717.3 138.6h0M724.1 151.1h0M704.9 148.0h0M719.7 149.6h0M723.5 139.9h0M707.7 147.2h0M705.1 144.8h0M701.3 143.8h0M714.0 143.9h0M720.4 144.8h0M722.6 150.6h0M713.4 139.9h0M720.6 145.1h0M717.8 144.9h0M708.9 145.6h0M718.9 145.7h0M732.1 143.0h0M714.4 142.4h0M720.8 145.0h0M718.9 143.8h0M707.8 148.8h0M714.1 144.1h0M710.3 148.3h0M726.4 143.4h0M724.1 144.6h0M735.0 144.7h0M719.5 150.4h0M728.3 146.0h0M713.3 143.4h0M723.1 143.2h0M722.2 145.7h0M736.6 144.3h0M735.3 143.8h0M699.3 146.6h0M714.5 143.3h0M726.5 149.5h0M723.3 140.9h0M730.5 146.7h0M711.4 146.8h0M738.6 141.9h0M728.6 143.0h0M717.2 144.6h0M692.6 155.8h0M724.3 143.0h0M725.6 147.5h0M717.8 143.4h0M714.1 144.9h0M712.2 145.4h0M726.3 139.9h0M709.9 150.4h0M721.3 144.1h0M710.9 140.9h0M728.3 140.6h0M710.8 149.4h0M704.5 143.1h0M715.4 149.0h0M725.0 142.6h0M727.9 144.3h0M720.9 143.2h0M713.5 144.7h0M716.0 151.8h0M719.0 145.2h0M703.1 147.7h0M717.2 144.9h0M708.7 141.4h0M716.0 145.2h0M721.0 142.8h0M715.5 142.8h0M709.2 148.2h0M709.5 151.7h0M721.5 142.4h0M720.5 151.2h0M712.3 146.3h0M713.8 139.8h0M722.1 146.1h0M729.6 142.1h0M716.2 149.1h0M710.4 142.9h0M723.0 142.6h0M713.9 147.8h0M711.4 152.6h0M708.6 146.8h0M709.9 146.7h0M715.4 147.9h0M715.4 148.2h0M728.5 141.0h0M726.7 140.9h0M725.3 146.4h0M722.2 141.2h0M715.5 144.9h0M711.8 144.0h0M717.6 146.2h0M711.1 148.1h0M708.0 139.9h0M721.4 152.7h0M727.0 145.4h0M719.8 148.3h0M723.8 138.7h0M707.8 145.6h0M717.7 145.6h0M718.4 142.1h0M726.0 140.9h0M720.6 143.7h0M717.5 142.5h0M715.7 142.6h0M716.7 146.4h0M709.2 150.4h0M721.7 143.2h0M713.6 144.5h0M713.3 150.1h0M713.3 148.5h0M716.1 144.5h0M727.2 144.2h0M726.0 142.1h0M732.4 140.8h0M734.3 143.6h0M711.0 147.8h0M729.7 144.5h0M717.0 148.5h0M709.7 144.7h0M720.4 147.5h0M717.6 146.7h0M734.9 145.2h0M729.3 147.4h0M719.6 150.2h0M720.5 142.6h0M718.4 145.9h0M723.7 148.5h0M716.8 147.8h0M719.7 146.8h0M729.6 143.2h0M719.1 149.8h0M716.9 145.8h0M717.6 149.2h0M724.3 136.3h0M715.3 146.8h0M717.5 144.7h0M716.9 138.2h0M704.6 146.4h0M722.8 139.3h0M718.4 146.2h0M715.7 147.5h0M726.2 145.4h0M731.7 140.7h0M723.4 143.1h0M726.0 149.5h0M715.0 145.4h0M717.9 143.2h0M716.0 148.0h0M702.9 149.1h0M718.5 148.0h0M666.6 193.6h0M667.0 194.2h0M669.9 190.9h0M669.0 197.8h0M668.9 200.7h0M674.2 192.4h0M678.0 183.8h0M663.3 197.4h0M680.5 191.1h0M662.2 191.9h0M684.8 179.9h0M673.5 190.5h0M675.8 192.2h0M680.4 185.5h0M681.8 189.3h0M686.0 192.0h0M677.2 190.3h0M683.5 185.8h0M664.0 192.9h0M665.9 195.2h0M664.0 198.8h0M677.4 190.7h0M685.7 182.1h0M669.6 200.9h0M670.5 192.8h0M675.3 188.0h0M682.2 186.3h0M681.2 187.8h0M683.3 182.8h0M664.6 196.1h0M677.6 194.3h0M666.5 198.0h0M675.7 184.6h0M669.6 197.4h0M681.8 182.0h0M674.6 187.9h0M680.1 188.3h0M672.7 195.1h0M668.3 199.7h0M668.8 196.1h0M683.5 185.3h0M682.4 191.0h0M676.1 187.5h0M670.4 199.1h0M686.4 189.7h0M691.7 149.0h0M685.3 141.0h0M689.3 142.2h0M686.5 144.9h0M691.8 146.2h0M683.8 146.7h0M688.3 144.9h0M693.5 144.6h0M697.2 143.4h0M685.2 141.2h0M695.8 144.6h0M686.7 143.2h0M694.9 144.6h0M693.3 145.0h0M694.6 144.5h0M698.7 145.1h0M705.2 158.4h0M717.4 160.8h0M709.1 152.3h0M696.0 161.2h0M704.3 150.7h0M704.6 162.0h0M698.4 161.2h0M710.2 156.6h0M705.2 161.2h0M710.7 170.7h0M712.3 160.2h0M710.3 157.7h0M709.6 154.8h0M700.9 162.7h0M708.2 161.2h0M712.0 163.1h0M704.9 159.9h0M703.7 160.6h0M701.5 157.3h0M702.6 158.3h0M711.4 156.3h0M704.8 150.5h0M703.5 160.6h0M699.0 157.0h0M705.1 153.6h0M701.7 159.5h0M706.0 162.1h0M700.4 166.7h0M710.0 162.1h0M703.2 158.7h0M743.5 138.4h0M730.4 131.4h0M736.5 132.7h0M733.8 138.8h0M726.6 134.4h0M714.2 131.9h0M730.1 137.1h0M728.7 132.9h0M734.1 134.5h0M730.4 128.3h0M736.9 135.4h0M731.2 131.3h0M722.2 132.8h0M726.6 131.8h0M727.2 129.4h0M734.1 132.6h0M730.7 134.6h0M726.8 130.3h0M721.2 131.8h0M734.6 136.6h0M700.4 173.5h0M698.1 168.4h0M716.1 169.7h0M712.9 173.7h0M701.6 171.5h0M721.9 166.1h0M705.1 170.8h0M711.4 162.2h0M711.7 168.2h0M702.0 179.6h0M720.3 159.0h0M723.7 165.5h0M708.9 170.6h0M712.4 162.3h0M707.8 160.0h0M701.0 175.0h0M707.7 169.2h0M697.9 170.9h0M711.7 174.3h0M701.5 178.0h0M716.1 155.3h0M697.6 171.6h0M710.8 171.6h0M715.3 169.1h0M721.0 164.4h0M717.1 161.5h0M720.3 163.5h0M715.9 161.2h0M695.7 170.4h0M702.2 169.1h0M705.4 168.5h0M712.9 163.0h0M703.3 176.8h0M704.9 174.7h0M712.1 167.4h0M722.4 163.2h0M721.9 170.1h0M703.4 168.4h0M698.9 169.3h0M701.4 171.9h0M713.2 175.9h0M709.4 175.0h0M709.6 168.8h0M708.6 168.3h0M708.2 172.3h0M713.9 163.9h0M712.5 167.4h0M726.4 165.7h0M711.4 175.4h0M714.7 163.3h0M709.2 170.0h0M715.4 165.7h0M706.8 165.3h0M719.4 162.1h0M706.1 176.5h0M705.1 167.4h0M709.5 171.1h0M705.1 165.9h0M701.4 168.8h0M709.6 171.2h0M747.0 111.0h0M739.0 116.0h0"/>
</g>
<rect x="650.60" y="147.85" width="137.30" height="1.9" fill="#d3202a"/>
<rect x="695.65" y="72.00" width="1.9" height="148.00" fill="#d3202a"/>
<path fill-rule="evenodd" fill="#000" d="M648.0 69.0H790.5V223.0H648.0ZM650.60 72.00V220.00H787.90V72.00Z"/>
<rect x="804.00" y="148.90" width="46.60" height="70.60" fill="#e8efd3"/>
<g clip-path="url(#c5)" fill="none" stroke-linecap="square" stroke-width="1">
<path stroke="#e6291d" d="M863.4 164.3h0M858.2 167.2h0M869.7 160.2h0M870.9 158.6h0M871.7 156.1h0M885.3 149.9h0M871.1 158.7h0M857.6 164.9h0M867.0 160.9h0M869.6 157.6h0M870.8 155.5h0M878.4 152.8h0M875.1 152.7h0M871.2 160.7h0M866.8 162.6h0M864.7 162.3h0M864.9 162.1h0M865.2 166.7h0M861.5 166.1h0M867.9 161.8h0M867.6 160.1h0M865.1 160.7h0M869.9 158.2h0M870.9 158.9h0M866.3 164.0h0M872.1 156.2h0M868.9 160.5h0M872.0 157.0h0M859.5 162.8h0M865.1 164.4h0M867.3 161.7h0M868.7 160.4h0M869.6 159.1h0M878.8 150.5h0M876.1 153.6h0M868.4 159.7h0M889.9 148.6h0M871.3 160.2h0M874.1 154.9h0M875.4 152.8h0M873.7 155.4h0M850.6 171.2h0M876.2 153.7h0M872.5 157.0h0M872.3 158.5h0M867.0 157.6h0M868.3 161.8h0M853.9 170.5h0M872.4 159.0h0M860.9 162.9h0M872.3 154.5h0M878.8 153.8h0M872.7 158.4h0M884.3 150.3h0M868.1 161.9h0M864.8 160.0h0M866.8 160.6h0M867.6 163.3h0M854.2 167.2h0M860.9 165.9h0M884.7 149.6h0M881.0 149.7h0M875.4 155.3h0M848.1 173.3h0M873.6 157.4h0M871.3 156.0h0M877.2 153.5h0M865.0 159.4h0M857.3 168.6h0M870.5 159.0h0M858.3 167.6h0M875.6 151.9h0M875.8 152.3h0M877.6 152.5h0M872.4 154.7h0M877.1 154.6h0M880.6 153.5h0M876.2 154.2h0M869.8 158.7h0M863.4 163.2h0M864.9 161.1h0M874.6 156.5h0M875.1 154.2h0M875.6 154.1h0M873.2 156.2h0M858.3 169.1h0M874.4 158.3h0M881.8 150.5h0M869.9 158.3h0M882.3 147.9h0M865.2 160.6h0M867.6 158.8h0M869.7 159.2h0M862.8 165.0h0M868.3 159.7h0M864.5 164.0h0M884.5 148.5h0M871.0 155.5h0M886.2 147.2h0M875.0 155.1h0M853.6 168.7h0M863.5 162.6h0M889.0 146.4h0M869.0 157.8h0M876.5 153.1h0M858.5 167.0h0M874.2 155.8h0M863.5 163.3h0M872.1 154.1h0M883.0 150.1h0M874.9 154.4h0M859.9 166.0h0M881.9 150.1h0M858.9 167.0h0M875.8 154.9h0M870.6 159.6h0M870.9 160.6h0M865.7 158.7h0M872.4 157.7h0M886.3 145.2h0M869.4 159.8h0M860.5 164.8h0M862.3 167.3h0M860.8 163.5h0M868.7 158.1h0M873.2 156.8h0M879.3 152.8h0M871.5 157.6h0M860.5 164.7h0M860.4 165.4h0M878.7 153.7h0M883.2 149.5h0M869.1 161.0h0M859.3 167.0h0M865.8 161.1h0M877.3 155.2h0M860.0 164.8h0M874.2 153.1h0M865.1 162.2h0M865.3 165.2h0M886.8 148.2h0M862.0 164.3h0M862.4 163.9h0M864.4 161.7h0M871.2 158.8h0M864.8 164.5h0M867.1 160.8h0M863.9 160.5h0M877.6 154.6h0M870.1 158.4h0M873.0 155.6h0M859.5 168.5h0M876.0 155.4h0M875.7 154.5h0M857.9 166.8h0M872.6 155.8h0M879.3 153.1h0M876.0 155.2h0M866.0 161.3h0M872.4 153.9h0M877.4 155.7h0M872.7 155.6h0M870.8 160.2h0M876.2 154.5h0M888.7 147.1h0M868.4 162.0h0M868.7 160.3h0M863.5 162.0h0M878.4 153.0h0M870.7 156.5h0M866.5 160.6h0M875.0 153.1h0M868.5 161.0h0M873.5 155.3h0M875.1 155.1h0M869.3 161.2h0M857.2 166.4h0M880.9 152.6h0M873.9 154.9h0M873.0 157.4h0M877.0 156.0h0M857.2 167.7h0M881.5 150.7h0M879.2 153.2h0M884.4 150.0h0M878.7 150.4h0M859.8 166.3h0M867.5 161.5h0M871.1 156.8h0M871.6 156.6h0M865.0 162.6h0M875.5 156.6h0M874.5 155.9h0M872.2 156.6h0M873.8 153.0h0M878.2 156.1h0M880.1 150.1h0M877.5 153.9h0M883.8 148.8h0M861.9 162.3h0M879.0 154.8h0M862.6 164.0h0M893.3 142.0h0M873.4 158.0h0M860.5 165.3h0M861.6 164.1h0M873.6 154.2h0M874.2 157.4h0M871.7 157.5h0M863.5 162.9h0M880.3 152.1h0M884.5 147.0h0M865.5 162.1h0M873.8 155.1h0M867.0 160.0h0M875.2 154.2h0M865.3 163.8h0M875.0 154.1h0M851.2 171.3h0M863.4 162.0h0M875.8 153.4h0M874.1 154.6h0M876.0 153.6h0M885.5 147.2h0M869.8 159.7h0M871.6 156.9h0M865.9 161.1h0M858.1 166.7h0M878.2 153.3h0M871.4 160.4h0M868.7 158.5h0M868.5 159.3h0M882.7 150.6h0M863.2 163.5h0M871.7 159.4h0M876.0 153.9h0M880.3 152.8h0M876.0 154.9h0M873.9 156.2h0M870.2 157.6h0M876.5 153.6h0M864.3 164.6h0M870.1 157.8h0M866.2 161.3h0M870.7 157.3h0M882.6 149.1h0M865.3 164.4h0M877.9 153.7h0M873.0 156.5h0M868.4 158.6h0M859.4 167.6h0M863.7 160.8h0M868.1 156.2h0M865.6 163.1h0M866.8 160.0h0M888.2 147.0h0M877.1 153.6h0M872.1 159.8h0M874.9 155.8h0M872.6 158.2h0M875.5 155.0h0M865.3 161.2h0M875.4 155.4h0M875.7 153.3h0M850.0 170.7h0M866.5 160.6h0M860.7 165.9h0M869.7 157.6h0M878.4 152.9h0M868.4 159.5h0M869.2 160.2h0M854.3 170.8h0M877.2 154.0h0M891.7 143.8h0M875.5 155.8h0M876.6 152.0h0M858.1 165.5h0M882.1 150.9h0M851.7 173.0h0M882.9 150.9h0M859.3 166.4h0M878.3 154.6h0M865.7 164.0h0M878.8 152.2h0M865.9 161.2h0M870.9 156.1h0M875.9 155.8h0M877.0 154.4h0M893.7 142.6h0M869.7 160.5h0M872.2 157.4h0M888.8 148.7h0M864.7 164.4h0M868.4 162.2h0M867.6 164.1h0M865.1 161.4h0M870.7 158.9h0M872.0 159.5h0M879.9 150.8h0M875.9 154.1h0M861.9 163.0h0M870.3 159.5h0M870.4 158.6h0M863.1 160.4h0M879.7 154.9h0M861.2 163.4h0M879.0 153.4h0M880.0 153.3h0M860.8 164.7h0M870.4 160.1h0M865.1 159.2h0M881.6 149.7h0M866.6 160.1h0M863.5 164.4h0M872.5 157.1h0M874.2 154.5h0M863.4 165.4h0M868.6 158.6h0M860.5 164.5h0M853.4 171.5h0M868.8 161.5h0M874.5 155.2h0M862.5 163.7h0M848.7 175.0h0M868.2 159.1h0M886.1 146.5h0M884.2 150.0h0M868.6 159.7h0M883.0 145.8h0M878.0 152.0h0M880.1 152.0h0M859.8 165.4h0M858.2 163.3h0M857.8 166.5h0M853.6 168.6h0M878.0 155.6h0M881.9 153.2h0M868.5 160.9h0M859.1 166.1h0M847.3 173.1h0M871.0 159.3h0M861.6 166.7h0M877.9 153.9h0M867.7 160.6h0M873.2 158.6h0M863.1 163.1h0M860.2 166.3h0M872.1 156.1h0M883.7 151.0h0M877.8 154.3h0M884.5 151.1h0M874.6 154.5h0M864.8 161.1h0M874.7 155.9h0M869.1 158.4h0M869.6 160.5h0M861.9 164.3h0M874.5 154.6h0M868.0 160.7h0M876.1 156.3h0M868.6 161.0h0M876.0 154.8h0M854.0 167.5h0M864.7 161.3h0M876.1 153.6h0M872.4 156.7h0M851.0 171.5h0M864.5 163.7h0M868.1 160.4h0M862.5 164.0h0M871.8 156.5h0M888.2 147.0h0M884.2 151.1h0M861.2 164.1h0M875.8 156.1h0M869.7 158.7h0M870.0 156.7h0M874.8 153.9h0M881.4 149.2h0M863.7 165.6h0M868.7 161.0h0M873.2 158.0h0M881.0 151.2h0M872.2 157.7h0M866.5 159.3h0M865.5 161.7h0M871.7 157.2h0M877.9 154.0h0M871.7 159.0h0M886.9 145.1h0M872.2 158.1h0M867.6 161.4h0M881.6 151.9h0M877.9 154.0h0M883.4 151.0h0M868.9 160.1h0M869.2 158.2h0M869.9 160.1h0M870.0 160.3h0M875.1 156.0h0M863.0 162.7h0M880.2 152.8h0M863.9 161.2h0M862.3 164.9h0M864.1 165.6h0M858.6 167.2h0M866.8 159.4h0M875.8 155.9h0M868.6 158.3h0M876.7 155.3h0M865.3 158.4h0M870.9 157.2h0M872.3 159.3h0M870.0 159.9h0M883.4 146.1h0M878.6 150.8h0M865.1 161.9h0M866.8 161.8h0M865.6 161.3h0M876.5 153.2h0M850.9 172.0h0M864.4 160.5h0M889.0 146.3h0M869.0 159.5h0M849.2 174.6h0M863.1 164.7h0M852.0 173.0h0M871.2 156.1h0M871.9 158.3h0M869.0 162.5h0M866.1 163.7h0M879.0 151.0h0M856.1 168.6h0M881.2 150.0h0M865.3 159.3h0M878.3 153.2h0M870.8 156.5h0M864.3 162.6h0M874.6 153.1h0M877.1 154.2h0M863.6 164.0h0M872.4 154.4h0M872.1 156.4h0M873.6 157.4h0M871.2 157.2h0M873.8 155.7h0M873.6 157.5h0M877.1 153.4h0M872.3 157.9h0M869.7 158.6h0M884.7 151.0h0M864.9 161.0h0M867.0 157.7h0M885.2 149.1h0M887.7 147.6h0M852.2 169.5h0M878.6 152.6h0M875.6 155.4h0M862.4 161.7h0M875.4 154.9h0M879.6 152.6h0M856.5 167.2h0M867.1 161.1h0M857.5 164.0h0M874.9 153.2h0M874.9 156.8h0M878.8 153.8h0M878.7 150.4h0M866.1 162.2h0M882.6 149.2h0M858.8 166.1h0M884.1 149.5h0M857.4 166.6h0M876.1 155.9h0M877.5 155.8h0M872.8 157.5h0M874.1 157.4h0M871.4 159.1h0M876.5 153.4h0M875.1 155.2h0M871.8 157.3h0M872.9 157.1h0M859.3 164.8h0M870.6 157.1h0M859.0 169.5h0M868.3 157.9h0M878.0 153.4h0M874.4 155.7h0M868.4 160.4h0M859.2 166.8h0M879.1 153.6h0M876.5 154.3h0M881.1 152.1h0M853.9 169.1h0M858.9 165.7h0M885.4 146.9h0M877.2 152.1h0M856.8 166.4h0M868.4 158.8h0M851.1 170.7h0M870.5 157.7h0M859.2 163.9h0M865.2 163.2h0M881.2 154.2h0M869.2 158.3h0M862.3 165.2h0M865.8 161.0h0M859.5 165.9h0M875.1 153.8h0M873.8 155.5h0M874.2 154.3h0M864.3 161.3h0M870.0 157.9h0M859.8 165.5h0M878.6 153.8h0M870.6 157.8h0M880.4 149.9h0M891.2 145.3h0M874.1 156.4h0M884.1 146.7h0M863.7 163.2h0M869.1 160.4h0M873.0 155.3h0M861.9 166.7h0M862.9 161.8h0M863.4 162.6h0M875.2 154.8h0M859.2 168.6h0M883.4 149.4h0M857.2 168.3h0M874.0 155.6h0M880.0 154.2h0M869.1 159.1h0M872.7 157.1h0M870.4 160.7h0M880.3 153.3h0M860.4 166.3h0M866.6 158.5h0M881.8 148.2h0M859.3 162.8h0M861.4 165.3h0M883.5 150.7h0M874.0 157.3h0M867.7 160.2h0M868.9 158.1h0M880.7 149.0h0M872.4 157.2h0M856.8 166.0h0M873.5 155.0h0M871.7 156.9h0M870.4 157.6h0M869.6 160.3h0M857.1 166.2h0M874.5 156.2h0M876.8 154.3h0M852.2 172.7h0M864.6 162.3h0M860.4 166.5h0M871.2 156.1h0M876.0 156.0h0M874.7 152.5h0M877.2 154.5h0M890.7 145.3h0M885.8 148.0h0M854.6 166.6h0M881.0 151.8h0M873.4 158.4h0M870.2 158.8h0M873.5 156.4h0M866.7 161.0h0M875.6 156.7h0M871.3 158.4h0M874.8 154.0h0M862.8 163.9h0M867.4 159.0h0M865.0 159.7h0M880.3 152.2h0M879.2 148.9h0M870.6 158.6h0M865.4 163.2h0M870.9 158.7h0M870.2 158.1h0M867.0 160.8h0M881.7 150.3h0M864.2 161.8h0M878.8 154.6h0M876.2 155.0h0M876.2 152.8h0M867.5 161.1h0M875.2 158.0h0M867.4 161.8h0M883.3 148.0h0M870.2 159.6h0M874.4 156.1h0M884.2 150.6h0M862.4 162.9h0M863.3 163.0h0M877.1 154.0h0M879.0 153.3h0M864.6 159.5h0M865.7 159.8h0M859.7 165.3h0M886.3 146.5h0M877.6 154.4h0M870.6 157.0h0M886.3 147.3h0M887.5 146.9h0M870.0 158.7h0M866.5 160.1h0M875.3 153.8h0M875.9 153.0h0M856.0 168.0h0M879.4 151.0h0M887.7 148.1h0M870.7 160.0h0M868.6 159.6h0M874.4 155.5h0M880.2 149.9h0M861.2 162.5h0M868.1 159.6h0M868.4 157.9h0M878.1 153.0h0M882.6 151.2h0M881.4 147.3h0M864.6 166.4h0M865.0 163.9h0M873.0 161.3h0M866.2 163.6h0M864.7 161.2h0M874.7 159.6h0M876.0 156.2h0M874.9 158.9h0M867.0 162.5h0M872.5 158.2h0M869.9 163.0h0M869.7 160.6h0M882.6 152.4h0M866.3 165.1h0M872.4 156.0h0M879.2 150.3h0M867.2 156.4h0M877.4 155.3h0M868.6 160.5h0M867.6 166.7h0M866.4 159.3h0M881.8 150.5h0M867.7 165.6h0M874.4 158.3h0M859.1 165.1h0M873.3 158.0h0M864.2 158.9h0M873.7 157.1h0M872.3 158.8h0M866.7 165.2h0M867.1 163.5h0M877.3 151.1h0M874.9 156.5h0M868.9 164.9h0M868.7 157.8h0M862.7 168.2h0M869.5 158.1h0M871.6 151.9h0M865.0 161.8h0M867.4 162.2h0M874.8 153.9h0M883.1 155.5h0M863.8 164.3h0M860.1 166.8h0M880.3 151.3h0M860.5 165.3h0M878.3 154.1h0M860.6 162.0h0M865.1 166.7h0M875.6 155.2h0M878.3 155.9h0M882.6 150.4h0M867.1 162.6h0M876.8 154.4h0M866.1 164.1h0M877.7 151.5h0M869.4 158.9h0M861.8 166.8h0M865.3 164.0h0M876.2 155.5h0M866.0 161.7h0M870.8 158.6h0M872.8 163.2h0M883.3 150.0h0M866.3 165.3h0M882.0 152.8h0M878.0 151.4h0M868.1 163.0h0M879.3 154.9h0M875.0 157.8h0M883.2 151.7h0M882.1 151.5h0M873.4 160.8h0M864.5 165.6h0M874.7 153.1h0M868.8 166.0h0M872.9 155.5h0M870.8 161.7h0M877.0 154.8h0M869.5 161.2h0M859.7 165.9h0M879.9 157.6h0M866.0 160.7h0M865.1 165.2h0M876.4 157.8h0M882.4 150.1h0M877.6 148.8h0M863.7 168.3h0M881.3 153.1h0M871.2 161.1h0M860.7 166.8h0M864.8 164.7h0M878.4 152.3h0M876.3 156.8h0M865.4 164.6h0M881.0 153.0h0M864.3 169.2h0M879.2 150.0h0M861.6 168.3h0M878.8 156.1h0M862.4 166.2h0M862.8 165.7h0M883.8 151.3h0M875.7 151.6h0M867.4 162.9h0M867.9 163.1h0M864.8 166.2h0M878.7 154.5h0M871.7 156.8h0M878.7 155.6h0M873.6 160.1h0M881.6 152.4h0M867.5 161.3h0M859.9 167.3h0M877.4 155.1h0M868.8 162.6h0M883.9 154.4h0M867.6 161.5h0M875.7 153.9h0M872.2 156.9h0M874.0 157.7h0M869.0 161.7h0M885.1 153.7h0M863.3 167.0h0M882.5 148.5h0M863.7 162.4h0M879.9 153.3h0M878.6 154.7h0M861.3 167.3h0M872.5 161.8h0M862.1 167.9h0M877.0 158.8h0M868.7 159.1h0M884.4 151.5h0M876.6 162.7h0M875.3 154.9h0M877.9 155.6h0M862.3 163.4h0M871.0 159.3h0M868.1 165.3h0M866.8 161.8h0M879.1 152.3h0M874.6 155.9h0M867.8 158.5h0M864.3 164.9h0M877.1 152.3h0M875.9 158.1h0M882.1 156.0h0M866.9 167.8h0M874.6 154.1h0M864.2 165.3h0M880.9 154.5h0M864.2 160.2h0M863.2 166.1h0M868.0 161.5h0M875.7 157.8h0M878.2 160.7h0M865.7 160.4h0M861.0 165.3h0M860.2 165.3h0M874.9 153.1h0M864.8 167.7h0M878.2 157.5h0M874.0 157.7h0M877.3 150.5h0M870.0 164.0h0M881.6 153.3h0M881.1 152.0h0M878.5 152.6h0M881.2 153.5h0M869.1 164.3h0M863.0 168.6h0M863.6 161.9h0M879.5 148.3h0M877.5 160.3h0M874.2 160.1h0M874.1 156.6h0M865.0 165.7h0M878.5 151.6h0M883.9 150.2h0M876.6 152.3h0M880.1 157.7h0M866.1 161.2h0M879.5 153.2h0M865.0 163.6h0M867.3 165.5h0M861.0 166.6h0M866.8 158.0h0M865.0 165.5h0M877.4 153.9h0M878.6 150.3h0M870.7 164.3h0M864.6 163.1h0M860.4 166.4h0M871.9 155.1h0M874.4 154.3h0"/>
<path stroke-width="1.15" stroke="#c81c24" d="M859.7 161.0h0M866.2 163.7h0M873.1 152.7h0M859.7 163.4h0M871.8 156.9h0M875.7 151.3h0M877.4 162.3h0M880.2 154.9h0M868.1 165.7h0M872.8 165.5h0M873.2 157.6h0M864.8 167.6h0M874.7 158.3h0M859.6 165.4h0M883.2 155.4h0M862.9 161.7h0M876.5 153.2h0M866.1 165.5h0M864.5 167.9h0M883.5 151.5h0M871.3 158.9h0M866.7 160.7h0M870.2 161.4h0M872.0 164.0h0M885.3 148.1h0M879.7 153.5h0M871.4 158.4h0M870.6 164.6h0M883.2 151.9h0M880.2 146.0h0M869.1 158.2h0M881.0 153.6h0M876.6 154.7h0M876.1 149.5h0M875.0 154.6h0M876.7 160.0h0M880.8 159.1h0M872.2 162.7h0M880.0 155.0h0M873.8 153.9h0M870.3 159.4h0M879.5 153.7h0M878.4 158.6h0M884.8 156.8h0M869.0 161.6h0M868.2 160.3h0M878.3 155.7h0M870.4 166.0h0M872.6 160.1h0M886.6 152.1h0M874.7 156.8h0M856.5 163.0h0M880.3 158.8h0M873.9 163.4h0M883.0 151.4h0M878.9 156.1h0M867.6 168.4h0M861.5 164.8h0M876.4 149.0h0M861.0 164.1h0M885.6 157.1h0M865.3 163.1h0M868.1 166.2h0M876.5 153.8h0M870.1 156.2h0M881.7 153.4h0M881.7 150.9h0M875.1 158.5h0M866.5 162.2h0M859.2 165.9h0M878.2 132.0h0M864.7 136.6h0M876.5 124.6h0M894.1 129.0h0M877.7 143.6h0M889.6 132.9h0M879.5 134.8h0M870.9 134.5h0M869.8 140.1h0M887.4 127.1h0M877.6 128.7h0M886.7 129.7h0M874.8 136.2h0M884.4 130.0h0M875.4 124.3h0M874.2 146.1h0M882.9 123.6h0M880.4 123.7h0M888.3 132.9h0M874.4 141.0h0M873.7 131.6h0M879.5 140.1h0M880.8 141.6h0M863.3 123.7h0M867.0 129.7h0M876.9 125.3h0M880.5 119.4h0M874.5 127.9h0M872.8 135.4h0M878.1 149.1h0M880.1 128.7h0M876.1 133.7h0M876.8 125.5h0M871.1 142.9h0M867.7 126.4h0M884.4 130.6h0M868.4 137.6h0M883.4 125.1h0M870.1 126.4h0M885.4 120.8h0M867.6 134.0h0M870.6 135.0h0M879.1 125.3h0M883.7 129.0h0M886.0 138.5h0M888.6 129.1h0M884.2 133.5h0M882.9 122.1h0M887.6 139.6h0M868.3 135.8h0M882.6 125.5h0M884.2 122.5h0M871.2 131.5h0M872.8 118.4h0M876.5 136.8h0M876.7 134.8h0M877.3 129.8h0M876.6 140.2h0M884.5 136.9h0M880.1 146.9h0M872.2 129.3h0M881.2 131.8h0M880.3 130.1h0M882.0 139.5h0M881.1 128.6h0M882.4 136.7h0M879.9 129.6h0M885.0 127.6h0M880.8 137.8h0M879.9 141.6h0M883.9 134.9h0M891.9 134.5h0M881.9 125.2h0M875.5 137.5h0M872.5 128.5h0M879.9 129.5h0M871.6 137.7h0M875.9 124.8h0M885.3 136.2h0M872.3 135.7h0M875.5 131.9h0M872.4 128.3h0M874.4 131.9h0M874.2 132.1h0M873.2 131.4h0M875.8 130.2h0M873.1 130.7h0M875.1 134.5h0M873.3 132.8h0M872.5 130.1h0M876.3 130.8h0M876.4 130.4h0M873.9 131.7h0M875.0 130.7h0M872.7 130.7h0M876.5 129.3h0M872.2 131.6h0M872.4 131.7h0M874.3 132.1h0M874.9 130.2h0M874.9 131.8h0M874.1 130.7h0M873.1 131.1h0M876.7 133.1h0M873.4 130.1h0M877.6 143.8h0M882.9 147.8h0M880.4 147.2h0M878.3 142.3h0M887.7 139.8h0M895.6 141.1h0M890.9 139.8h0M879.4 140.3h0M881.7 145.3h0M888.1 145.2h0M881.8 138.9h0M875.2 151.8h0M872.8 145.7h0M876.5 141.5h0M886.1 139.0h0M876.0 140.9h0M871.5 141.7h0M884.6 143.6h0M886.4 143.5h0M877.7 141.7h0M876.9 139.9h0M877.5 147.7h0M883.2 142.9h0M868.8 142.7h0M875.1 142.1h0M871.6 151.3h0M878.6 141.6h0M871.9 135.8h0M883.9 144.8h0M881.7 142.9h0M870.3 142.5h0M872.6 144.3h0M880.3 140.3h0M883.5 135.2h0M879.2 148.3h0M876.0 142.9h0M881.7 138.4h0M884.7 146.8h0M881.2 138.7h0M875.6 143.5h0M889.2 145.4h0M884.3 146.7h0M885.4 150.0h0M882.4 145.2h0M885.5 143.6h0M869.5 145.4h0M892.2 144.6h0M875.1 148.0h0M870.9 146.2h0M869.9 147.5h0M848.8 184.7h0M860.1 179.6h0M858.7 184.3h0M854.7 183.7h0M858.5 185.2h0M862.6 173.3h0M861.7 171.1h0M854.9 183.7h0M861.3 179.5h0M855.6 181.6h0M859.7 193.8h0M860.4 184.8h0M855.9 191.2h0M862.4 176.6h0M856.1 188.3h0M863.3 171.7h0M853.8 184.6h0M854.4 190.0h0M853.2 185.0h0M855.5 187.4h0M850.8 184.1h0M860.5 175.1h0M868.3 174.4h0M855.1 178.2h0M863.9 178.6h0M866.3 175.6h0M857.8 185.7h0M850.7 185.4h0M853.4 186.5h0M856.4 187.6h0M860.4 179.1h0M859.6 168.3h0M862.9 179.2h0M862.9 172.8h0M855.4 188.6h0M835.2 210.1h0M836.1 210.3h0M812.5 201.0h0M809.4 196.1h0M825.7 200.1h0M830.6 210.3h0M821.6 195.6h0M816.2 210.3h0M835.6 194.2h0M831.4 196.1h0M833.5 195.2h0M828.3 204.3h0M848.1 195.4h0M823.5 199.4h0M822.7 196.1h0M837.3 177.6h0M813.2 195.3h0M821.9 201.2h0M846.7 190.4h0M838.9 189.8h0M846.4 205.6h0M844.4 202.5h0M831.0 195.5h0M833.0 190.4h0M832.1 195.4h0M819.6 194.4h0M823.5 189.2h0M826.5 199.5h0M818.5 201.2h0M814.1 213.1h0M826.7 192.3h0M811.2 206.1h0M842.5 194.9h0M831.1 204.2h0M820.0 196.1h0M810.7 198.9h0M824.0 199.0h0M808.2 203.5h0M820.1 208.4h0M833.0 201.0h0M820.7 187.5h0M836.9 196.1h0M915.0 108.0h0M909.0 129.0h0M904.0 121.0h0M893.0 138.0h0"/>
</g>
<rect x="804.00" y="147.95" width="145.00" height="1.9" fill="#d3202a"/>
<rect x="849.65" y="72.60" width="1.9" height="146.90" fill="#d3202a"/>
<path fill-rule="evenodd" fill="#000" d="M801.0 69.0H953.0V223.0H801.0ZM804.00 72.60V219.50H949.00V72.60Z"/>
<rect x="486.4" y="72.7" width="2.3" height="148.8" fill="#4a4a4a"/>
<g font-family='"Liberation Sans", Arial, sans-serif' font-size="9.2" fill="#1c1c1c" stroke="#1c1c1c" stroke-width="0.22">
<text x="48.8" y="81.6" textLength="22.5" lengthAdjust="spacingAndGlyphs">Dead</text>
<text x="48.8" y="94" textLength="26.8" lengthAdjust="spacingAndGlyphs">0.15%</text>
<text x="183.1" y="81.6" text-anchor="end" textLength="68.7" lengthAdjust="spacingAndGlyphs">Caspase+/Dead</text>
<text x="183.1" y="94" text-anchor="end" textLength="26.8" lengthAdjust="spacingAndGlyphs">0.90%</text>
<text x="49.4" y="203.5" textLength="32.2" lengthAdjust="spacingAndGlyphs">93.50%</text>
<text x="49.4" y="215.8" textLength="17.4" lengthAdjust="spacingAndGlyphs">Live</text>
<text x="183.1" y="203.5" text-anchor="end" textLength="26.8" lengthAdjust="spacingAndGlyphs">5.45%</text>
<text x="183.1" y="215.8" text-anchor="end" textLength="42.5" lengthAdjust="spacingAndGlyphs">Caspase+</text>
<text x="201.5" y="81.6" textLength="22.5" lengthAdjust="spacingAndGlyphs">Dead</text>
<text x="201.5" y="94" textLength="26.8" lengthAdjust="spacingAndGlyphs">0.00%</text>
<text x="336.0" y="81.6" text-anchor="end" textLength="68.7" lengthAdjust="spacingAndGlyphs">Caspase+/Dead</text>
<text x="336.0" y="94" text-anchor="end" textLength="26.8" lengthAdjust="spacingAndGlyphs">1.85%</text>
<text x="202.1" y="203.5" textLength="32.2" lengthAdjust="spacingAndGlyphs">88.05%</text>
<text x="202.1" y="215.8" textLength="17.4" lengthAdjust="spacingAndGlyphs">Live</text>
<text x="336.0" y="203.5" text-anchor="end" textLength="31.4" lengthAdjust="spacingAndGlyphs">10.10%</text>
<text x="336.0" y="215.8" text-anchor="end" textLength="42.5" lengthAdjust="spacingAndGlyphs">Caspase+</text>
<text x="351.2" y="81.6" textLength="22.5" lengthAdjust="spacingAndGlyphs">Dead</text>
<text x="351.2" y="94" textLength="26.8" lengthAdjust="spacingAndGlyphs">0.10%</text>
<text x="484.1" y="81.6" text-anchor="end" textLength="68.7" lengthAdjust="spacingAndGlyphs">Caspase+/Dead</text>
<text x="484.1" y="94" text-anchor="end" textLength="26.8" lengthAdjust="spacingAndGlyphs">5.05%</text>
<text x="351.8" y="203.5" textLength="32.2" lengthAdjust="spacingAndGlyphs">69.90%</text>
<text x="351.8" y="215.8" textLength="17.4" lengthAdjust="spacingAndGlyphs">Live</text>
<text x="484.1" y="203.5" text-anchor="end" textLength="32.2" lengthAdjust="spacingAndGlyphs">24.95%</text>
<text x="484.1" y="215.8" text-anchor="end" textLength="42.5" lengthAdjust="spacingAndGlyphs">Caspase+</text>
<text x="500.8" y="81.6" textLength="22.5" lengthAdjust="spacingAndGlyphs">Dead</text>
<text x="500.8" y="94" textLength="26.8" lengthAdjust="spacingAndGlyphs">0.15%</text>
<text x="633.6" y="81.6" text-anchor="end" textLength="68.7" lengthAdjust="spacingAndGlyphs">Caspase+/Dead</text>
<text x="633.6" y="94" text-anchor="end" textLength="31.4" lengthAdjust="spacingAndGlyphs">16.05%</text>
<text x="501.4" y="203.5" textLength="32.2" lengthAdjust="spacingAndGlyphs">44.20%</text>
<text x="501.4" y="215.8" textLength="17.4" lengthAdjust="spacingAndGlyphs">Live</text>
<text x="633.6" y="203.5" text-anchor="end" textLength="32.2" lengthAdjust="spacingAndGlyphs">39.60%</text>
<text x="633.6" y="215.8" text-anchor="end" textLength="42.5" lengthAdjust="spacingAndGlyphs">Caspase+</text>
<text x="654.4" y="81.6" textLength="22.5" lengthAdjust="spacingAndGlyphs">Dead</text>
<text x="654.4" y="94" textLength="26.8" lengthAdjust="spacingAndGlyphs">0.75%</text>
<text x="786.8" y="81.6" text-anchor="end" textLength="68.7" lengthAdjust="spacingAndGlyphs">Caspase+/Dead</text>
<text x="786.8" y="94" text-anchor="end" textLength="31.4" lengthAdjust="spacingAndGlyphs">16.70%</text>
<text x="655.0" y="203.5" textLength="32.2" lengthAdjust="spacingAndGlyphs">21.00%</text>
<text x="655.0" y="215.8" textLength="17.4" lengthAdjust="spacingAndGlyphs">Live</text>
<text x="786.8" y="203.5" text-anchor="end" textLength="32.2" lengthAdjust="spacingAndGlyphs">61.55%</text>
<text x="786.8" y="215.8" text-anchor="end" textLength="42.5" lengthAdjust="spacingAndGlyphs">Caspase+</text>
<text x="805.6" y="81.6" textLength="22.5" lengthAdjust="spacingAndGlyphs">Dead</text>
<text x="805.6" y="94" textLength="26.8" lengthAdjust="spacingAndGlyphs">0.00%</text>
<text x="946.0" y="81.6" text-anchor="end" textLength="68.7" lengthAdjust="spacingAndGlyphs">Caspase+/Dead</text>
<text x="946.0" y="94" text-anchor="end" textLength="26.8" lengthAdjust="spacingAndGlyphs">9.40%</text>
<text x="806.2" y="203.5" textLength="26.8" lengthAdjust="spacingAndGlyphs">4.10%</text>
<text x="806.2" y="215.8" textLength="17.4" lengthAdjust="spacingAndGlyphs">Live</text>
<text x="946.0" y="203.5" text-anchor="end" textLength="32.2" lengthAdjust="spacingAndGlyphs">86.50%</text>
<text x="946.0" y="215.8" text-anchor="end" textLength="42.5" lengthAdjust="spacingAndGlyphs">Caspase+</text>
</g>
<g font-family='"Liberation Sans", Arial, sans-serif' font-size="14.3" fill="#111" stroke="#111" stroke-width="0.35">
<text x="17" y="63" textLength="72.5" lengthAdjust="spacingAndGlyphs">Doxo (µM)</text>
<text x="113.6" y="63" text-anchor="middle" textLength="8.4" lengthAdjust="spacingAndGlyphs">0</text>
<text x="269.25" y="63" text-anchor="middle" textLength="25.3" lengthAdjust="spacingAndGlyphs">100</text>
<text x="421.5" y="63" text-anchor="middle" textLength="25.3" lengthAdjust="spacingAndGlyphs">300</text>
<text x="573" y="63" text-anchor="middle" textLength="25.3" lengthAdjust="spacingAndGlyphs">600</text>
<text x="722.3" y="63" text-anchor="middle" textLength="25.3" lengthAdjust="spacingAndGlyphs">900</text>
<text x="873.9" y="63" text-anchor="middle" textLength="33.8" lengthAdjust="spacingAndGlyphs">1200</text>
<text x="33.5" y="248.5" textLength="60.5" lengthAdjust="spacingAndGlyphs">Negative</text>
<text x="442.3" y="248.5" textLength="91" lengthAdjust="spacingAndGlyphs">Multicaspase</text>
<text x="897" y="248.5" textLength="54.3" lengthAdjust="spacingAndGlyphs">Positive</text>
<text transform="translate(23.6 206) rotate(-90)" font-size="15.7" textLength="123" lengthAdjust="spacingAndGlyphs">Live Viability Dead</text>
</g>
<text x="21" y="18.8" font-family='"Liberation Sans", Arial, sans-serif' font-weight="bold" font-size="14.6" fill="#111" textLength="11.3" lengthAdjust="spacingAndGlyphs">A</text>
<text x="239" y="332.6" font-family='"Liberation Sans", Arial, sans-serif' font-weight="bold" font-size="13.9" fill="#111" textLength="11.6" lengthAdjust="spacingAndGlyphs">B</text>
<rect x="363.60" y="554.00" width="21.6" height="14.50" fill="#5f5f5f"/>
<path d="M371.00 553.30h6.8M371.00 555.40h6.8M374.40 553.30V555.40" stroke="#111" stroke-width="1.2" fill="none"/>
<rect x="418.26" y="543.00" width="21.6" height="25.50" fill="#5f5f5f"/>
<path d="M425.66 541.00h6.8M425.66 544.60h6.8M429.06 541.00V544.60" stroke="#111" stroke-width="1.2" fill="none"/>
<rect x="472.92" y="499.00" width="21.6" height="69.50" fill="#5f5f5f"/>
<path d="M480.32 489.40h6.8M480.32 510.00h6.8M483.72 489.40V510.00" stroke="#111" stroke-width="1.2" fill="none"/>
<rect x="527.58" y="438.70" width="21.6" height="129.80" fill="#5f5f5f"/>
<path d="M534.98 437.00h6.8M534.98 442.00h6.8M538.38 437.00V442.00" stroke="#111" stroke-width="1.2" fill="none"/>
<rect x="582.24" y="385.40" width="21.6" height="183.10" fill="#5f5f5f"/>
<path d="M589.64 385.60h6.8M589.64 386.60h6.8M593.04 385.60V386.60" stroke="#111" stroke-width="1.2" fill="none"/>
<rect x="636.90" y="346.90" width="21.6" height="221.60" fill="#5f5f5f"/>
<path d="M644.30 344.40h6.8M644.30 351.30h6.8M647.70 344.40V351.30" stroke="#111" stroke-width="1.2" fill="none"/>
<rect x="342.6" y="568.75" width="4" height="1" fill="#9a9a9a"/>
<rect x="342.6" y="545.60" width="4" height="1" fill="#9a9a9a"/>
<rect x="342.6" y="522.45" width="4" height="1" fill="#9a9a9a"/>
<rect x="342.6" y="499.30" width="4" height="1" fill="#9a9a9a"/>
<rect x="342.6" y="476.15" width="4" height="1" fill="#9a9a9a"/>
<rect x="342.6" y="453.00" width="4" height="1" fill="#9a9a9a"/>
<rect x="342.6" y="429.85" width="4" height="1" fill="#9a9a9a"/>
<rect x="342.6" y="406.70" width="4" height="1" fill="#9a9a9a"/>
<rect x="342.6" y="383.55" width="4" height="1" fill="#9a9a9a"/>
<rect x="342.6" y="360.40" width="4" height="1" fill="#9a9a9a"/>
<rect x="342.6" y="337.25" width="4" height="1" fill="#9a9a9a"/>
<rect x="347.25" y="570.5" width="1" height="4" fill="#9a9a9a"/>
<rect x="401.91" y="570.5" width="1" height="4" fill="#9a9a9a"/>
<rect x="456.57" y="570.5" width="1" height="4" fill="#9a9a9a"/>
<rect x="511.23" y="570.5" width="1" height="4" fill="#9a9a9a"/>
<rect x="565.89" y="570.5" width="1" height="4" fill="#9a9a9a"/>
<rect x="620.55" y="570.5" width="1" height="4" fill="#9a9a9a"/>
<rect x="675.21" y="570.5" width="1" height="4" fill="#9a9a9a"/>
<rect x="346.1" y="336.6" width="3.5" height="234.4" fill="#3c3c3c"/>
<rect x="346.1" y="567.6" width="330.8" height="3.4" fill="#3c3c3c"/>
<rect x="346.1" y="336.6" width="330.8" height="2.8" fill="#000"/>
<rect x="673.3" y="336.6" width="3.6" height="234.4" fill="#000"/>
<g font-family='"Liberation Sans", Arial, sans-serif' font-size="15.5" fill="#111" stroke="#111" stroke-width="0.35">
<text x="341.7" y="576.6" text-anchor="end" textLength="8.2" lengthAdjust="spacingAndGlyphs">0</text>
<text x="341.7" y="530.4" text-anchor="end" textLength="16.5" lengthAdjust="spacingAndGlyphs">20</text>
<text x="341.7" y="484.0" text-anchor="end" textLength="16.5" lengthAdjust="spacingAndGlyphs">40</text>
<text x="341.7" y="437.8" text-anchor="end" textLength="16.5" lengthAdjust="spacingAndGlyphs">60</text>
<text x="341.7" y="391.4" text-anchor="end" textLength="16.5" lengthAdjust="spacingAndGlyphs">80</text>
<text x="341.7" y="345.1" text-anchor="end" textLength="23.7" lengthAdjust="spacingAndGlyphs">100</text>
<text x="373.8" y="590.2" text-anchor="middle" textLength="8.2" lengthAdjust="spacingAndGlyphs">0</text>
<text x="428.5" y="590.2" text-anchor="middle" textLength="24.7" lengthAdjust="spacingAndGlyphs">100</text>
<text x="483.1" y="590.2" text-anchor="middle" textLength="24.7" lengthAdjust="spacingAndGlyphs">300</text>
<text x="537.8" y="590.2" text-anchor="middle" textLength="24.7" lengthAdjust="spacingAndGlyphs">600</text>
<text x="592.4" y="590.2" text-anchor="middle" textLength="24.7" lengthAdjust="spacingAndGlyphs">900</text>
<text x="647.1" y="590.2" text-anchor="middle" textLength="32.9" lengthAdjust="spacingAndGlyphs">1200</text>
<text transform="translate(315.2 549.5) rotate(-90)" font-size="17.4" textLength="199.5" lengthAdjust="spacingAndGlyphs">Percentage of apoptotic cells</text>
</g>
<g font-family='"Liberation Sans", Arial, sans-serif' font-size="12.7" fill="#0a0a0a" stroke="#0a0a0a" stroke-width="0.15">
<text x="6.6" y="619.8" font-weight="bold" textLength="40.1" lengthAdjust="spacingAndGlyphs">Figure</text>
<text x="50.9" y="619.8" font-weight="bold" textLength="6.2" lengthAdjust="spacingAndGlyphs">1</text>
<text x="62.1" y="619.8" textLength="69.7" lengthAdjust="spacingAndGlyphs">Doxorubicin</text>
<text x="135.8" y="619.8" textLength="35.9" lengthAdjust="spacingAndGlyphs">affects</text>
<text x="175.8" y="619.8" textLength="22.1" lengthAdjust="spacingAndGlyphs">Hela</text>
<text x="202.6" y="619.8" textLength="13.4" lengthAdjust="spacingAndGlyphs">S3</text>
<text x="220.8" y="619.8" textLength="15.9" lengthAdjust="spacingAndGlyphs">cell</text>
<text x="242.1" y="619.8" textLength="55.9" lengthAdjust="spacingAndGlyphs">apoptosis.</text>
<text x="6.6" y="637.5" font-weight="bold" textLength="41.4" lengthAdjust="spacingAndGlyphs">Notes:</text>
<text x="54.1" y="637.5" textLength="20.1" lengthAdjust="spacingAndGlyphs">The</text>
<text x="79.6" y="637.5" textLength="29.6" lengthAdjust="spacingAndGlyphs">HeLa</text>
<text x="114.1" y="637.5" textLength="12.7" lengthAdjust="spacingAndGlyphs">S3</text>
<text x="131.6" y="637.5" textLength="23.9" lengthAdjust="spacingAndGlyphs">cells</text>
<text x="160.3" y="637.5" textLength="23.9" lengthAdjust="spacingAndGlyphs">were</text>
<text x="188.8" y="637.5" textLength="44.1" lengthAdjust="spacingAndGlyphs">treated</text>
<text x="238.3" y="637.5" textLength="23.4" lengthAdjust="spacingAndGlyphs">with</text>
<text x="267.1" y="637.5" textLength="69.7" lengthAdjust="spacingAndGlyphs">Doxorubicin</text>
<text x="342.1" y="637.5" textLength="13.4" lengthAdjust="spacingAndGlyphs">(0,</text>
<text x="362.1" y="637.5" textLength="18.4" lengthAdjust="spacingAndGlyphs">100,</text>
<text x="388.4" y="637.5" textLength="20.9" lengthAdjust="spacingAndGlyphs">300,</text>
<text x="417.1" y="637.5" textLength="20.9" lengthAdjust="spacingAndGlyphs">600,</text>
<text x="445.9" y="637.5" textLength="19.6" lengthAdjust="spacingAndGlyphs">900</text>
<text x="470.9" y="637.5" textLength="19.6" lengthAdjust="spacingAndGlyphs">and</text>
<text x="495.9" y="637.5" textLength="23.4" lengthAdjust="spacingAndGlyphs">1200</text>
<text x="525.9" y="637.5" textLength="23.4" lengthAdjust="spacingAndGlyphs">µM)</text>
<text x="555.1" y="637.5" textLength="15.4" lengthAdjust="spacingAndGlyphs">for</text>
<text x="576.6" y="637.5" textLength="12.7" lengthAdjust="spacingAndGlyphs">24</text>
<text x="594.6" y="637.5" textLength="33.4" lengthAdjust="spacingAndGlyphs">hours.</text>
<text x="634.6" y="637.5" textLength="4.5" lengthAdjust="spacingAndGlyphs">(</text>
<text x="638.8" y="637.5" font-weight="bold" textLength="10.3" lengthAdjust="spacingAndGlyphs">A</text>
<text x="648.6" y="637.5" textLength="4.4" lengthAdjust="spacingAndGlyphs">)</text>
<text x="659.1" y="637.5" textLength="18.6" lengthAdjust="spacingAndGlyphs">The</text>
<text x="684.6" y="637.5" textLength="60.9" lengthAdjust="spacingAndGlyphs">percentage</text>
<text x="751.8" y="637.5" textLength="11.2" lengthAdjust="spacingAndGlyphs">of</text>
<text x="767.4" y="637.5" textLength="50.9" lengthAdjust="spacingAndGlyphs">apoptosis</text>
<text x="823.6" y="637.5" textLength="24.4" lengthAdjust="spacingAndGlyphs">cells</text>
<text x="853.4" y="637.5" textLength="7.8" lengthAdjust="spacingAndGlyphs">is</text>
<text x="866.5" y="637.5" textLength="37.1" lengthAdjust="spacingAndGlyphs">shown.</text>
<text x="909.6" y="637.5" textLength="4.4" lengthAdjust="spacingAndGlyphs">(</text>
<text x="913.9" y="637.5" font-weight="bold" textLength="11.2" lengthAdjust="spacingAndGlyphs">B</text>
<text x="924.8" y="637.5" textLength="4.4" lengthAdjust="spacingAndGlyphs">)</text>
<text x="934.6" y="637.5" textLength="22.1" lengthAdjust="spacingAndGlyphs">Bars</text>
<text x="6.6" y="655.0" textLength="52.6" lengthAdjust="spacingAndGlyphs">represent</text>
<text x="64.1" y="655.0" textLength="27.6" lengthAdjust="spacingAndGlyphs">mean</text>
<text x="96.6" y="655.0" textLength="11.4" lengthAdjust="spacingAndGlyphs">of</text>
<text x="112.1" y="655.0" textLength="27.1" lengthAdjust="spacingAndGlyphs">three</text>
<text x="144.1" y="655.0" textLength="65.9" lengthAdjust="spacingAndGlyphs">independent</text>
<text x="218.6" y="655.0" textLength="68.2" lengthAdjust="spacingAndGlyphs">experiments</text>
<text x="290.9" y="655.0" textLength="59.6" lengthAdjust="spacingAndGlyphs">performed</text>
<text x="355.9" y="655.0" textLength="8.4" lengthAdjust="spacingAndGlyphs">in</text>
<text x="368.4" y="655.0" textLength="50.9" lengthAdjust="spacingAndGlyphs">triplicate.</text>
</g>
</svg>
</body></html>
